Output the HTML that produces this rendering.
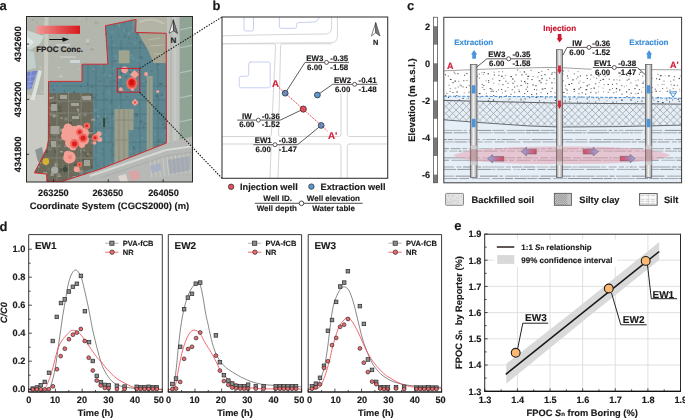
<!DOCTYPE html><html><head><meta charset="utf-8"><style>html,body{margin:0;padding:0;background:#fff;width:685px;height:418px;overflow:hidden}svg{display:block;filter:blur(0.35px)}text{font-family:"Liberation Sans",sans-serif;text-rendering:geometricPrecision}</style></head><body>
<svg width="685" height="418" viewBox="0 0 685 418">
<defs>
<clipPath id="ca"><rect x="26.5" y="16.5" width="166" height="165.5"/></clipPath>
<clipPath id="cb"><rect x="222" y="17" width="165.7" height="161.3"/></clipPath>
<clipPath id="cc"><rect x="443.8" y="17.3" width="237.8" height="165.5"/></clipPath>
<linearGradient id="gconc" x1="0" x2="1" y1="0" y2="0"><stop offset="0" stop-color="#ee9a96"/><stop offset="0.5" stop-color="#e55656"/><stop offset="1" stop-color="#d8191c"/></linearGradient>
<radialGradient id="gblob"><stop offset="0" stop-color="#f39a94"/><stop offset="0.75" stop-color="#f2a098"/><stop offset="1" stop-color="#f2a098" stop-opacity="0.6"/></radialGradient>
<radialGradient id="gred"><stop offset="0" stop-color="#d40c10"/><stop offset="0.45" stop-color="#e23a36"/><stop offset="1" stop-color="#f08a84" stop-opacity="0.2"/></radialGradient>
<linearGradient id="gpipe" x1="0" x2="1" y1="0" y2="0"><stop offset="0" stop-color="#8a8a8a"/><stop offset="0.45" stop-color="#f4f4f4"/><stop offset="1" stop-color="#9a9a9a"/></linearGradient>
<linearGradient id="garrL" x1="0" x2="1" y1="0" y2="0"><stop offset="0" stop-color="#8eaae0"/><stop offset="1" stop-color="#e0485e"/></linearGradient>
<linearGradient id="garrR" x1="0" x2="1" y1="0" y2="0"><stop offset="0" stop-color="#e0485e"/><stop offset="1" stop-color="#8eaae0"/></linearGradient>
<pattern id="phatch" width="6.8" height="6.8" patternUnits="userSpaceOnUse" x="0.5" y="1.2"><path d="M0,0 L6.8,6.8 M6.8,0 L0,6.8" stroke="#979ba0" stroke-width="0.75" fill="none"/></pattern>
</defs>
<g clip-path="url(#ca)">
<rect x="26" y="16" width="168" height="168" fill="#b3b6ac"/>
<rect x="101.1" y="108.92" width="3" height="3" fill="#c8cac2"/><rect x="167.94" y="47.52" width="4" height="3" fill="#c8cac2"/><rect x="157.63" y="31.62" width="2" height="1.5" fill="#a8aa9e"/><rect x="115.42" y="163.8" width="1" height="3" fill="#a2a69c"/><rect x="134.55" y="118.18" width="1.5" height="1" fill="#c8cac2"/><rect x="36.49" y="21.92" width="1.5" height="1" fill="#a2a69c"/><rect x="80.16" y="114.1" width="1.5" height="1.5" fill="#babdb3"/><rect x="108.96" y="125.97" width="3" height="2" fill="#a2a69c"/><rect x="191.61" y="181.28" width="1" height="2" fill="#babdb3"/><rect x="151.83" y="101.14" width="1" height="1" fill="#c8cac2"/><rect x="153.2" y="82.47" width="2" height="3" fill="#a8aa9e"/><rect x="185.04" y="156.65" width="1" height="1.5" fill="#c0c2b8"/><rect x="179.89" y="24.69" width="3" height="3" fill="#a2a69c"/><rect x="38.12" y="120.49" width="2" height="2" fill="#a8aa9e"/><rect x="77.66" y="18.51" width="3" height="1" fill="#c0c2b8"/><rect x="66.9" y="32.77" width="1" height="3" fill="#a2a69c"/><rect x="55.49" y="108.84" width="3" height="1.5" fill="#c0c2b8"/><rect x="95.59" y="79.7" width="3" height="3" fill="#c0c2b8"/><rect x="26.08" y="159.48" width="4" height="2" fill="#a8aa9e"/><rect x="60.98" y="81.45" width="4" height="1" fill="#a8aa9e"/><rect x="190.22" y="51.4" width="2" height="1" fill="#c8cac2"/><rect x="80.61" y="65.19" width="1" height="1" fill="#a8aa9e"/><rect x="60.65" y="121.67" width="1" height="2" fill="#babdb3"/><rect x="129.28" y="37.12" width="4" height="3" fill="#c8cac2"/><rect x="48.53" y="80.09" width="1.5" height="2" fill="#c0c2b8"/><rect x="161.76" y="57.42" width="1.5" height="1.5" fill="#c8cac2"/><rect x="58.63" y="173.72" width="3" height="1" fill="#a2a69c"/><rect x="33.87" y="34.1" width="4" height="2" fill="#c0c2b8"/><rect x="148.81" y="81.01" width="3" height="3" fill="#babdb3"/><rect x="112.33" y="170.25" width="1" height="1.5" fill="#c0c2b8"/><rect x="105.56" y="124.48" width="4" height="1" fill="#babdb3"/><rect x="61.26" y="167.88" width="1" height="1" fill="#babdb3"/><rect x="94.3" y="57.34" width="1" height="1.5" fill="#babdb3"/><rect x="87.22" y="110.98" width="1.5" height="1" fill="#babdb3"/><rect x="48.98" y="90.76" width="2" height="1.5" fill="#c8cac2"/><rect x="31.82" y="18.97" width="2" height="2" fill="#a8aa9e"/><rect x="29.53" y="121.61" width="3" height="1" fill="#babdb3"/><rect x="78.94" y="181.89" width="1" height="3" fill="#c8cac2"/><rect x="87.05" y="23.38" width="1.5" height="2" fill="#babdb3"/><rect x="40.1" y="94.56" width="1" height="3" fill="#a8aa9e"/><rect x="169.34" y="111.09" width="4" height="3" fill="#a2a69c"/><rect x="122.72" y="117.07" width="1" height="1" fill="#a8aa9e"/><rect x="190.89" y="162.05" width="2" height="3" fill="#c8cac2"/><rect x="101.99" y="92.8" width="4" height="1" fill="#c8cac2"/><rect x="150.53" y="20.95" width="4" height="1" fill="#a2a69c"/><rect x="29.7" y="174.93" width="1" height="3" fill="#c8cac2"/><rect x="135.58" y="96.73" width="1" height="2" fill="#babdb3"/><rect x="49.77" y="117.55" width="4" height="1.5" fill="#babdb3"/><rect x="135.56" y="89.36" width="1.5" height="2" fill="#a2a69c"/><rect x="136.54" y="48.95" width="3" height="1.5" fill="#c0c2b8"/><rect x="89.81" y="112.8" width="2" height="1.5" fill="#c0c2b8"/><rect x="48.34" y="74.22" width="1" height="1" fill="#babdb3"/><rect x="162.43" y="34.73" width="3" height="2" fill="#c0c2b8"/><rect x="163.93" y="79.5" width="4" height="3" fill="#babdb3"/><rect x="144.9" y="155.76" width="4" height="3" fill="#babdb3"/><rect x="38.4" y="21.23" width="4" height="1" fill="#babdb3"/><rect x="120.72" y="67.3" width="4" height="1" fill="#c0c2b8"/><rect x="93.26" y="47.53" width="2" height="1.5" fill="#c0c2b8"/><rect x="158.28" y="179.35" width="1" height="3" fill="#a8aa9e"/><rect x="130.57" y="124.74" width="2" height="1" fill="#c0c2b8"/><rect x="59.09" y="94.87" width="1.5" height="1" fill="#a2a69c"/><rect x="114.78" y="22.01" width="1.5" height="2" fill="#babdb3"/><rect x="115.59" y="173.17" width="4" height="1.5" fill="#a2a69c"/><rect x="166.89" y="132.17" width="1.5" height="1" fill="#a2a69c"/><rect x="180.81" y="135.91" width="1.5" height="3" fill="#a2a69c"/><rect x="58.68" y="163.3" width="1" height="3" fill="#c8cac2"/><rect x="120.42" y="161.97" width="2" height="3" fill="#babdb3"/><rect x="134.12" y="50.01" width="1" height="1.5" fill="#c0c2b8"/><rect x="175.4" y="178.76" width="2" height="2" fill="#babdb3"/><rect x="177.06" y="158.06" width="2" height="1" fill="#a8aa9e"/><rect x="99.19" y="107.35" width="2" height="3" fill="#a8aa9e"/><rect x="62.24" y="160.01" width="3" height="1" fill="#c0c2b8"/><rect x="114.5" y="129.97" width="1.5" height="3" fill="#c0c2b8"/><rect x="191.97" y="165.49" width="4" height="3" fill="#a2a69c"/><rect x="122.11" y="130.38" width="1.5" height="3" fill="#c8cac2"/><rect x="118.76" y="153.97" width="4" height="1.5" fill="#c8cac2"/><rect x="111.36" y="166.6" width="2" height="2" fill="#a2a69c"/><rect x="184.49" y="160.43" width="4" height="1.5" fill="#babdb3"/><rect x="167.23" y="176.76" width="4" height="2" fill="#c8cac2"/><rect x="108.61" y="84.24" width="1" height="1" fill="#c8cac2"/><rect x="88.59" y="105.36" width="1" height="3" fill="#c8cac2"/><rect x="158.98" y="109.44" width="3" height="1" fill="#c0c2b8"/><rect x="36.94" y="105.43" width="3" height="3" fill="#babdb3"/><rect x="66.88" y="97.84" width="2" height="3" fill="#a2a69c"/><rect x="113.15" y="34.03" width="3" height="1" fill="#babdb3"/><rect x="47.49" y="145.36" width="1" height="1" fill="#c0c2b8"/><rect x="51.82" y="17.96" width="2" height="2" fill="#babdb3"/><rect x="66.58" y="98.8" width="3" height="1" fill="#c8cac2"/><rect x="129.51" y="135.14" width="4" height="3" fill="#a8aa9e"/><rect x="88.37" y="84.62" width="4" height="1.5" fill="#c8cac2"/><rect x="59.91" y="120.8" width="1.5" height="1.5" fill="#c8cac2"/><rect x="127.54" y="158.22" width="1.5" height="2" fill="#c0c2b8"/><rect x="78.44" y="68.29" width="1.5" height="1.5" fill="#c0c2b8"/><rect x="173.33" y="38.23" width="1.5" height="1.5" fill="#a8aa9e"/><rect x="69.08" y="32.1" width="3" height="1.5" fill="#c0c2b8"/><rect x="92.86" y="129.75" width="1" height="1" fill="#c0c2b8"/><rect x="120.6" y="75.36" width="2" height="1" fill="#c8cac2"/><rect x="131.35" y="73.02" width="1.5" height="1" fill="#a2a69c"/><rect x="43.62" y="22.21" width="4" height="3" fill="#c0c2b8"/><rect x="57.47" y="35.08" width="1.5" height="1.5" fill="#babdb3"/><rect x="179.86" y="31.81" width="1" height="1.5" fill="#a2a69c"/><rect x="38.88" y="32.05" width="3" height="3" fill="#a2a69c"/><rect x="111.54" y="87.39" width="4" height="2" fill="#a8aa9e"/><rect x="131.25" y="22.79" width="1.5" height="1.5" fill="#a2a69c"/><rect x="101.36" y="138.73" width="3" height="1.5" fill="#c8cac2"/><rect x="53.4" y="101.09" width="1" height="2" fill="#a8aa9e"/><rect x="159.08" y="132.98" width="3" height="1.5" fill="#c8cac2"/><rect x="123.05" y="72.6" width="2" height="2" fill="#a8aa9e"/><rect x="149.58" y="145.15" width="3" height="1.5" fill="#babdb3"/><rect x="172.05" y="131.34" width="3" height="1.5" fill="#a2a69c"/><rect x="60.33" y="46.68" width="2" height="2" fill="#a2a69c"/><rect x="42.74" y="163.42" width="4" height="1" fill="#c0c2b8"/><rect x="71.31" y="175.6" width="2" height="2" fill="#c0c2b8"/><rect x="135.52" y="110.55" width="4" height="1" fill="#a2a69c"/><rect x="111.44" y="98.6" width="1.5" height="1" fill="#a2a69c"/><rect x="188.69" y="19.79" width="4" height="1" fill="#c0c2b8"/><rect x="68.6" y="82.66" width="1" height="1.5" fill="#a2a69c"/><rect x="27.79" y="58.92" width="2" height="2" fill="#c8cac2"/><rect x="115.72" y="85" width="4" height="1" fill="#a2a69c"/><rect x="160.38" y="28.65" width="4" height="1" fill="#a2a69c"/><rect x="180.41" y="42.55" width="3" height="1.5" fill="#a2a69c"/><rect x="115.96" y="115.03" width="3" height="3" fill="#a2a69c"/><rect x="73.22" y="82.16" width="2" height="2" fill="#c8cac2"/><rect x="73.43" y="124.75" width="4" height="2" fill="#babdb3"/><rect x="30.46" y="144.23" width="4" height="1" fill="#c0c2b8"/><rect x="93.86" y="129.6" width="1" height="2" fill="#a2a69c"/><rect x="34.33" y="180.14" width="2" height="1" fill="#c0c2b8"/><rect x="97.3" y="95.28" width="1.5" height="1" fill="#c8cac2"/><rect x="42.35" y="150.49" width="3" height="1.5" fill="#c0c2b8"/><rect x="126.2" y="35.11" width="4" height="3" fill="#a2a69c"/><rect x="45.58" y="158.95" width="2" height="1.5" fill="#a8aa9e"/><rect x="86.31" y="39.2" width="3" height="3" fill="#c8cac2"/><rect x="69.51" y="112.65" width="3" height="2" fill="#c8cac2"/><rect x="161.31" y="38.74" width="2" height="1.5" fill="#c0c2b8"/><rect x="105.86" y="99.49" width="2" height="2" fill="#babdb3"/><rect x="71.07" y="129.72" width="4" height="1.5" fill="#babdb3"/><rect x="151.06" y="47.51" width="1.5" height="1.5" fill="#a8aa9e"/><rect x="130.32" y="17.57" width="2" height="3" fill="#a8aa9e"/><rect x="129.48" y="33.01" width="4" height="2" fill="#a8aa9e"/><rect x="151.46" y="167.54" width="1.5" height="1.5" fill="#babdb3"/><rect x="106.35" y="74.78" width="2" height="2" fill="#a2a69c"/><rect x="149.64" y="155.2" width="1" height="1" fill="#a2a69c"/><rect x="160.32" y="119.54" width="1.5" height="3" fill="#a2a69c"/><rect x="150.06" y="80.76" width="1.5" height="2" fill="#c0c2b8"/><rect x="134.51" y="180.2" width="2" height="2" fill="#c8cac2"/><rect x="151.99" y="153.14" width="1.5" height="3" fill="#babdb3"/><rect x="122.38" y="92.69" width="2" height="1" fill="#c8cac2"/><rect x="39.78" y="109.66" width="3" height="3" fill="#babdb3"/><rect x="162.7" y="17.54" width="2" height="1.5" fill="#c8cac2"/><rect x="39.56" y="66.43" width="2" height="2" fill="#c0c2b8"/><rect x="62.31" y="125.11" width="2" height="2" fill="#a8aa9e"/><rect x="79.53" y="89.2" width="4" height="2" fill="#a2a69c"/><rect x="114.02" y="180.73" width="3" height="2" fill="#c0c2b8"/><rect x="92.33" y="171.15" width="4" height="1.5" fill="#a8aa9e"/><rect x="86.04" y="76.68" width="2" height="3" fill="#c8cac2"/><rect x="90.34" y="48.36" width="4" height="2" fill="#a2a69c"/><rect x="115.73" y="154.84" width="4" height="1.5" fill="#c0c2b8"/><rect x="40.9" y="91.43" width="2" height="1" fill="#c0c2b8"/><rect x="111.6" y="106.33" width="4" height="2" fill="#a8aa9e"/><rect x="134.1" y="149.52" width="1" height="2" fill="#c8cac2"/><rect x="39.95" y="29.56" width="1" height="2" fill="#a8aa9e"/><rect x="30.31" y="124.49" width="1" height="3" fill="#c0c2b8"/><rect x="144.23" y="97.18" width="4" height="2" fill="#a2a69c"/><rect x="91.47" y="72.08" width="2" height="1.5" fill="#a2a69c"/><rect x="107.01" y="149.59" width="1" height="1" fill="#a2a69c"/><rect x="151.67" y="179.63" width="2" height="1" fill="#a2a69c"/><rect x="164.42" y="163.52" width="4" height="1" fill="#c8cac2"/><rect x="86.1" y="17.68" width="1" height="3" fill="#a2a69c"/><rect x="177.98" y="56.79" width="1.5" height="3" fill="#c0c2b8"/><rect x="79.27" y="80.63" width="4" height="2" fill="#babdb3"/><rect x="186.98" y="25.83" width="2" height="1" fill="#babdb3"/><rect x="133.56" y="144.81" width="1.5" height="1" fill="#a2a69c"/><rect x="28.85" y="95.86" width="1" height="2" fill="#a8aa9e"/><rect x="58.81" y="75.65" width="4" height="1.5" fill="#c8cac2"/><rect x="145.06" y="114.73" width="1.5" height="3" fill="#c0c2b8"/><rect x="174.49" y="82.81" width="2" height="3" fill="#babdb3"/><rect x="106.47" y="82.83" width="2" height="1" fill="#a2a69c"/><rect x="169.19" y="82.3" width="1.5" height="1.5" fill="#a2a69c"/><rect x="188.02" y="147.92" width="2" height="1" fill="#c0c2b8"/><rect x="174.1" y="161.09" width="2" height="3" fill="#c0c2b8"/><rect x="144.41" y="116.61" width="1.5" height="3" fill="#c0c2b8"/><rect x="154.14" y="40.03" width="4" height="1.5" fill="#c8cac2"/><rect x="70.24" y="104.74" width="1.5" height="1.5" fill="#a8aa9e"/><rect x="59.91" y="168.09" width="1.5" height="1.5" fill="#a8aa9e"/><rect x="84.39" y="118.07" width="4" height="1" fill="#a2a69c"/><rect x="141.15" y="29.75" width="4" height="2" fill="#a8aa9e"/><rect x="157.03" y="85.22" width="1" height="3" fill="#c0c2b8"/><rect x="32.18" y="84.58" width="3" height="1.5" fill="#babdb3"/><rect x="78.47" y="83.31" width="4" height="2" fill="#a2a69c"/><rect x="136.75" y="27.13" width="1" height="1.5" fill="#a8aa9e"/><rect x="136.83" y="128.19" width="1" height="3" fill="#a8aa9e"/><rect x="169.37" y="134.15" width="3" height="1.5" fill="#babdb3"/><rect x="119.64" y="92.04" width="1" height="1.5" fill="#c8cac2"/><rect x="51.25" y="120.21" width="4" height="2" fill="#babdb3"/><rect x="151.32" y="108.23" width="1" height="2" fill="#c0c2b8"/><rect x="59.19" y="137.42" width="2" height="2" fill="#babdb3"/><rect x="119.43" y="136.15" width="2" height="3" fill="#a2a69c"/><rect x="41.32" y="39.38" width="1" height="1.5" fill="#c0c2b8"/><rect x="55.86" y="82.78" width="3" height="1" fill="#a8aa9e"/><rect x="63.61" y="42.08" width="1" height="3" fill="#a2a69c"/><rect x="154.02" y="72.71" width="3" height="1.5" fill="#c0c2b8"/><rect x="153.3" y="152.3" width="3" height="3" fill="#babdb3"/><rect x="178.94" y="119.42" width="3" height="2" fill="#c0c2b8"/><rect x="135.6" y="117.03" width="1" height="2" fill="#babdb3"/><rect x="57.33" y="66.93" width="3" height="1" fill="#c8cac2"/><rect x="88.68" y="100.55" width="2" height="1" fill="#c8cac2"/><rect x="144.43" y="58.14" width="4" height="2" fill="#c8cac2"/><rect x="64.83" y="117.59" width="4" height="1.5" fill="#c8cac2"/><rect x="144.43" y="179.81" width="4" height="1.5" fill="#c8cac2"/><rect x="182.85" y="120.1" width="1.5" height="1" fill="#c0c2b8"/><rect x="66.6" y="111.7" width="2" height="2" fill="#a8aa9e"/><rect x="180.22" y="75.96" width="3" height="1" fill="#a2a69c"/><rect x="187.61" y="38.51" width="4" height="1" fill="#c8cac2"/><rect x="177.91" y="43.98" width="2" height="1.5" fill="#a8aa9e"/><rect x="181.04" y="16.63" width="2" height="1.5" fill="#c8cac2"/><rect x="86.27" y="43.54" width="4" height="1" fill="#a2a69c"/><rect x="31.32" y="45.89" width="1.5" height="2" fill="#a2a69c"/><rect x="128.13" y="122.29" width="1" height="1.5" fill="#c0c2b8"/><rect x="94.39" y="21.49" width="4" height="3" fill="#a8aa9e"/><rect x="120.54" y="44.83" width="4" height="1.5" fill="#babdb3"/><rect x="66.53" y="170.66" width="1" height="1" fill="#c0c2b8"/><rect x="92.93" y="98.59" width="1" height="3" fill="#babdb3"/><rect x="94.3" y="119.55" width="4" height="3" fill="#babdb3"/><rect x="106.64" y="181.11" width="3" height="3" fill="#a8aa9e"/><rect x="119.95" y="166.27" width="4" height="2" fill="#c8cac2"/><rect x="112.43" y="85.78" width="1" height="2" fill="#a8aa9e"/><rect x="75.14" y="118.29" width="3" height="3" fill="#c8cac2"/><rect x="79.44" y="147.07" width="4" height="1" fill="#c0c2b8"/><rect x="46.66" y="90.2" width="4" height="3" fill="#a8aa9e"/><rect x="104.97" y="33.49" width="1.5" height="2" fill="#a2a69c"/><rect x="182.08" y="162.04" width="2" height="3" fill="#c8cac2"/><rect x="159.67" y="52.82" width="3" height="1" fill="#a8aa9e"/><rect x="42.36" y="147.53" width="1" height="3" fill="#a8aa9e"/><rect x="75.15" y="136.88" width="1" height="2" fill="#c0c2b8"/><rect x="36.4" y="164.59" width="4" height="3" fill="#c0c2b8"/><rect x="85.18" y="113.19" width="1" height="2" fill="#a8aa9e"/><rect x="101.51" y="68.09" width="2" height="3" fill="#c0c2b8"/><rect x="181.03" y="178.23" width="3" height="1.5" fill="#c0c2b8"/><rect x="75.03" y="169.16" width="1" height="1.5" fill="#babdb3"/><rect x="165.09" y="74.79" width="3" height="1" fill="#c0c2b8"/><rect x="131.47" y="131.85" width="4" height="1.5" fill="#c8cac2"/><rect x="130.98" y="47.79" width="1" height="1" fill="#babdb3"/><rect x="146.48" y="67.96" width="2" height="3" fill="#c0c2b8"/><rect x="81.6" y="174.85" width="3" height="3" fill="#a8aa9e"/><rect x="54.12" y="159.01" width="1" height="1.5" fill="#babdb3"/><rect x="56.05" y="55.08" width="2" height="2" fill="#babdb3"/><rect x="159.42" y="103.05" width="1" height="1.5" fill="#babdb3"/><rect x="174.65" y="45.97" width="1.5" height="2" fill="#c0c2b8"/><rect x="132.23" y="30.94" width="1" height="3" fill="#c8cac2"/><rect x="38.25" y="166.63" width="1" height="2" fill="#c8cac2"/><rect x="67.65" y="149.33" width="1" height="1.5" fill="#babdb3"/><rect x="190.07" y="47.46" width="1.5" height="2" fill="#c8cac2"/><rect x="30.79" y="147.2" width="1.5" height="1" fill="#c8cac2"/><rect x="102.63" y="140.6" width="3" height="1" fill="#a2a69c"/><rect x="36" y="26.63" width="2" height="2" fill="#a2a69c"/><rect x="155.98" y="101.78" width="4" height="1.5" fill="#c8cac2"/><rect x="155.42" y="43.42" width="4" height="3" fill="#c0c2b8"/><rect x="136.96" y="106.94" width="2" height="1.5" fill="#babdb3"/><rect x="107.19" y="52.73" width="4" height="3" fill="#babdb3"/><rect x="31.87" y="115.07" width="1" height="3" fill="#c0c2b8"/>
<path d="M26,30 L44,36 L40,44 L30,50 L26,48 Z" fill="#cbd6d0"/>
<path d="M26,36 L34,42 L29,47 L26,46Z" fill="#e2eae6"/>
<rect x="26" y="95" width="19" height="87" fill="#c8cac3"/>
<path d="M44.5,16 L48.5,16 L47,182 L43,182 Z" fill="#c9cbc3"/>
<path d="M26.5,72 L37.5,70.5 L31.5,88.5 L26.5,90 Z" fill="#7585cc"/>
<path d="M27,77 L36,75.5 M27,82 L34,81 M27,86.5 L32.5,85.5 M31.5,71 L28.5,89" stroke="#a8b4e4" stroke-width="0.6" fill="none"/>
<path d="M38.5,70 Q35,85 30.5,100 L34.5,100 Q38.5,85 42,71 Z" fill="#dce3df"/>
<path d="M26.5,50 L34,52 L36,68 L26.5,70 Z" fill="#c2d0cc"/>
<path d="M35,150 L42,147 L45,160 L38,162 Z" fill="#8e9494"/>
<rect x="56" y="44" width="14" height="2" fill="#c8ccc6"/><rect x="60" y="56" width="16" height="2" fill="#c4c6be"/><rect x="70" y="60" width="10" height="3" fill="#cfd6da"/>
<rect x="167" y="16" width="12" height="170" fill="#c0c3bd"/>
<line x1="171" y1="16" x2="171" y2="182" stroke="#a6aaa4" stroke-width="0.8"/>
<line x1="175" y1="16" x2="175" y2="182" stroke="#d2d4ce" stroke-width="0.8"/>
<rect x="179" y="16" width="15" height="170" fill="#90a496"/>
<line x1="179" y1="30" x2="194" y2="27" stroke="#b6c2b8" stroke-width="1.2"/>
<line x1="179" y1="48" x2="194" y2="45" stroke="#b6c2b8" stroke-width="1.2"/>
<line x1="179" y1="73" x2="194" y2="70" stroke="#b6c2b8" stroke-width="1.2"/>
<line x1="179" y1="98" x2="194" y2="95" stroke="#b6c2b8" stroke-width="1.2"/>
<line x1="179" y1="122" x2="194" y2="119" stroke="#b6c2b8" stroke-width="1.2"/>
<line x1="179" y1="150" x2="194" y2="147" stroke="#b6c2b8" stroke-width="1.2"/>
<line x1="179.5" y1="16" x2="179.5" y2="182" stroke="#aab5ac" stroke-width="1"/>
<path d="M136,16 L167,16 L167,34 L136,33 Z" fill="#b4b4a6"/>
<path d="M140,22 Q152,16 164,24" stroke="#c6c4b6" stroke-width="2" fill="none"/>
<path d="M62,182 L166,143 L194,136 L194,182 Z" fill="#b6b9b5"/>
<line x1="150" y1="160" x2="152" y2="178" stroke="#d0d3d0" stroke-width="0.7"/>
<line x1="154.2" y1="159.1" x2="156.2" y2="177.4" stroke="#d0d3d0" stroke-width="0.7"/>
<line x1="158.4" y1="158.2" x2="160.4" y2="176.8" stroke="#d0d3d0" stroke-width="0.7"/>
<line x1="162.6" y1="157.3" x2="164.6" y2="176.2" stroke="#d0d3d0" stroke-width="0.7"/>
<line x1="166.8" y1="156.4" x2="168.8" y2="175.6" stroke="#d0d3d0" stroke-width="0.7"/>
<line x1="171" y1="155.5" x2="173" y2="175" stroke="#d0d3d0" stroke-width="0.7"/>
<line x1="175.2" y1="154.6" x2="177.2" y2="174.4" stroke="#d0d3d0" stroke-width="0.7"/>
<line x1="179.4" y1="153.7" x2="181.4" y2="173.8" stroke="#d0d3d0" stroke-width="0.7"/>
<line x1="183.6" y1="152.8" x2="185.6" y2="173.2" stroke="#d0d3d0" stroke-width="0.7"/>
<line x1="187.8" y1="151.9" x2="189.8" y2="172.6" stroke="#d0d3d0" stroke-width="0.7"/>
<path d="M90,176 L166,150 L194,146" stroke="#d6d8d4" stroke-width="2" fill="none"/>
<path d="M100,178 L166,156 L194,152" stroke="#a8aca8" stroke-width="1" fill="none"/>
<path d="M128,172 L138,170 L141,178 L131,181 Z" fill="#d8a6a6"/>
<path d="M118,176 L126,174 L128,182 L120,182 Z" fill="#e0d6d0"/>
<path d="M150,166 L160,163 L162,170 L152,173 Z" fill="#aab0c4"/>
<path d="M168,160 L190,156 L190,170 L170,174 Z" fill="#9aa0b0" opacity="0.6"/>
<clipPath id="cpoly"><path d="M105.4,25.7 L136.1,19.4 L135.6,32.4 L166.2,33.3 L166.4,143.1 L100,169.2 L62.4,181.4 L46.9,181.4 L46.6,174.1 L34.4,172.8 L46.8,148.5 L48.5,140 L48.5,81.4 L82,81.4 L82,64.2 L107.9,64.2 Z"/></clipPath>
<g clip-path="url(#cpoly)">
<rect x="26" y="16" width="168" height="168" fill="#5d8790"/>
<rect x="85.33" y="110.85" width="3" height="3" fill="#4d7078"/><rect x="99.44" y="58.7" width="1" height="1" fill="#527a84"/><rect x="155.78" y="104.9" width="1.5" height="1.5" fill="#527a84"/><rect x="83.63" y="25.39" width="2" height="2" fill="#4d7078"/><rect x="106.3" y="117.16" width="1.5" height="3" fill="#557c83"/><rect x="76.02" y="94.03" width="3" height="1" fill="#557c83"/><rect x="95.69" y="74.03" width="1.5" height="1" fill="#6a939b"/><rect x="105.23" y="133.95" width="1.5" height="1.5" fill="#6e949c"/><rect x="109.12" y="167.83" width="1" height="1.5" fill="#6e949c"/><rect x="153.7" y="40.37" width="3" height="2" fill="#6e949c"/><rect x="97.36" y="30.55" width="1" height="1.5" fill="#557c83"/><rect x="76.64" y="102.33" width="1.5" height="3" fill="#6e949c"/><rect x="56.41" y="53.31" width="2" height="2" fill="#4d7078"/><rect x="72.42" y="43.22" width="1" height="2" fill="#4d7078"/><rect x="130.06" y="149.53" width="1.5" height="3" fill="#6e949c"/><rect x="159.19" y="51.21" width="3" height="1" fill="#6a939b"/><rect x="96.63" y="56.22" width="1.5" height="3" fill="#6a939b"/><rect x="94.43" y="108.68" width="2" height="3" fill="#6e949c"/><rect x="105.32" y="113.62" width="1.5" height="3" fill="#6a939b"/><rect x="111.38" y="82.3" width="1" height="2" fill="#557c83"/><rect x="160.8" y="112.77" width="1.5" height="2" fill="#4d7078"/><rect x="93.55" y="158.46" width="1.5" height="2" fill="#527a84"/><rect x="89.69" y="42.18" width="2" height="1.5" fill="#6a939b"/><rect x="133.54" y="155.97" width="1" height="2" fill="#6e949c"/><rect x="100.44" y="148.04" width="3" height="2" fill="#557c83"/><rect x="139.26" y="97.41" width="1" height="2" fill="#6e949c"/><rect x="119.56" y="92.75" width="1.5" height="1.5" fill="#4d7078"/><rect x="118.04" y="23.8" width="2" height="3" fill="#6e949c"/><rect x="103.91" y="123.8" width="2" height="2" fill="#6e949c"/><rect x="126.61" y="41.23" width="1.5" height="2" fill="#4d7078"/><rect x="132.24" y="80.2" width="3" height="2" fill="#6a939b"/><rect x="58.42" y="74.94" width="1.5" height="1.5" fill="#527a84"/><rect x="148.63" y="131.81" width="3" height="1" fill="#557c83"/><rect x="125.91" y="29.1" width="1.5" height="2" fill="#527a84"/><rect x="161.57" y="150.12" width="1.5" height="2" fill="#527a84"/><rect x="142.75" y="37.09" width="3" height="1" fill="#6e949c"/><rect x="92.39" y="68.56" width="3" height="2" fill="#6a939b"/><rect x="65.19" y="79.77" width="3" height="1.5" fill="#557c83"/><rect x="126.49" y="55.21" width="1" height="2" fill="#6e949c"/><rect x="143.31" y="91.22" width="2" height="2" fill="#527a84"/><rect x="155.21" y="37.17" width="1" height="3" fill="#557c83"/><rect x="52.61" y="93.83" width="2" height="3" fill="#557c83"/><rect x="153.22" y="29.91" width="1" height="2" fill="#557c83"/><rect x="153.9" y="104.42" width="2" height="1.5" fill="#6e949c"/><rect x="92.51" y="70.56" width="2" height="1" fill="#4d7078"/><rect x="131.58" y="51.7" width="1" height="1" fill="#4d7078"/><rect x="111.69" y="111.53" width="1" height="2" fill="#527a84"/><rect x="146.38" y="151.84" width="3" height="3" fill="#527a84"/><rect x="143.26" y="122.2" width="2" height="2" fill="#6e949c"/><rect x="89.61" y="166.52" width="1.5" height="1.5" fill="#557c83"/><rect x="73.65" y="121.71" width="1.5" height="1" fill="#4d7078"/><rect x="164.55" y="19.53" width="3" height="1" fill="#4d7078"/><rect x="145.64" y="152.51" width="2" height="2" fill="#557c83"/><rect x="58.57" y="21.92" width="1.5" height="3" fill="#6a939b"/><rect x="162.63" y="143.48" width="1.5" height="2" fill="#4d7078"/><rect x="129.4" y="140.55" width="2" height="2" fill="#6e949c"/><rect x="80.57" y="132.09" width="3" height="1.5" fill="#6a939b"/><rect x="89.83" y="125.63" width="1.5" height="1" fill="#527a84"/><rect x="144.96" y="152.73" width="2" height="1" fill="#6e949c"/><rect x="107.99" y="121.57" width="1" height="1.5" fill="#4d7078"/><rect x="150.82" y="150.34" width="1" height="2" fill="#557c83"/><rect x="94.08" y="130.66" width="3" height="2" fill="#557c83"/><rect x="90.49" y="122.11" width="1.5" height="2" fill="#6a939b"/><rect x="147.97" y="144.11" width="3" height="1.5" fill="#4d7078"/><rect x="135.57" y="59.61" width="1.5" height="1.5" fill="#6a939b"/><rect x="91.61" y="120.07" width="1.5" height="1.5" fill="#527a84"/><rect x="103.09" y="123.77" width="1.5" height="2" fill="#557c83"/><rect x="96.74" y="114.35" width="3" height="3" fill="#6a939b"/><rect x="51.89" y="126.7" width="1" height="1" fill="#6a939b"/><rect x="80.61" y="129.42" width="1" height="3" fill="#557c83"/><rect x="155.47" y="144.75" width="3" height="1.5" fill="#557c83"/><rect x="54.15" y="85.26" width="2" height="1.5" fill="#6e949c"/><rect x="133.35" y="80.64" width="1.5" height="3" fill="#6a939b"/><rect x="112.06" y="139.83" width="1.5" height="3" fill="#6a939b"/><rect x="146.89" y="102.98" width="2" height="3" fill="#6e949c"/><rect x="60.56" y="67.87" width="1" height="2" fill="#4d7078"/><rect x="114.83" y="60.34" width="3" height="2" fill="#557c83"/><rect x="73.54" y="91.81" width="2" height="2" fill="#4d7078"/><rect x="52.2" y="28.72" width="2" height="1" fill="#527a84"/><rect x="68.08" y="92" width="1.5" height="3" fill="#6e949c"/><rect x="49.89" y="72.06" width="3" height="1" fill="#6a939b"/><rect x="112.62" y="118.19" width="2" height="2" fill="#6a939b"/><rect x="159.6" y="149.55" width="3" height="1" fill="#6a939b"/><rect x="149.73" y="161.65" width="1" height="1" fill="#557c83"/><rect x="89.43" y="132.79" width="2" height="1" fill="#4d7078"/><rect x="102.37" y="152.86" width="1" height="2" fill="#527a84"/><rect x="138.79" y="59.01" width="1.5" height="3" fill="#6e949c"/><rect x="83.26" y="99.24" width="1" height="3" fill="#6e949c"/><rect x="147.63" y="80.69" width="1" height="1" fill="#4d7078"/><rect x="63.03" y="67.87" width="2" height="2" fill="#557c83"/><rect x="121.86" y="86.92" width="2" height="2" fill="#527a84"/><rect x="155.52" y="67.57" width="1" height="2" fill="#557c83"/><rect x="71.85" y="46.19" width="1" height="1.5" fill="#4d7078"/><rect x="82.84" y="50.1" width="2" height="1" fill="#6a939b"/><rect x="63.3" y="71.9" width="3" height="1" fill="#527a84"/><rect x="94.37" y="26.88" width="1" height="2" fill="#4d7078"/><rect x="147.62" y="133.99" width="1" height="1.5" fill="#557c83"/><rect x="54.05" y="107.95" width="2" height="3" fill="#6e949c"/><rect x="162.48" y="52.16" width="3" height="1.5" fill="#557c83"/><rect x="54.46" y="77.91" width="2" height="1.5" fill="#557c83"/><rect x="109.54" y="20.52" width="3" height="1" fill="#6a939b"/><rect x="120.59" y="71.03" width="3" height="3" fill="#4d7078"/><rect x="163.29" y="158.65" width="1" height="3" fill="#6e949c"/><rect x="126.52" y="82.32" width="3" height="1.5" fill="#6e949c"/><rect x="118.68" y="105.49" width="1" height="3" fill="#6e949c"/><rect x="80.39" y="25.97" width="1" height="2" fill="#6a939b"/><rect x="110.97" y="68.55" width="2" height="2" fill="#6a939b"/><rect x="135.15" y="168.4" width="3" height="1" fill="#6a939b"/><rect x="137.09" y="154.5" width="1" height="1.5" fill="#6a939b"/><rect x="147.67" y="117.03" width="1.5" height="1" fill="#527a84"/><rect x="107.9" y="169.05" width="1" height="1.5" fill="#527a84"/><rect x="132.11" y="56.86" width="2" height="3" fill="#6a939b"/><rect x="110.89" y="149.7" width="1.5" height="3" fill="#557c83"/><rect x="162.37" y="55.02" width="1" height="3" fill="#6e949c"/><rect x="152.09" y="29.9" width="3" height="1" fill="#4d7078"/><rect x="163.7" y="28.92" width="1.5" height="2" fill="#6a939b"/><rect x="58.14" y="24.56" width="2" height="1.5" fill="#557c83"/><rect x="60.21" y="46.44" width="3" height="1" fill="#4d7078"/><rect x="102.35" y="92.86" width="1" height="1.5" fill="#4d7078"/><rect x="122.13" y="151.36" width="1.5" height="3" fill="#6e949c"/><rect x="47.86" y="70.28" width="2" height="2" fill="#4d7078"/><rect x="71.24" y="50.65" width="1.5" height="1.5" fill="#4d7078"/><rect x="102.44" y="38.49" width="1" height="2" fill="#557c83"/><rect x="119.81" y="72.99" width="1.5" height="1" fill="#527a84"/><rect x="129.69" y="130.17" width="2" height="2" fill="#6e949c"/><rect x="70.22" y="29.79" width="2" height="3" fill="#557c83"/><rect x="145.24" y="80.76" width="3" height="1.5" fill="#4d7078"/><rect x="60.95" y="33.35" width="3" height="1.5" fill="#6e949c"/><rect x="116.09" y="62.02" width="2" height="1" fill="#6e949c"/><rect x="73.3" y="91.1" width="1.5" height="3" fill="#4d7078"/><rect x="72.67" y="115.59" width="2" height="3" fill="#557c83"/><rect x="80.04" y="85.58" width="2" height="2" fill="#527a84"/><rect x="127.32" y="55.95" width="3" height="2" fill="#6a939b"/><rect x="117.79" y="149.8" width="3" height="3" fill="#557c83"/><rect x="87.33" y="142.9" width="1" height="1" fill="#6e949c"/><rect x="154.48" y="32.35" width="2" height="1" fill="#557c83"/><rect x="49.66" y="108.12" width="2" height="1" fill="#6a939b"/><rect x="102.77" y="73.62" width="3" height="2" fill="#6e949c"/><rect x="127.18" y="110.44" width="1.5" height="1" fill="#6e949c"/><rect x="98.44" y="53.72" width="1" height="1" fill="#527a84"/><rect x="166.97" y="118.08" width="1.5" height="1.5" fill="#6e949c"/><rect x="90.76" y="40.59" width="3" height="1" fill="#527a84"/><rect x="46.44" y="163.71" width="2" height="3" fill="#527a84"/><rect x="98.41" y="42.53" width="2" height="2" fill="#527a84"/><rect x="59.18" y="81.35" width="1" height="1" fill="#557c83"/><rect x="166.87" y="104.17" width="1" height="1.5" fill="#6a939b"/><rect x="126.19" y="95.97" width="2" height="2" fill="#557c83"/><rect x="140.07" y="56.26" width="3" height="3" fill="#527a84"/><rect x="165.76" y="107.92" width="1.5" height="1" fill="#6e949c"/><rect x="62.66" y="154.68" width="1.5" height="1.5" fill="#4d7078"/><rect x="109.52" y="80.37" width="1" height="3" fill="#527a84"/><rect x="73.69" y="139.37" width="1" height="3" fill="#6a939b"/><rect x="81.59" y="112.41" width="3" height="1" fill="#6e949c"/><rect x="82.39" y="164.9" width="1" height="3" fill="#6e949c"/><rect x="82.24" y="51.41" width="1" height="3" fill="#557c83"/><rect x="154.37" y="49.75" width="1.5" height="1" fill="#6e949c"/><rect x="121.7" y="59.38" width="2" height="1.5" fill="#557c83"/><rect x="56.22" y="138.55" width="3" height="2" fill="#6e949c"/><rect x="86.4" y="36.64" width="2" height="1" fill="#6a939b"/><rect x="109.87" y="101.68" width="3" height="1.5" fill="#527a84"/><rect x="132.29" y="23.89" width="2" height="3" fill="#6a939b"/><rect x="108.9" y="98.56" width="1" height="2" fill="#6e949c"/><rect x="117.79" y="34.84" width="2" height="1.5" fill="#557c83"/><rect x="162.56" y="123.76" width="2" height="1.5" fill="#4d7078"/><rect x="138.28" y="27.46" width="1.5" height="3" fill="#527a84"/><rect x="108.46" y="132.82" width="1" height="1" fill="#6a939b"/><rect x="76.49" y="59.79" width="3" height="2" fill="#6e949c"/><rect x="56.86" y="105.4" width="1" height="1" fill="#6e949c"/><rect x="165.08" y="144.56" width="2" height="1" fill="#557c83"/><rect x="64.07" y="42.54" width="2" height="2" fill="#527a84"/><rect x="166.97" y="93.04" width="3" height="1" fill="#4d7078"/><rect x="62.76" y="70.35" width="1" height="1.5" fill="#4d7078"/><rect x="112.17" y="143.39" width="3" height="3" fill="#557c83"/><rect x="128.24" y="167.54" width="1" height="1.5" fill="#527a84"/><rect x="99.3" y="132.49" width="3" height="3" fill="#6e949c"/><rect x="142.94" y="86.2" width="1" height="1" fill="#557c83"/><rect x="126.62" y="101.77" width="1" height="1" fill="#6e949c"/><rect x="83.52" y="163.03" width="1" height="1.5" fill="#527a84"/><rect x="96.19" y="99.99" width="1" height="1.5" fill="#557c83"/><rect x="103.16" y="23.74" width="3" height="3" fill="#6a939b"/><rect x="127.6" y="159.15" width="3" height="3" fill="#6e949c"/><rect x="107.89" y="91.74" width="1.5" height="2" fill="#6a939b"/><rect x="47.78" y="143.31" width="2" height="3" fill="#4d7078"/><rect x="143.16" y="122.25" width="3" height="3" fill="#557c83"/><rect x="139.28" y="41.32" width="3" height="2" fill="#527a84"/><rect x="130.39" y="54.27" width="2" height="2" fill="#6e949c"/><rect x="115.57" y="57.82" width="1" height="2" fill="#6e949c"/><rect x="75.43" y="51.22" width="1" height="1.5" fill="#6e949c"/><rect x="156.07" y="87.82" width="3" height="1" fill="#6a939b"/><rect x="68.53" y="112.61" width="2" height="1.5" fill="#527a84"/><rect x="166.2" y="72.14" width="1.5" height="3" fill="#557c83"/><rect x="105.24" y="86.45" width="2" height="2" fill="#527a84"/><rect x="75.89" y="42.58" width="1.5" height="2" fill="#527a84"/><rect x="65.74" y="47.71" width="1.5" height="2" fill="#557c83"/><rect x="90.05" y="162.6" width="2" height="2" fill="#527a84"/><rect x="76.15" y="22.07" width="2" height="2" fill="#557c83"/><rect x="76.6" y="38.86" width="3" height="1" fill="#557c83"/><rect x="49.51" y="138.84" width="1.5" height="3" fill="#6a939b"/><rect x="145.45" y="101.21" width="1.5" height="1" fill="#4d7078"/><rect x="142.83" y="43.58" width="2" height="2" fill="#527a84"/><rect x="97.68" y="136.77" width="1.5" height="3" fill="#6e949c"/><rect x="129.03" y="71.19" width="1.5" height="2" fill="#4d7078"/><rect x="133.92" y="152.71" width="1" height="1" fill="#4d7078"/><rect x="159.8" y="118.23" width="1" height="2" fill="#527a84"/><rect x="58.34" y="104.38" width="1" height="1.5" fill="#557c83"/><rect x="83.43" y="150.69" width="1" height="1" fill="#6a939b"/><rect x="49.59" y="105.21" width="1" height="3" fill="#4d7078"/><rect x="128.21" y="32" width="2" height="3" fill="#6a939b"/><rect x="152.44" y="34.36" width="1.5" height="3" fill="#6a939b"/><rect x="55.52" y="92.53" width="1" height="1.5" fill="#557c83"/><rect x="76.98" y="52.13" width="2" height="1.5" fill="#4d7078"/><rect x="160.94" y="158.73" width="3" height="1" fill="#4d7078"/><rect x="105.25" y="108.19" width="2" height="1.5" fill="#527a84"/><rect x="139.08" y="42.73" width="1" height="1" fill="#527a84"/><rect x="82.05" y="64.42" width="1" height="3" fill="#527a84"/><rect x="64.04" y="47.14" width="1" height="1" fill="#557c83"/><rect x="54.22" y="138.92" width="3" height="1.5" fill="#6e949c"/><rect x="88.42" y="52.12" width="3" height="1" fill="#6a939b"/><rect x="77.73" y="107.43" width="2" height="2" fill="#6e949c"/><rect x="124.84" y="159.58" width="3" height="1.5" fill="#6a939b"/><rect x="64.15" y="57.27" width="3" height="1.5" fill="#557c83"/><rect x="68.36" y="121.39" width="2" height="2" fill="#4d7078"/><rect x="152.12" y="46.86" width="1.5" height="1" fill="#557c83"/><rect x="107.68" y="130.65" width="1.5" height="1" fill="#6a939b"/><rect x="111.35" y="30.86" width="1.5" height="3" fill="#6a939b"/><rect x="51.44" y="103.13" width="1.5" height="2" fill="#557c83"/><rect x="54.46" y="30.05" width="3" height="1.5" fill="#6e949c"/><rect x="141.54" y="137.13" width="2" height="1.5" fill="#6e949c"/><rect x="155.71" y="103.9" width="1" height="3" fill="#527a84"/><rect x="52.3" y="23.97" width="1" height="3" fill="#6a939b"/><rect x="63.36" y="50.04" width="3" height="1.5" fill="#557c83"/><rect x="87.37" y="159.54" width="1.5" height="2" fill="#527a84"/><rect x="69.31" y="39.49" width="1.5" height="3" fill="#557c83"/><rect x="91.05" y="37.14" width="2" height="1.5" fill="#527a84"/><rect x="165" y="128.54" width="1" height="1" fill="#557c83"/><rect x="84.87" y="106.95" width="2" height="3" fill="#4d7078"/><rect x="77.68" y="32.91" width="1.5" height="1" fill="#527a84"/><rect x="157.52" y="166.3" width="1.5" height="1.5" fill="#557c83"/><rect x="123.22" y="34.83" width="3" height="3" fill="#557c83"/><rect x="118.98" y="146.75" width="3" height="1" fill="#6a939b"/><rect x="63.83" y="89.83" width="1" height="3" fill="#4d7078"/><rect x="94.46" y="26.84" width="1.5" height="1" fill="#6a939b"/><rect x="94.54" y="143.21" width="1" height="1" fill="#6a939b"/><rect x="97.31" y="164.18" width="1" height="3" fill="#527a84"/><rect x="68.09" y="21.29" width="2" height="1" fill="#557c83"/><rect x="77.53" y="112.43" width="2" height="3" fill="#557c83"/><rect x="121.49" y="66.88" width="2" height="1.5" fill="#4d7078"/><rect x="116.3" y="81.96" width="3" height="2" fill="#557c83"/><rect x="160.88" y="93.22" width="1.5" height="3" fill="#4d7078"/><rect x="113.93" y="157.83" width="1.5" height="2" fill="#6a939b"/><rect x="113.15" y="79.95" width="2" height="2" fill="#527a84"/><rect x="122.7" y="19.48" width="3" height="1" fill="#6e949c"/><rect x="136.17" y="139.88" width="3" height="1" fill="#6e949c"/><rect x="94.51" y="94.16" width="3" height="1" fill="#527a84"/><rect x="84.66" y="115.52" width="1" height="1.5" fill="#527a84"/><rect x="79.89" y="85.85" width="1" height="2" fill="#527a84"/><rect x="74.37" y="144.19" width="1" height="2" fill="#6a939b"/><rect x="155.24" y="95.1" width="3" height="2" fill="#4d7078"/><rect x="53.04" y="29.94" width="3" height="1.5" fill="#557c83"/><rect x="84.24" y="119.53" width="2" height="1.5" fill="#6a939b"/><rect x="129.44" y="86.36" width="2" height="1.5" fill="#6a939b"/><rect x="142.49" y="126.46" width="2" height="1.5" fill="#527a84"/><rect x="144.58" y="64.8" width="1.5" height="1" fill="#527a84"/><rect x="161.7" y="118.35" width="3" height="3" fill="#527a84"/><rect x="164.14" y="43.12" width="2" height="2" fill="#6e949c"/><rect x="83.59" y="47.07" width="2" height="1.5" fill="#527a84"/><rect x="98.78" y="80.54" width="3" height="1" fill="#4d7078"/><rect x="78" y="93.55" width="3" height="1.5" fill="#6e949c"/><rect x="132.04" y="24.9" width="1.5" height="3" fill="#6a939b"/><rect x="73.93" y="112.37" width="1" height="1.5" fill="#4d7078"/><rect x="98.19" y="89.48" width="1.5" height="1" fill="#557c83"/><rect x="129.04" y="161.27" width="2" height="2" fill="#527a84"/><rect x="156.29" y="62.87" width="2" height="3" fill="#527a84"/><rect x="86.33" y="61.17" width="3" height="1" fill="#527a84"/><rect x="57.7" y="125.47" width="1" height="3" fill="#4d7078"/><rect x="76.22" y="49.08" width="2" height="1.5" fill="#6e949c"/><rect x="85.63" y="29.56" width="1" height="2" fill="#557c83"/><rect x="109.76" y="162.29" width="3" height="1.5" fill="#6e949c"/><rect x="157.33" y="138.24" width="1" height="1" fill="#6e949c"/><rect x="98.39" y="122.53" width="2" height="3" fill="#527a84"/><rect x="109.85" y="47.6" width="1" height="1.5" fill="#6a939b"/><rect x="112.71" y="60.16" width="2" height="2" fill="#527a84"/><rect x="131.42" y="87.95" width="3" height="1" fill="#6e949c"/><rect x="69.46" y="57.15" width="1" height="1" fill="#527a84"/><rect x="78.6" y="123.87" width="3" height="1.5" fill="#6e949c"/><rect x="106.28" y="137.49" width="1.5" height="3" fill="#6a939b"/><rect x="128.44" y="111.97" width="1" height="1" fill="#4d7078"/><rect x="61.56" y="27.27" width="3" height="3" fill="#527a84"/><rect x="92.36" y="131.19" width="3" height="1" fill="#6a939b"/><rect x="161.4" y="147.67" width="3" height="2" fill="#527a84"/><rect x="86.62" y="22.32" width="3" height="3" fill="#6a939b"/><rect x="77.15" y="138.49" width="2" height="3" fill="#6a939b"/><rect x="90.26" y="84.96" width="3" height="3" fill="#557c83"/><rect x="71.56" y="22.52" width="2" height="1" fill="#6e949c"/><rect x="134.94" y="113.45" width="3" height="3" fill="#4d7078"/><rect x="164.14" y="137.64" width="3" height="1" fill="#6a939b"/><rect x="81.85" y="128.32" width="3" height="3" fill="#6a939b"/><rect x="125.06" y="53.12" width="1" height="2" fill="#4d7078"/><rect x="132.11" y="21.53" width="3" height="2" fill="#6e949c"/><rect x="77.4" y="111.64" width="1.5" height="3" fill="#557c83"/><rect x="166.23" y="48.69" width="3" height="1" fill="#6e949c"/><rect x="116.54" y="143.01" width="3" height="1" fill="#4d7078"/><rect x="164.3" y="126.56" width="2" height="2" fill="#4d7078"/><rect x="103.86" y="57.69" width="3" height="1.5" fill="#527a84"/><rect x="62.51" y="136.88" width="2" height="1" fill="#557c83"/><rect x="137.58" y="70.82" width="3" height="2" fill="#6a939b"/><rect x="157.62" y="138.8" width="3" height="3" fill="#557c83"/><rect x="155.65" y="165.05" width="1.5" height="1" fill="#4d7078"/><rect x="51.83" y="88.89" width="3" height="1" fill="#557c83"/><rect x="88.67" y="133.6" width="1" height="1" fill="#557c83"/><rect x="112.06" y="44.4" width="2" height="1.5" fill="#6e949c"/><rect x="131.35" y="41.12" width="1" height="2" fill="#6e949c"/><rect x="125.53" y="41.44" width="2" height="1.5" fill="#6a939b"/><rect x="67.53" y="36.78" width="1" height="1" fill="#6a939b"/><rect x="77.99" y="92.86" width="1" height="2" fill="#557c83"/><rect x="71.57" y="125.22" width="2" height="2" fill="#6a939b"/><rect x="148.34" y="124.89" width="1" height="3" fill="#4d7078"/><rect x="80.05" y="95.29" width="2" height="1.5" fill="#4d7078"/><rect x="72.95" y="112.57" width="1.5" height="2" fill="#6e949c"/><rect x="153.29" y="45.52" width="1.5" height="1.5" fill="#6e949c"/><rect x="88.98" y="125.67" width="1.5" height="2" fill="#6a939b"/><rect x="103.97" y="27.93" width="3" height="1" fill="#527a84"/><rect x="138.77" y="121.73" width="1" height="1" fill="#557c83"/><rect x="51.35" y="72.32" width="3" height="3" fill="#527a84"/><rect x="141.95" y="82.06" width="1.5" height="2" fill="#527a84"/><rect x="126.71" y="124.02" width="2" height="1" fill="#6e949c"/><rect x="140.32" y="52.38" width="1" height="2" fill="#6a939b"/><rect x="89.56" y="56.58" width="2" height="2" fill="#557c83"/><rect x="47.81" y="74" width="3" height="1.5" fill="#557c83"/><rect x="66.94" y="43.53" width="1" height="3" fill="#4d7078"/><rect x="68.98" y="101.3" width="3" height="1.5" fill="#6e949c"/><rect x="144.83" y="73.7" width="2" height="3" fill="#6e949c"/><rect x="110" y="99.49" width="1.5" height="2" fill="#527a84"/><rect x="81.84" y="78.14" width="1" height="3" fill="#557c83"/><rect x="109.14" y="74.49" width="3" height="2" fill="#6e949c"/><rect x="56.95" y="94.68" width="1.5" height="1.5" fill="#527a84"/><rect x="59.25" y="99.69" width="2" height="3" fill="#4d7078"/><rect x="113.29" y="24.87" width="2" height="2" fill="#527a84"/><rect x="110.35" y="36.01" width="1.5" height="3" fill="#527a84"/><rect x="100.17" y="168.44" width="3" height="1" fill="#4d7078"/><rect x="131.86" y="29.36" width="1.5" height="3" fill="#6a939b"/><rect x="159.24" y="117.5" width="2" height="1" fill="#527a84"/><rect x="72.62" y="118.16" width="1.5" height="1" fill="#6a939b"/><rect x="138.19" y="69.41" width="1" height="1.5" fill="#557c83"/><rect x="68.78" y="139.28" width="1.5" height="1.5" fill="#527a84"/><rect x="87.6" y="128.65" width="1.5" height="1.5" fill="#527a84"/><rect x="135.57" y="152.86" width="2" height="2" fill="#6a939b"/><rect x="84.67" y="36.39" width="1" height="1" fill="#4d7078"/><rect x="82.79" y="151.72" width="2" height="3" fill="#6a939b"/><rect x="96.26" y="117.89" width="1" height="1.5" fill="#4d7078"/><rect x="79.75" y="157.54" width="1" height="1" fill="#557c83"/><rect x="68.56" y="54.81" width="2" height="1" fill="#6e949c"/><rect x="159.15" y="67.31" width="1" height="1" fill="#6e949c"/><rect x="105.53" y="76.99" width="2" height="1" fill="#527a84"/><rect x="49.38" y="167.41" width="2" height="2" fill="#6e949c"/><rect x="63.95" y="108.47" width="1.5" height="1.5" fill="#4d7078"/><rect x="47.38" y="118.38" width="1.5" height="3" fill="#6a939b"/><rect x="104.62" y="25.47" width="1" height="1.5" fill="#6a939b"/><rect x="92.41" y="53.03" width="3" height="3" fill="#6a939b"/><rect x="138.08" y="128.08" width="1" height="2" fill="#527a84"/><rect x="63.87" y="43.51" width="1" height="1" fill="#6a939b"/><rect x="152.11" y="76.53" width="1" height="1" fill="#6a939b"/><rect x="148.41" y="109.84" width="1" height="1" fill="#6a939b"/><rect x="80.69" y="47.84" width="1" height="3" fill="#6a939b"/><rect x="54.91" y="97.88" width="1" height="1.5" fill="#4d7078"/><rect x="141.79" y="80.88" width="3" height="1" fill="#6e949c"/><rect x="46.68" y="65.42" width="1" height="1.5" fill="#557c83"/><rect x="159.17" y="82.85" width="3" height="2" fill="#4d7078"/><rect x="80.6" y="119.37" width="1.5" height="3" fill="#557c83"/><rect x="157.87" y="35.26" width="1" height="2" fill="#557c83"/><rect x="81.93" y="55.91" width="1" height="1.5" fill="#6e949c"/><rect x="150.68" y="70.61" width="2" height="1" fill="#4d7078"/><rect x="164.55" y="130.81" width="2" height="2" fill="#6a939b"/><rect x="147.55" y="118.03" width="1.5" height="2" fill="#6e949c"/><rect x="106.1" y="32.57" width="1" height="3" fill="#4d7078"/><rect x="79.84" y="67.75" width="3" height="1.5" fill="#557c83"/><rect x="100.15" y="148.44" width="1" height="2" fill="#6a939b"/><rect x="90.24" y="123.76" width="1.5" height="2" fill="#6a939b"/><rect x="92.02" y="110.77" width="1" height="1" fill="#527a84"/><rect x="129.2" y="113.71" width="2" height="3" fill="#4d7078"/><rect x="123.16" y="28.85" width="1.5" height="3" fill="#6a939b"/><rect x="133.44" y="148.36" width="3" height="2" fill="#557c83"/><rect x="113.99" y="55.45" width="3" height="1.5" fill="#6a939b"/><rect x="61.21" y="109.45" width="1" height="3" fill="#6e949c"/><rect x="148.19" y="101.36" width="1.5" height="2" fill="#527a84"/><rect x="90.67" y="159.94" width="1.5" height="3" fill="#557c83"/><rect x="128.74" y="101.72" width="2" height="1" fill="#527a84"/><rect x="123.63" y="22.87" width="1.5" height="1" fill="#527a84"/><rect x="116.94" y="147.76" width="1.5" height="2" fill="#6a939b"/><rect x="57.28" y="124.79" width="2" height="1" fill="#557c83"/><rect x="127.22" y="129.01" width="3" height="1.5" fill="#527a84"/><rect x="127.94" y="166.21" width="2" height="3" fill="#557c83"/><rect x="122.57" y="89.73" width="1" height="3" fill="#6e949c"/><rect x="149.11" y="91.79" width="1.5" height="2" fill="#527a84"/><rect x="111.21" y="73.27" width="2" height="1" fill="#557c83"/><rect x="54.93" y="110.88" width="3" height="2" fill="#6e949c"/><rect x="162.26" y="122.51" width="3" height="3" fill="#557c83"/><rect x="55.77" y="36.77" width="3" height="1" fill="#6a939b"/><rect x="99.73" y="104.9" width="1" height="1.5" fill="#6a939b"/><rect x="99.78" y="63.56" width="2" height="3" fill="#6a939b"/><rect x="134.15" y="19.49" width="1.5" height="3" fill="#6a939b"/><rect x="62.01" y="39.54" width="1" height="1.5" fill="#6a939b"/><rect x="86.28" y="46.66" width="1" height="2" fill="#527a84"/><rect x="86.56" y="40.73" width="1" height="1" fill="#4d7078"/><rect x="50.5" y="117.45" width="3" height="3" fill="#6a939b"/><rect x="146.25" y="156.6" width="1.5" height="3" fill="#6e949c"/><rect x="82.44" y="157.45" width="1.5" height="1" fill="#6e949c"/><rect x="157.75" y="162.26" width="1.5" height="2" fill="#527a84"/><rect x="133.6" y="155.43" width="1" height="1.5" fill="#6a939b"/><rect x="148.15" y="96.76" width="2" height="1.5" fill="#6a939b"/><rect x="112.78" y="66.93" width="1.5" height="2" fill="#6a939b"/><rect x="86.74" y="82.45" width="1.5" height="3" fill="#527a84"/><rect x="60.31" y="33.44" width="1.5" height="1.5" fill="#6e949c"/><rect x="106.05" y="116.32" width="2" height="1.5" fill="#557c83"/><rect x="55.33" y="53.02" width="1.5" height="1.5" fill="#527a84"/><rect x="131.02" y="109.29" width="3" height="3" fill="#6a939b"/><rect x="124.45" y="75.53" width="3" height="2" fill="#527a84"/><rect x="124.32" y="72.23" width="2" height="2" fill="#6a939b"/><rect x="148.08" y="77.3" width="1" height="2" fill="#6e949c"/><rect x="84.16" y="34.2" width="1.5" height="2" fill="#4d7078"/><rect x="91.78" y="36.67" width="1.5" height="1" fill="#4d7078"/><rect x="76.81" y="133.62" width="1.5" height="1" fill="#527a84"/><rect x="88.69" y="90.49" width="1.5" height="2" fill="#6e949c"/><rect x="143.53" y="65.13" width="3" height="1" fill="#6a939b"/><rect x="123.29" y="140.19" width="2" height="3" fill="#6a939b"/><rect x="47.44" y="82.32" width="1" height="1" fill="#6a939b"/><rect x="100.85" y="109.4" width="2" height="2" fill="#527a84"/><rect x="108.46" y="85.19" width="2" height="1.5" fill="#557c83"/><rect x="121.28" y="133.29" width="1" height="1.5" fill="#557c83"/><rect x="143.75" y="32.61" width="1" height="1" fill="#6a939b"/><rect x="95.68" y="42.6" width="2" height="2" fill="#557c83"/><rect x="161.74" y="133.45" width="1" height="3" fill="#6a939b"/><rect x="140.11" y="120.07" width="1.5" height="3" fill="#4d7078"/><rect x="136.14" y="154.22" width="3" height="1" fill="#6a939b"/><rect x="136.2" y="149.1" width="2" height="1" fill="#6e949c"/><rect x="62.96" y="44.51" width="2" height="2" fill="#527a84"/><rect x="148.32" y="140.33" width="1" height="3" fill="#4d7078"/><rect x="91.76" y="155.63" width="1.5" height="1" fill="#557c83"/><rect x="78.33" y="135.08" width="1.5" height="3" fill="#557c83"/><rect x="108.99" y="49.69" width="3" height="1" fill="#557c83"/><rect x="53.19" y="89.34" width="1.5" height="1.5" fill="#4d7078"/><rect x="110.48" y="106.83" width="1" height="1.5" fill="#6e949c"/><rect x="121.82" y="90.89" width="3" height="1.5" fill="#6e949c"/><rect x="159.4" y="50.5" width="1" height="2" fill="#6a939b"/><rect x="97.73" y="156.57" width="1" height="1" fill="#6e949c"/><rect x="147.96" y="156.12" width="1" height="1.5" fill="#557c83"/><rect x="124.45" y="127.72" width="2" height="3" fill="#6e949c"/><rect x="49.3" y="136.35" width="3" height="2" fill="#4d7078"/><rect x="130.42" y="42.26" width="3" height="2" fill="#527a84"/><rect x="112.55" y="154.14" width="1.5" height="2" fill="#527a84"/><rect x="55.89" y="52.8" width="1" height="2" fill="#6a939b"/><rect x="53.13" y="122.67" width="3" height="2" fill="#6a939b"/><rect x="68.3" y="70.52" width="3" height="1.5" fill="#6a939b"/><rect x="133.6" y="138.41" width="1" height="1.5" fill="#6a939b"/><rect x="91.79" y="89.98" width="1" height="2" fill="#527a84"/><rect x="100.68" y="72.62" width="3" height="1" fill="#557c83"/><rect x="159.01" y="28.67" width="2" height="2" fill="#4d7078"/><rect x="159.5" y="44.84" width="2" height="1.5" fill="#6a939b"/><rect x="60.67" y="64.71" width="3" height="1" fill="#4d7078"/><rect x="128.37" y="49.78" width="3" height="1" fill="#527a84"/><rect x="81.78" y="156.8" width="3" height="3" fill="#527a84"/><rect x="118.01" y="142.76" width="1" height="3" fill="#6a939b"/><rect x="94.85" y="109.28" width="3" height="1.5" fill="#6e949c"/><rect x="53.63" y="26.68" width="3" height="2" fill="#4d7078"/><rect x="81.33" y="158.69" width="2" height="2" fill="#527a84"/><rect x="101.18" y="25.85" width="3" height="3" fill="#527a84"/><rect x="78.67" y="26.82" width="2" height="2" fill="#6a939b"/><rect x="59.9" y="23.46" width="3" height="1" fill="#527a84"/><rect x="89.59" y="86.01" width="1.5" height="1" fill="#6e949c"/><rect x="58.27" y="137.59" width="3" height="1" fill="#557c83"/><rect x="92.73" y="59.71" width="3" height="1.5" fill="#557c83"/><rect x="101.85" y="99.54" width="1" height="1" fill="#4d7078"/><rect x="103.48" y="75.68" width="1.5" height="2" fill="#6a939b"/><rect x="154.5" y="133.76" width="1" height="2" fill="#6e949c"/><rect x="46.85" y="52.92" width="3" height="2" fill="#527a84"/><rect x="95.53" y="88.71" width="1" height="1" fill="#527a84"/><rect x="99.5" y="56.55" width="1.5" height="1" fill="#4d7078"/><rect x="153.13" y="160.13" width="1" height="3" fill="#6a939b"/><rect x="79.08" y="120.52" width="1" height="1.5" fill="#557c83"/><rect x="92.52" y="96.77" width="3" height="1.5" fill="#4d7078"/><rect x="83.69" y="21.87" width="1.5" height="1.5" fill="#6a939b"/><rect x="101.63" y="116.14" width="2" height="2" fill="#557c83"/><rect x="125.02" y="38.56" width="1.5" height="1" fill="#6a939b"/><rect x="58.06" y="36.87" width="1" height="2" fill="#4d7078"/><rect x="58.39" y="165" width="3" height="1.5" fill="#557c83"/><rect x="138.85" y="95.91" width="2" height="2" fill="#6a939b"/><rect x="63.75" y="165.6" width="1.5" height="1.5" fill="#6a939b"/><rect x="136.04" y="36.48" width="1" height="3" fill="#557c83"/><rect x="114.57" y="30.22" width="1" height="1" fill="#6e949c"/><rect x="53.42" y="129.32" width="3" height="1" fill="#4d7078"/><rect x="165.88" y="86.49" width="1.5" height="2" fill="#6e949c"/><rect x="90.48" y="115.57" width="1" height="3" fill="#6e949c"/><rect x="101.93" y="49.97" width="3" height="3" fill="#4d7078"/><rect x="132.62" y="42.6" width="3" height="1.5" fill="#6a939b"/><rect x="62.6" y="165.21" width="1.5" height="1" fill="#4d7078"/><rect x="67" y="65.3" width="1.5" height="2" fill="#527a84"/><rect x="87.05" y="29.78" width="1" height="1" fill="#6e949c"/><rect x="119.35" y="141.02" width="3" height="3" fill="#527a84"/><rect x="118.75" y="109.89" width="1.5" height="2" fill="#557c83"/><rect x="53.54" y="116.39" width="2" height="3" fill="#6e949c"/><rect x="117.8" y="147.76" width="1.5" height="3" fill="#6e949c"/><rect x="131.74" y="102.68" width="2" height="1" fill="#4d7078"/><rect x="93.78" y="60.48" width="1" height="2" fill="#6e949c"/><rect x="136.03" y="32.85" width="3" height="2" fill="#527a84"/><rect x="87.08" y="166.57" width="1.5" height="2" fill="#6a939b"/><rect x="85.26" y="98.04" width="3" height="2" fill="#557c83"/><rect x="105.1" y="98.12" width="2" height="2" fill="#527a84"/><rect x="95.38" y="153.97" width="1.5" height="2" fill="#6e949c"/><rect x="52.69" y="38.69" width="1" height="1.5" fill="#4d7078"/><rect x="59.13" y="85.18" width="3" height="1.5" fill="#6e949c"/><rect x="163.18" y="96.07" width="2" height="1" fill="#6e949c"/><rect x="92.56" y="29.57" width="1" height="2" fill="#527a84"/><rect x="72.39" y="64.68" width="3" height="2" fill="#4d7078"/><rect x="165.89" y="153.23" width="2" height="2" fill="#527a84"/><rect x="118.64" y="141.36" width="3" height="1" fill="#4d7078"/><rect x="160.8" y="38.15" width="1" height="1.5" fill="#527a84"/><rect x="148.26" y="135.2" width="3" height="3" fill="#6e949c"/><rect x="49.37" y="124.7" width="1" height="1" fill="#6e949c"/><rect x="128.05" y="36.59" width="1.5" height="3" fill="#557c83"/><rect x="133.06" y="145.99" width="1.5" height="3" fill="#4d7078"/>
<line x1="96" y1="40" x2="96" y2="170" stroke="#456a72" stroke-width="0.6" opacity="0.8"/>
<line x1="104" y1="40" x2="104" y2="170" stroke="#456a72" stroke-width="0.6" opacity="0.8"/>
<line x1="112" y1="40" x2="112" y2="170" stroke="#456a72" stroke-width="0.6" opacity="0.8"/>
<line x1="140" y1="40" x2="140" y2="170" stroke="#456a72" stroke-width="0.6" opacity="0.8"/>
<line x1="158" y1="40" x2="158" y2="170" stroke="#456a72" stroke-width="0.6" opacity="0.8"/>
<line x1="88" y1="40" x2="88" y2="170" stroke="#456a72" stroke-width="0.6" opacity="0.8"/>
<line x1="121" y1="40" x2="121" y2="170" stroke="#456a72" stroke-width="0.6" opacity="0.8"/>
<line x1="48" y1="86" x2="166" y2="86" stroke="#456a72" stroke-width="0.6" opacity="0.8"/>
<line x1="48" y1="100" x2="166" y2="100" stroke="#456a72" stroke-width="0.6" opacity="0.8"/>
<line x1="48" y1="142" x2="166" y2="142" stroke="#456a72" stroke-width="0.6" opacity="0.8"/>
<line x1="48" y1="48" x2="166" y2="48" stroke="#456a72" stroke-width="0.6" opacity="0.8"/>
<line x1="48" y1="114" x2="166" y2="114" stroke="#456a72" stroke-width="0.6" opacity="0.8"/>
<line x1="48" y1="128" x2="166" y2="128" stroke="#456a72" stroke-width="0.6" opacity="0.8"/>
<path d="M138.6,33.3 L166.3,33.3 L166.3,63 L153.5,63 L148,50 L142,40 Z" fill="#a4a592"/>
<path d="M148,40 L160,38 M150,46 L164,45 M154,54 L164,54" stroke="#b8bca8" stroke-width="1" fill="none"/>
<rect x="118.6" y="50.3" width="11" height="13" fill="#9ea48e"/>
<path d="M48.5,93 L93,93 L93,168 L62.4,181.4 L46.9,181.4 L46.6,174.1 L34.4,172.8 L46.8,148.5 L48.5,140 Z" fill="#6b6a5b"/>
<rect x="64.5" y="117.54" width="3" height="3" fill="#86887a"/><rect x="54.27" y="161.64" width="3" height="1.5" fill="#7c7c6c"/><rect x="87.3" y="101.92" width="1.5" height="3" fill="#66685a"/><rect x="37.62" y="107.53" width="1.5" height="3" fill="#575a4c"/><rect x="53.38" y="127.69" width="3" height="2" fill="#7c7c6c"/><rect x="38.9" y="94.61" width="1.5" height="1.5" fill="#66685a"/><rect x="67.69" y="129.83" width="3" height="2" fill="#9a9c90"/><rect x="44.94" y="131.31" width="4" height="1.5" fill="#86887a"/><rect x="69.34" y="170.81" width="1.5" height="1.5" fill="#767868"/><rect x="41.29" y="121.69" width="2" height="1.5" fill="#86887a"/><rect x="43.05" y="179.08" width="1.5" height="1.5" fill="#575a4c"/><rect x="62.58" y="165.98" width="2" height="1.5" fill="#7c7c6c"/><rect x="51.13" y="96.76" width="3" height="1.5" fill="#9a9c90"/><rect x="54.66" y="111.13" width="4" height="1.5" fill="#575a4c"/><rect x="83.48" y="113.07" width="3" height="3" fill="#86887a"/><rect x="37.26" y="132.3" width="3" height="2" fill="#9a9c90"/><rect x="41.24" y="144.29" width="3" height="1.5" fill="#575a4c"/><rect x="66.14" y="140.76" width="4" height="1.5" fill="#767868"/><rect x="62.17" y="180.09" width="1.5" height="2" fill="#9a9c90"/><rect x="50.32" y="142.24" width="1.5" height="3" fill="#767868"/><rect x="53.95" y="169.59" width="1.5" height="1.5" fill="#767868"/><rect x="83.25" y="171.42" width="4" height="1.5" fill="#7c7c6c"/><rect x="37.64" y="133.12" width="2" height="1.5" fill="#7c7c6c"/><rect x="41.33" y="100.44" width="4" height="2" fill="#5e5e50"/><rect x="89.5" y="94.28" width="3" height="1.5" fill="#5e5e50"/><rect x="68.44" y="150.27" width="2" height="3" fill="#86887a"/><rect x="60.18" y="128.58" width="1.5" height="3" fill="#9a9c90"/><rect x="43.26" y="172.1" width="4" height="1.5" fill="#9a9c90"/><rect x="62.59" y="157.95" width="2" height="2" fill="#86887a"/><rect x="45.69" y="132.62" width="4" height="2" fill="#66685a"/><rect x="91.21" y="118.77" width="4" height="2" fill="#9a9c90"/><rect x="45.17" y="161.45" width="3" height="2" fill="#575a4c"/><rect x="66" y="180.91" width="2" height="3" fill="#575a4c"/><rect x="65.03" y="125.61" width="1.5" height="2" fill="#66685a"/><rect x="81.44" y="158.81" width="4" height="2" fill="#575a4c"/><rect x="59.58" y="97.9" width="1.5" height="3" fill="#575a4c"/><rect x="57.66" y="105.92" width="4" height="3" fill="#5e5e50"/><rect x="41.96" y="138.27" width="4" height="1.5" fill="#7c7c6c"/><rect x="40.12" y="99.87" width="1.5" height="2" fill="#575a4c"/><rect x="73.47" y="166.13" width="1.5" height="1.5" fill="#7c7c6c"/><rect x="54.14" y="101.53" width="2" height="3" fill="#5e5e50"/><rect x="49.05" y="97.14" width="3" height="2" fill="#9a9c90"/><rect x="87.98" y="111.38" width="2" height="1.5" fill="#5e5e50"/><rect x="57.9" y="101.26" width="4" height="1.5" fill="#767868"/><rect x="34.89" y="144.29" width="2" height="1.5" fill="#575a4c"/><rect x="45.61" y="180.03" width="3" height="3" fill="#575a4c"/><rect x="66.58" y="116.38" width="2" height="2" fill="#767868"/><rect x="84.43" y="153.37" width="3" height="1.5" fill="#575a4c"/><rect x="67.77" y="115.9" width="1.5" height="2" fill="#767868"/><rect x="40.57" y="96.53" width="2" height="1.5" fill="#5e5e50"/><rect x="39.8" y="162.12" width="2" height="2" fill="#86887a"/><rect x="44.97" y="171.77" width="1.5" height="3" fill="#9a9c90"/><rect x="76.09" y="108.39" width="2" height="3" fill="#7c7c6c"/><rect x="67.77" y="121.82" width="4" height="3" fill="#575a4c"/><rect x="50.47" y="181.09" width="4" height="1.5" fill="#767868"/><rect x="84.6" y="152.19" width="2" height="2" fill="#5e5e50"/><rect x="59.18" y="168.34" width="3" height="3" fill="#575a4c"/><rect x="81.58" y="96.14" width="2" height="3" fill="#9a9c90"/><rect x="66.06" y="114" width="1.5" height="3" fill="#66685a"/><rect x="52.11" y="102.47" width="3" height="1.5" fill="#575a4c"/><rect x="57" y="175.48" width="4" height="1.5" fill="#9a9c90"/><rect x="69.47" y="154.76" width="3" height="1.5" fill="#5e5e50"/><rect x="45.22" y="100.1" width="2" height="3" fill="#767868"/><rect x="73.7" y="163.8" width="4" height="2" fill="#575a4c"/><rect x="42.17" y="138.1" width="2" height="2" fill="#767868"/><rect x="39.82" y="175.95" width="3" height="3" fill="#86887a"/><rect x="65.83" y="161.37" width="3" height="2" fill="#86887a"/><rect x="78.24" y="136.86" width="2" height="2" fill="#7c7c6c"/><rect x="90.96" y="137.1" width="3" height="3" fill="#7c7c6c"/><rect x="56.31" y="100.74" width="1.5" height="2" fill="#575a4c"/><rect x="77.66" y="168.83" width="2" height="2" fill="#767868"/><rect x="62.21" y="167.57" width="3" height="3" fill="#9a9c90"/><rect x="66.48" y="101.06" width="1.5" height="2" fill="#66685a"/><rect x="90.25" y="135.81" width="2" height="2" fill="#575a4c"/><rect x="69.97" y="119.53" width="1.5" height="1.5" fill="#7c7c6c"/><rect x="81.02" y="109.19" width="2" height="2" fill="#5e5e50"/><rect x="71.77" y="133.24" width="2" height="2" fill="#5e5e50"/><rect x="70.99" y="133.93" width="2" height="2" fill="#86887a"/><rect x="59.58" y="170.41" width="1.5" height="3" fill="#575a4c"/><rect x="91.01" y="165.76" width="1.5" height="3" fill="#575a4c"/><rect x="58.63" y="109.77" width="3" height="2" fill="#575a4c"/><rect x="63.86" y="145.47" width="2" height="2" fill="#86887a"/><rect x="50.7" y="107.19" width="2" height="1.5" fill="#66685a"/><rect x="47.39" y="124.16" width="3" height="2" fill="#575a4c"/><rect x="71.01" y="149.54" width="2" height="1.5" fill="#575a4c"/><rect x="90.66" y="141.63" width="3" height="2" fill="#86887a"/><rect x="59.2" y="180.85" width="4" height="3" fill="#86887a"/><rect x="69.24" y="148.41" width="4" height="2" fill="#66685a"/><rect x="57.26" y="144.41" width="4" height="3" fill="#7c7c6c"/><rect x="89.1" y="159.11" width="1.5" height="2" fill="#5e5e50"/><rect x="34.9" y="97.69" width="3" height="1.5" fill="#9a9c90"/><rect x="44.21" y="137.08" width="4" height="1.5" fill="#7c7c6c"/><rect x="52.96" y="153.92" width="4" height="2" fill="#66685a"/><rect x="62.48" y="179.21" width="2" height="3" fill="#5e5e50"/><rect x="86.8" y="152.92" width="2" height="2" fill="#86887a"/><rect x="54.97" y="157.16" width="4" height="2" fill="#66685a"/><rect x="47" y="107.09" width="4" height="2" fill="#7c7c6c"/><rect x="68.08" y="101.15" width="2" height="1.5" fill="#7c7c6c"/><rect x="53.19" y="128.39" width="1.5" height="1.5" fill="#5e5e50"/><rect x="73.95" y="145.16" width="1.5" height="2" fill="#7c7c6c"/><rect x="91.79" y="133.51" width="2" height="2" fill="#5e5e50"/><rect x="77.1" y="181.2" width="1.5" height="1.5" fill="#5e5e50"/><rect x="36.53" y="95.62" width="3" height="3" fill="#66685a"/><rect x="53.01" y="134.14" width="2" height="2" fill="#767868"/><rect x="65.22" y="155.54" width="4" height="3" fill="#7c7c6c"/><rect x="35.1" y="165.35" width="2" height="1.5" fill="#575a4c"/><rect x="46.93" y="148.55" width="3" height="2" fill="#5e5e50"/><rect x="88.72" y="131.56" width="4" height="2" fill="#9a9c90"/><rect x="34.57" y="180.47" width="3" height="1.5" fill="#66685a"/><rect x="72.2" y="175.03" width="4" height="2" fill="#5e5e50"/><rect x="64.46" y="124.72" width="4" height="1.5" fill="#9a9c90"/><rect x="54.54" y="163.39" width="3" height="3" fill="#9a9c90"/><rect x="42.53" y="158.16" width="3" height="2" fill="#5e5e50"/><rect x="48.37" y="146.17" width="4" height="3" fill="#767868"/><rect x="65.4" y="139.3" width="3" height="3" fill="#767868"/><rect x="40.09" y="136.79" width="3" height="2" fill="#66685a"/><rect x="88.99" y="135.71" width="3" height="1.5" fill="#575a4c"/><rect x="70.52" y="103.53" width="2" height="1.5" fill="#767868"/><rect x="35.44" y="173.76" width="3" height="2" fill="#767868"/><rect x="34.73" y="158.32" width="2" height="1.5" fill="#575a4c"/><rect x="78.46" y="99.01" width="2" height="1.5" fill="#9a9c90"/><rect x="63.26" y="165.01" width="4" height="3" fill="#5e5e50"/><rect x="80.42" y="146.72" width="2" height="1.5" fill="#5e5e50"/><rect x="78.64" y="118.58" width="4" height="2" fill="#66685a"/><rect x="70.89" y="143.19" width="4" height="2" fill="#66685a"/><rect x="82.84" y="140.31" width="2" height="1.5" fill="#9a9c90"/><rect x="84.09" y="172.56" width="2" height="3" fill="#5e5e50"/><rect x="38.02" y="118.59" width="2" height="3" fill="#66685a"/><rect x="69.22" y="131.21" width="2" height="1.5" fill="#86887a"/><rect x="86.32" y="93.6" width="2" height="2" fill="#66685a"/><rect x="52.2" y="132.85" width="4" height="3" fill="#767868"/><rect x="86.16" y="94.89" width="4" height="2" fill="#767868"/><rect x="59.91" y="150.98" width="3" height="1.5" fill="#9a9c90"/><rect x="49.56" y="113.7" width="4" height="2" fill="#86887a"/><rect x="34.61" y="117.76" width="4" height="3" fill="#9a9c90"/><rect x="41.95" y="173.35" width="1.5" height="3" fill="#86887a"/><rect x="80.12" y="151.26" width="2" height="1.5" fill="#86887a"/><rect x="54.15" y="150.12" width="2" height="3" fill="#5e5e50"/><rect x="77.83" y="113.04" width="3" height="3" fill="#86887a"/><rect x="72.5" y="175.81" width="4" height="2" fill="#9a9c90"/><rect x="37.4" y="144.69" width="4" height="2" fill="#66685a"/><rect x="75.9" y="143.58" width="2" height="3" fill="#86887a"/><rect x="77.45" y="98.69" width="3" height="3" fill="#66685a"/><rect x="36.7" y="177.04" width="4" height="1.5" fill="#7c7c6c"/><rect x="84.4" y="139.1" width="2" height="3" fill="#575a4c"/><rect x="49.5" y="144.74" width="2" height="2" fill="#5e5e50"/><rect x="54.41" y="144.68" width="2" height="3" fill="#86887a"/><rect x="45.07" y="127.62" width="4" height="3" fill="#767868"/><rect x="57.35" y="173.29" width="3" height="3" fill="#86887a"/><rect x="50.6" y="173" width="3" height="3" fill="#9a9c90"/><rect x="75.11" y="110.4" width="4" height="3" fill="#66685a"/><rect x="44.35" y="158.11" width="2" height="2" fill="#66685a"/><rect x="55.37" y="114.9" width="3" height="2" fill="#7c7c6c"/><rect x="43.32" y="128.62" width="1.5" height="2" fill="#9a9c90"/><rect x="79.54" y="116.47" width="2" height="2" fill="#7c7c6c"/><rect x="85.01" y="155.79" width="3" height="2" fill="#66685a"/><rect x="57.96" y="145.77" width="1.5" height="1.5" fill="#86887a"/><rect x="66.86" y="128.6" width="3" height="1.5" fill="#9a9c90"/><rect x="62.32" y="163.75" width="1.5" height="2" fill="#767868"/><rect x="82.83" y="149.28" width="2" height="3" fill="#86887a"/><rect x="47.64" y="147.92" width="4" height="3" fill="#767868"/><rect x="60.04" y="117.19" width="3" height="2" fill="#86887a"/><rect x="52.76" y="98.42" width="1.5" height="2" fill="#767868"/><rect x="75.94" y="137.08" width="1.5" height="3" fill="#5e5e50"/><rect x="70.39" y="126.52" width="2" height="1.5" fill="#66685a"/><rect x="50.64" y="103.17" width="1.5" height="3" fill="#575a4c"/><rect x="77.79" y="174.75" width="1.5" height="3" fill="#66685a"/><rect x="38.61" y="105.47" width="4" height="1.5" fill="#86887a"/><rect x="59.32" y="138.84" width="3" height="2" fill="#86887a"/><rect x="35.61" y="166.05" width="4" height="1.5" fill="#9a9c90"/><rect x="89.83" y="151.26" width="2" height="3" fill="#5e5e50"/><rect x="60.42" y="168.36" width="3" height="2" fill="#575a4c"/><rect x="41.83" y="116.8" width="2" height="2" fill="#5e5e50"/><rect x="43.97" y="150.14" width="4" height="3" fill="#575a4c"/><rect x="36.44" y="119.16" width="1.5" height="2" fill="#66685a"/><rect x="52.71" y="114.36" width="3" height="3" fill="#9a9c90"/><rect x="50.85" y="127.93" width="1.5" height="2" fill="#5e5e50"/><rect x="74.69" y="127.34" width="3" height="3" fill="#5e5e50"/><rect x="65.29" y="153.66" width="1.5" height="3" fill="#66685a"/><rect x="80.14" y="148.85" width="1.5" height="3" fill="#86887a"/><rect x="60.07" y="153.13" width="4" height="2" fill="#66685a"/><rect x="47.5" y="167.5" width="2" height="3" fill="#767868"/><rect x="70.17" y="179.8" width="3" height="3" fill="#575a4c"/><rect x="78.71" y="179.18" width="4" height="2" fill="#66685a"/><rect x="77.79" y="133.07" width="4" height="1.5" fill="#86887a"/><rect x="86.18" y="155.37" width="2" height="1.5" fill="#575a4c"/><rect x="69.7" y="133.59" width="1.5" height="3" fill="#9a9c90"/><rect x="62.44" y="138.47" width="4" height="1.5" fill="#86887a"/><rect x="45.44" y="163.72" width="1.5" height="3" fill="#767868"/><rect x="82.18" y="150.95" width="2" height="2" fill="#5e5e50"/><rect x="44.55" y="138.24" width="4" height="1.5" fill="#7c7c6c"/><rect x="60.53" y="136.95" width="2" height="2" fill="#5e5e50"/><rect x="86.42" y="98.32" width="2" height="2" fill="#767868"/><rect x="89.2" y="130.68" width="4" height="1.5" fill="#5e5e50"/><rect x="71.65" y="134.46" width="3" height="1.5" fill="#86887a"/><rect x="76.46" y="159.57" width="1.5" height="1.5" fill="#7c7c6c"/><rect x="77.17" y="108.6" width="2" height="3" fill="#9a9c90"/><rect x="38.35" y="125.48" width="1.5" height="3" fill="#5e5e50"/><rect x="56.14" y="103.95" width="2" height="2" fill="#5e5e50"/><rect x="78.59" y="169.87" width="4" height="3" fill="#9a9c90"/>
<line x1="46" y1="101" x2="93" y2="101" stroke="#828274" stroke-width="1"/>
<line x1="46" y1="113" x2="93" y2="113" stroke="#828274" stroke-width="1"/>
<line x1="46" y1="139" x2="93" y2="139" stroke="#828274" stroke-width="1"/>
<line x1="46" y1="158" x2="93" y2="158" stroke="#828274" stroke-width="1"/>
<line x1="57" y1="93" x2="57" y2="182" stroke="#828274" stroke-width="1"/>
<line x1="68.5" y1="93" x2="68.5" y2="182" stroke="#828274" stroke-width="1"/>
<line x1="81.1" y1="93" x2="81.1" y2="182" stroke="#828274" stroke-width="1"/>
<rect x="50.5" y="126" width="9" height="8" fill="#a2a298"/>
<rect x="51" y="104" width="6" height="7" fill="#a2a298"/>
<rect x="60" y="95" width="7" height="4" fill="#a2a298"/>
<rect x="71" y="103" width="8" height="3" fill="#a2a298"/>
<rect x="83" y="96" width="8" height="4" fill="#a2a298"/>
<rect x="51" y="141" width="5" height="6" fill="#a2a298"/>
<rect x="72" y="116" width="7" height="3" fill="#a2a298"/>
<rect x="84" y="160" width="6" height="6" fill="#a2a298"/>
<circle cx="45.8" cy="161.5" r="3.4" fill="#d8b030"/>
<circle cx="54.6" cy="170.2" r="3.6" fill="#a9aba6"/>
<circle cx="65.1" cy="169.6" r="2.6" fill="#3e4a3a"/>
<rect x="114.5" y="109" width="14" height="62" fill="#9c9e8a"/>
<rect x="128.5" y="109" width="5" height="21" fill="#9c9e8a"/>
<line x1="119" y1="109" x2="119" y2="170" stroke="#84867a" stroke-width="0.8"/>
<line x1="124" y1="109" x2="124" y2="170" stroke="#84867a" stroke-width="0.8"/>
<line x1="114.5" y1="120" x2="133.5" y2="120" stroke="#84867a" stroke-width="0.8"/>
<line x1="114.5" y1="140" x2="128.5" y2="140" stroke="#84867a" stroke-width="0.8"/>
<rect x="146.7" y="76" width="6" height="74" fill="#979f8e"/>
<line x1="149.7" y1="78" x2="149.7" y2="150" stroke="#86907f" stroke-width="0.8"/>
<rect x="103" y="118" width="2.2" height="9" fill="#354838"/>
</g>
<path d="M105.4,25.7 L136.1,19.4 L135.6,32.4 L166.2,33.3 L166.4,143.1 L100,169.2 L62.4,181.4 L46.9,181.4 L46.6,174.1 L34.4,172.8 L46.8,148.5 L48.5,140 L48.5,81.4 L82,81.4 L82,64.2 L107.9,64.2 Z" fill="none" stroke="#d22a2f" stroke-width="1"/>
<circle cx="68" cy="128" r="4.5" fill="#f4a096"/>
<circle cx="66" cy="136" r="5" fill="#f4a096"/>
<circle cx="70" cy="143" r="5" fill="#f4a096"/>
<circle cx="74" cy="130" r="4" fill="#f4a096"/>
<circle cx="79" cy="130" r="5" fill="#f4a096"/>
<circle cx="84" cy="133" r="5" fill="#f4a096"/>
<circle cx="84" cy="140" r="5" fill="#f4a096"/>
<circle cx="78" cy="141" r="4" fill="#f4a096"/>
<circle cx="73" cy="147" r="3.5" fill="#f4a096"/>
<circle cx="87" cy="126" r="3" fill="#f4a096"/>
<circle cx="69.5" cy="157.4" r="6.2" fill="#f4a096"/>
<circle cx="67" cy="154" r="3" fill="#f4a096"/>
<circle cx="79.6" cy="164.6" r="2" fill="#f4a096"/>
<circle cx="76.7" cy="169.3" r="3" fill="#f4a096"/>
<circle cx="96.1" cy="137.3" r="3.5" fill="#f4a096"/>
<circle cx="99" cy="133.7" r="2.5" fill="#f4a096"/>
<circle cx="99.7" cy="139.4" r="2.5" fill="#f4a096"/>
<circle cx="94.6" cy="143" r="1.8" fill="#f4a096"/>
<circle cx="76" cy="136" r="5" fill="#f4a096"/>
<circle cx="71" cy="134" r="4" fill="#f4a096"/>
<circle cx="81" cy="136" r="4" fill="#f4a096"/>
<circle cx="64.5" cy="131" r="3" fill="#f4a096"/>
<circle cx="82" cy="145" r="3" fill="#f4a096"/>
<circle cx="124.5" cy="69.8" r="3.4" fill="#f4a096"/>
<circle cx="119.8" cy="77.2" r="1.5" fill="#f4a096"/>
<circle cx="120.8" cy="89.3" r="2" fill="#f4a096"/>
<circle cx="146.1" cy="74" r="2" fill="#f4a096"/>
<circle cx="157.7" cy="91.6" r="1.5" fill="#f4a096"/>
<path d="M134.5,70 L139,74.5 L134.5,79 L130,74.5 Z" fill="#f4a096"/>
<path d="M135,98.8 L138.6,102.4 L135,106 L131.4,102.4 Z" fill="#f4a096"/>
<circle cx="135" cy="102.4" r="1.3" fill="#ea5a52"/>
<circle cx="83.1" cy="138" r="4.6" fill="#ee6a60"/>
<circle cx="83.1" cy="138" r="2.55" fill="#dc2220"/>
<circle cx="74.5" cy="143.7" r="4.6" fill="#ee6a60"/>
<circle cx="74.5" cy="143.7" r="2.55" fill="#dc2220"/>
<circle cx="79.6" cy="132" r="3.6" fill="#ee6a60"/>
<circle cx="79.6" cy="132" r="1.8" fill="#dc2220"/>
<circle cx="86.7" cy="125.8" r="3.1" fill="#ee6a60"/>
<circle cx="86.7" cy="125.8" r="1.42" fill="#dc2220"/>
<circle cx="95" cy="137.7" r="3.2" fill="#ee6a60"/>
<circle cx="95" cy="137.7" r="1.5" fill="#dc2220"/>
<circle cx="79.6" cy="164.6" r="2.5" fill="#ee6a60"/>
<circle cx="79.6" cy="164.6" r="0.98" fill="#dc2220"/>
<circle cx="70" cy="157" r="2.2" fill="#f08a80"/>
<ellipse cx="131.9" cy="83.4" rx="5.6" ry="6.4" fill="#f07060"/>
<ellipse cx="131.9" cy="83" rx="4" ry="4.6" fill="#e43a30"/>
<ellipse cx="131.7" cy="82.4" rx="2.4" ry="2.8" fill="#d81010"/>
<circle cx="132.5" cy="89.5" r="1.6" fill="#f4a096"/>
<rect x="117.3" y="68.4" width="22.5" height="23.8" fill="none" stroke="#c8202c" stroke-width="1"/>
<rect x="36.2" y="25.7" width="43.8" height="8.2" fill="url(#gconc)"/>
<line x1="49.3" y1="39.5" x2="64" y2="39.5" stroke="#111" stroke-width="1.1"/>
<path d="M62.5,37.2 L69,39.5 L62.5,41.8 Z" fill="#111"/>
</g>
<text transform="translate(36.2,51.9) scale(1,1)" font-size="8" text-anchor="start" fill="#1a1a1a" stroke="#1a1a1a" stroke-width="0.15" font-weight="bold">FPOC Conc.</text>
<path d="M173.4,19.9 L169.1,33.2 L173.4,30.8 Z" fill="#ffffff" stroke="#222" stroke-width="0.6" stroke-linejoin="round"/>
<path d="M173.4,19.9 L177.6,33.5 L173.4,30.8 Z" fill="#7a7a7a" stroke="#222" stroke-width="0.6" stroke-linejoin="round"/>
<text transform="translate(173.5,42.6) scale(1,1)" font-size="8" text-anchor="middle" fill="#1a1a1a" stroke="#1a1a1a" stroke-width="0.15" font-weight="bold">N</text>
<rect x="26.5" y="16.5" width="166" height="165.5" fill="none" stroke="#2a2a2a" stroke-width="1"/>
<line x1="26.5" y1="44.1" x2="29.2" y2="44.1" stroke="#222" stroke-width="0.9"/>
<line x1="26.5" y1="99.4" x2="29.2" y2="99.4" stroke="#222" stroke-width="0.9"/>
<line x1="26.5" y1="154.3" x2="29.2" y2="154.3" stroke="#222" stroke-width="0.9"/>
<line x1="53.6" y1="182" x2="53.6" y2="179.3" stroke="#222" stroke-width="0.9"/>
<line x1="108.3" y1="182" x2="108.3" y2="179.3" stroke="#222" stroke-width="0.9"/>
<line x1="163.2" y1="182" x2="163.2" y2="179.3" stroke="#222" stroke-width="0.9"/>
<text transform="translate(20.6,44.1) rotate(-90) scale(1,1)" font-size="9.2" text-anchor="middle" fill="#1a1a1a" stroke="#1a1a1a" stroke-width="0.15" font-weight="bold">4342600</text>
<text transform="translate(20.6,99.4) rotate(-90) scale(1,1)" font-size="9.2" text-anchor="middle" fill="#1a1a1a" stroke="#1a1a1a" stroke-width="0.15" font-weight="bold">4342200</text>
<text transform="translate(20.6,154.3) rotate(-90) scale(1,1)" font-size="9.2" text-anchor="middle" fill="#1a1a1a" stroke="#1a1a1a" stroke-width="0.15" font-weight="bold">4341800</text>
<text transform="translate(53.4,196.2) scale(1,1)" font-size="9.2" text-anchor="middle" fill="#1a1a1a" stroke="#1a1a1a" stroke-width="0.15" font-weight="bold">263250</text>
<text transform="translate(107.8,196.2) scale(1,1)" font-size="9.2" text-anchor="middle" fill="#1a1a1a" stroke="#1a1a1a" stroke-width="0.15" font-weight="bold">263650</text>
<text transform="translate(163.5,196.2) scale(1,1)" font-size="9.2" text-anchor="middle" fill="#1a1a1a" stroke="#1a1a1a" stroke-width="0.15" font-weight="bold">264050</text>
<text transform="translate(109.4,208.9) scale(1,1)" font-size="9.4" text-anchor="middle" fill="#1a1a1a" stroke="#1a1a1a" stroke-width="0.15" font-weight="bold">Coordinate System (CGCS2000) (m)</text>
<text transform="translate(-0.6,9.7) scale(1,1)" font-size="13" text-anchor="start" fill="#1a1a1a" stroke="#1a1a1a" stroke-width="0.15" font-weight="bold">a</text>
<line x1="139.8" y1="68.4" x2="222" y2="17" stroke="#1a1a1a" stroke-width="1.1" stroke-dasharray="1.5,1.3"/>
<line x1="139.8" y1="92.2" x2="222" y2="178.3" stroke="#1a1a1a" stroke-width="1.1" stroke-dasharray="1.5,1.3"/>
<text transform="translate(212.6,9.7) scale(1,1)" font-size="13" text-anchor="start" fill="#1a1a1a" stroke="#1a1a1a" stroke-width="0.15" font-weight="bold">b</text>
<rect x="222" y="17" width="165.7" height="161.3" fill="#fff"/>
<g clip-path="url(#cb)" fill="none" stroke-linecap="round">
<path d="M222,35.8 Q280,34.4 326,34 Q331.6,33.8 331.6,28 L331.6,16" stroke="#d0d0d0" stroke-width="0.9"/>
<path d="M222,43.8 Q280,42.8 331,42.8 Q337.4,42.6 337.4,36 L337.4,16" stroke="#d0d0d0" stroke-width="0.9"/>
<path d="M217.2,43.8 L273.4,43.8 Q275.6,43.8 275.6,46 L271.4,134.3 Q271.4,136.5 269.2,136.5 L217.2,136.5 Q215,136.5 215,134.3 L215,46 Q215,43.8 217.2,43.8 Z" stroke="#d0d0d0" stroke-width="0.9"/>
<path d="M217.2,144 L269,144 Q271.2,144 271.2,146.2 L269.7,183.8 Q269.7,186 267.5,186 L217.2,186 Q215,186 215,183.8 L215,146.2 Q215,144 217.2,144 Z" stroke="#d0d0d0" stroke-width="0.9"/>
<path d="M341,93 L341,134.3 Q341,136.5 338.8,136.5 L280.7,136.5 Q278.5,136.5 278.5,134.3 L280.6,46 Q280.6,43.8 282.8,43.8 L331,43.8" stroke="#d0d0d0" stroke-width="0.9"/>
<path d="M281.4,144 L338.8,144 Q341,144 341,146.2 L341,183.8 Q341,186 338.8,186 L279.9,186 Q277.7,186 277.7,183.8 L279.2,146.2 Q279.2,144 281.4,144 Z" stroke="#d0d0d0" stroke-width="0.9"/>
<path d="M347.3,93 L347.3,134.3 Q347.3,136.5 349.5,136.5 L395,136.5" stroke="#d0d0d0" stroke-width="0.9"/>
<path d="M349.5,144 L392.8,144 Q395,144 395,146.2 L395,183.8 Q395,186 392.8,186 L349.5,186 Q347.3,186 347.3,183.8 L347.3,146.2 Q347.3,144 349.5,144 Z" stroke="#d0d0d0" stroke-width="0.9"/>
<path d="M244,16 L244,29 Q244,31 246,31 L251.5,31 Q253.5,31 253.5,29 L253.5,16" stroke="#c2c9f2" stroke-width="0.9"/>
<path d="M279.4,16 L279.4,26.4 Q279.4,28.4 281.4,28.4 L294.6,28.4 Q296.6,28.4 296.6,26.4 L296.6,24.6 Q296.6,22.6 298.6,22.6 L314,22 Q319,21 319.5,16" stroke="#c2c9f2" stroke-width="0.9"/>
<path d="M250.7,62 L268.2,62 Q270.2,62 270.2,64 L270.2,85.8 Q270.2,87.8 268.2,87.8 L241.2,87.8 Q239.2,87.8 239.2,85.8 L239.2,78.3 Q239.2,76.3 241.2,76.3 L246.7,76.3 Q248.7,76.3 248.7,74.3 L248.7,64 Q248.7,62 250.7,62 Z" stroke="#c2c9f2" stroke-width="0.9"/>
</g>
<rect x="222" y="17" width="165.7" height="161.3" fill="none" stroke="#3a3a3a" stroke-width="1.1"/>
<text transform="translate(275.6,86.6) scale(1,1)" font-size="9.8" text-anchor="middle" fill="#d4203a" stroke="#d4203a" stroke-width="0.15" font-weight="bold">A</text>
<text transform="translate(332.6,139.4) scale(1,1)" font-size="9.8" text-anchor="middle" fill="#d4203a" stroke="#d4203a" stroke-width="0.15" font-weight="bold">A'</text>
<path d="M285.2,93.2 L305,62.4" stroke="#3a3030" stroke-width="0.8" fill="none"/>
<line x1="305" y1="62.4" x2="324.5" y2="62.4" stroke="#3a3030" stroke-width="0.8" fill="none"/>
<line x1="328.5" y1="62.4" x2="349" y2="62.4" stroke="#3a3030" stroke-width="0.8" fill="none"/>
<circle cx="326.5" cy="62.4" r="2" fill="#fff" stroke="#3a3030" stroke-width="0.8"/>
<text transform="translate(314.75,60.8) scale(1,1)" font-size="7.9" text-anchor="middle" fill="#1a1a1a" stroke="#1a1a1a" stroke-width="0.15" font-weight="bold">EW3</text>
<text transform="translate(314.75,69.7) scale(1,1)" font-size="7.9" text-anchor="middle" fill="#1a1a1a" stroke="#1a1a1a" stroke-width="0.15" font-weight="bold">6.00</text>
<text transform="translate(339.25,60.8) scale(1,1)" font-size="7.9" text-anchor="middle" fill="#1a1a1a" stroke="#1a1a1a" stroke-width="0.15" font-weight="bold">-0.35</text>
<text transform="translate(339.25,69.7) scale(1,1)" font-size="7.9" text-anchor="middle" fill="#1a1a1a" stroke="#1a1a1a" stroke-width="0.15" font-weight="bold">-1.58</text>
<path d="M317.4,95 L332.6,84.3" stroke="#3a3030" stroke-width="0.8" fill="none"/>
<line x1="332.6" y1="84.3" x2="352.6" y2="84.3" stroke="#3a3030" stroke-width="0.8" fill="none"/>
<line x1="356.6" y1="84.3" x2="377.6" y2="84.3" stroke="#3a3030" stroke-width="0.8" fill="none"/>
<circle cx="354.6" cy="84.3" r="2" fill="#fff" stroke="#3a3030" stroke-width="0.8"/>
<text transform="translate(342.6,82.7) scale(1,1)" font-size="7.9" text-anchor="middle" fill="#1a1a1a" stroke="#1a1a1a" stroke-width="0.15" font-weight="bold">EW2</text>
<text transform="translate(342.6,91.6) scale(1,1)" font-size="7.9" text-anchor="middle" fill="#1a1a1a" stroke="#1a1a1a" stroke-width="0.15" font-weight="bold">6.00</text>
<text transform="translate(367.6,82.7) scale(1,1)" font-size="7.9" text-anchor="middle" fill="#1a1a1a" stroke="#1a1a1a" stroke-width="0.15" font-weight="bold">-0.41</text>
<text transform="translate(367.6,91.6) scale(1,1)" font-size="7.9" text-anchor="middle" fill="#1a1a1a" stroke="#1a1a1a" stroke-width="0.15" font-weight="bold">-1.48</text>
<path d="M303.3,109.1 L280.3,120.1" stroke="#3a3030" stroke-width="0.8" fill="none"/>
<line x1="237.2" y1="120.1" x2="256.4" y2="120.1" stroke="#3a3030" stroke-width="0.8" fill="none"/>
<line x1="260.4" y1="120.1" x2="280.3" y2="120.1" stroke="#3a3030" stroke-width="0.8" fill="none"/>
<circle cx="258.4" cy="120.1" r="2" fill="#fff" stroke="#3a3030" stroke-width="0.8"/>
<text transform="translate(246.8,118.5) scale(1,1)" font-size="7.9" text-anchor="middle" fill="#1a1a1a" stroke="#1a1a1a" stroke-width="0.15" font-weight="bold">IW</text>
<text transform="translate(246.8,127.4) scale(1,1)" font-size="7.9" text-anchor="middle" fill="#1a1a1a" stroke="#1a1a1a" stroke-width="0.15" font-weight="bold">6.00</text>
<text transform="translate(270.85,118.5) scale(1,1)" font-size="7.9" text-anchor="middle" fill="#1a1a1a" stroke="#1a1a1a" stroke-width="0.15" font-weight="bold">-0.36</text>
<text transform="translate(270.85,127.4) scale(1,1)" font-size="7.9" text-anchor="middle" fill="#1a1a1a" stroke="#1a1a1a" stroke-width="0.15" font-weight="bold">-1.52</text>
<path d="M321.2,125.4 L297.6,144.7" stroke="#3a3030" stroke-width="0.8" fill="none"/>
<line x1="253.4" y1="144.7" x2="273" y2="144.7" stroke="#3a3030" stroke-width="0.8" fill="none"/>
<line x1="277" y1="144.7" x2="297.6" y2="144.7" stroke="#3a3030" stroke-width="0.8" fill="none"/>
<circle cx="275" cy="144.7" r="2" fill="#fff" stroke="#3a3030" stroke-width="0.8"/>
<text transform="translate(263.2,143.1) scale(1,1)" font-size="7.9" text-anchor="middle" fill="#1a1a1a" stroke="#1a1a1a" stroke-width="0.15" font-weight="bold">EW1</text>
<text transform="translate(263.2,152) scale(1,1)" font-size="7.9" text-anchor="middle" fill="#1a1a1a" stroke="#1a1a1a" stroke-width="0.15" font-weight="bold">6.00</text>
<text transform="translate(287.8,143.1) scale(1,1)" font-size="7.9" text-anchor="middle" fill="#1a1a1a" stroke="#1a1a1a" stroke-width="0.15" font-weight="bold">-0.38</text>
<text transform="translate(287.8,152) scale(1,1)" font-size="7.9" text-anchor="middle" fill="#1a1a1a" stroke="#1a1a1a" stroke-width="0.15" font-weight="bold">-1.47</text>
<circle cx="285.2" cy="93.2" r="2.9" fill="#5b9bd5" stroke="#2e2e2e" stroke-width="0.8"/>
<circle cx="317.4" cy="95" r="2.9" fill="#5b9bd5" stroke="#2e2e2e" stroke-width="0.8"/>
<circle cx="321.2" cy="125.4" r="2.9" fill="#5b9bd5" stroke="#2e2e2e" stroke-width="0.8"/>
<circle cx="303.3" cy="109.1" r="3.1" fill="#e8505e" stroke="#2e2e2e" stroke-width="0.8"/>
<line x1="279" y1="87.6" x2="327.5" y2="131" stroke="#dc1c34" stroke-width="0.9" stroke-dasharray="1.3,1"/>
<path d="M375.7,22.6 L371.4,36 L375.7,32.8 Z" fill="#ffffff" stroke="#333" stroke-width="0.6" stroke-linejoin="round"/>
<path d="M375.7,22.6 L380,36 L375.7,32.8 Z" fill="#7a7a7a" stroke="#333" stroke-width="0.6" stroke-linejoin="round"/>
<text transform="translate(375.7,44.6) scale(1,1)" font-size="7.4" text-anchor="middle" fill="#1a1a1a" stroke="#1a1a1a" stroke-width="0.15" font-weight="bold">N</text>
<circle cx="231.1" cy="186.8" r="2.7" fill="#e8505e" stroke="#2e2e2e" stroke-width="0.8"/>
<text transform="translate(240,189.7) scale(1,1)" font-size="9.2" text-anchor="start" fill="#1a1a1a" stroke="#1a1a1a" stroke-width="0.15" font-weight="bold">Injection well</text>
<circle cx="311.4" cy="186.6" r="2.7" fill="#5b9bd5" stroke="#2e2e2e" stroke-width="0.8"/>
<text transform="translate(320.6,189.7) scale(1,1)" font-size="9.2" text-anchor="start" fill="#1a1a1a" stroke="#1a1a1a" stroke-width="0.15" font-weight="bold">Extraction well</text>
<line x1="254.8" y1="203.3" x2="299.3" y2="203.3" stroke="#222" stroke-width="0.8"/>
<line x1="303.7" y1="203.3" x2="362.7" y2="203.3" stroke="#222" stroke-width="0.8"/>
<circle cx="301.5" cy="203.3" r="2.3" fill="#fff" stroke="#222" stroke-width="0.8"/>
<text transform="translate(277.6,200.8) scale(1,1)" font-size="8" text-anchor="middle" fill="#1a1a1a" stroke="#1a1a1a" stroke-width="0.15" font-weight="bold">Well ID.</text>
<text transform="translate(333.4,200.8) scale(1,1)" font-size="8" text-anchor="middle" fill="#1a1a1a" stroke="#1a1a1a" stroke-width="0.15" font-weight="bold">Well elevation</text>
<text transform="translate(276.8,211.3) scale(1,1)" font-size="8" text-anchor="middle" fill="#1a1a1a" stroke="#1a1a1a" stroke-width="0.15" font-weight="bold">Well depth</text>
<text transform="translate(333.6,211.3) scale(1,1)" font-size="8" text-anchor="middle" fill="#1a1a1a" stroke="#1a1a1a" stroke-width="0.15" font-weight="bold">Water table</text>
<text transform="translate(407,9.7) scale(1,1)" font-size="13" text-anchor="start" fill="#1a1a1a" stroke="#1a1a1a" stroke-width="0.15" font-weight="bold">c</text>
<rect x="433.6" y="17.2" width="4" height="9" fill="#ffffff"/>
<rect x="433.6" y="26.2" width="4" height="18.6" fill="#7a7a7a"/>
<rect x="433.6" y="44.8" width="4" height="18.5" fill="#ffffff"/>
<rect x="433.6" y="63.3" width="4" height="18.5" fill="#7a7a7a"/>
<rect x="433.6" y="81.8" width="4" height="18.6" fill="#ffffff"/>
<rect x="433.6" y="100.4" width="4" height="18.5" fill="#7a7a7a"/>
<rect x="433.6" y="118.9" width="4" height="18.6" fill="#ffffff"/>
<rect x="433.6" y="137.5" width="4" height="18.5" fill="#7a7a7a"/>
<rect x="433.6" y="156" width="4" height="18.6" fill="#ffffff"/>
<rect x="433.6" y="174.6" width="4" height="8.2" fill="#7a7a7a"/>
<rect x="433.6" y="17.2" width="4" height="165.6" fill="none" stroke="#444" stroke-width="0.7"/>
<text transform="translate(430.2,29.5) scale(1,1)" font-size="9.2" text-anchor="end" fill="#1a1a1a" stroke="#1a1a1a" stroke-width="0.15" font-weight="bold">2</text>
<text transform="translate(430.2,66.6) scale(1,1)" font-size="9.2" text-anchor="end" fill="#1a1a1a" stroke="#1a1a1a" stroke-width="0.15" font-weight="bold">0</text>
<text transform="translate(430.2,103.7) scale(1,1)" font-size="9.2" text-anchor="end" fill="#1a1a1a" stroke="#1a1a1a" stroke-width="0.15" font-weight="bold">-2</text>
<text transform="translate(430.2,140.8) scale(1,1)" font-size="9.2" text-anchor="end" fill="#1a1a1a" stroke="#1a1a1a" stroke-width="0.15" font-weight="bold">-4</text>
<text transform="translate(430.2,177.9) scale(1,1)" font-size="9.2" text-anchor="end" fill="#1a1a1a" stroke="#1a1a1a" stroke-width="0.15" font-weight="bold">-6</text>
<text transform="translate(414.8,100.1) rotate(-90) scale(1,1)" font-size="9.5" text-anchor="middle" fill="#1a1a1a" stroke="#1a1a1a" stroke-width="0.15" font-weight="bold">Elevation (m a.s.l.)</text>
<g clip-path="url(#cc)">
<rect x="443" y="17" width="240" height="167" fill="#fff"/>
<polygon points="443.8,96.2 560,96.8 681.6,98.3 681.6,184 443.8,184" fill="#e6eff8"/>
<polygon points="443.8,100.4 560,103.1 681.6,104.1 681.6,125.1 620,126.6 560,127 530,126 480,122.6 443.8,119.8" fill="url(#phatch)"/>
<rect x="444.93" y="74.32" width="1.1" height="1" fill="#444040"/><rect x="446.41" y="92.87" width="1" height="1.2" fill="#767070"/><rect x="445.11" y="95.18" width="1.1" height="1" fill="#444040"/><rect x="447.75" y="75.56" width="1.1" height="1" fill="#767070"/><rect x="449.85" y="78.94" width="1.7" height="1" fill="#444040"/><rect x="448.48" y="84.66" width="1.1" height="1" fill="#767070"/><rect x="449.47" y="88.09" width="1.7" height="1" fill="#aca6a6"/><rect x="449.59" y="90.86" width="1.1" height="1" fill="#767070"/><rect x="447.95" y="96.76" width="1" height="1.2" fill="#444040"/><rect x="453.44" y="71.62" width="1.7" height="1.2" fill="#aca6a6"/><rect x="454.19" y="73.22" width="1.7" height="1" fill="#aca6a6"/><rect x="454.38" y="80.59" width="1.7" height="1" fill="#444040"/><rect x="452.4" y="82.22" width="1.3" height="1" fill="#444040"/><rect x="454.46" y="87.63" width="1.7" height="1" fill="#aca6a6"/><rect x="452.4" y="92.05" width="1.1" height="1" fill="#444040"/><rect x="454.91" y="96" width="1.3" height="1.2" fill="#767070"/><rect x="457.15" y="73.01" width="1.3" height="1.2" fill="#767070"/><rect x="458.24" y="80.83" width="1" height="1" fill="#767070"/><rect x="459.44" y="84.61" width="1.7" height="1" fill="#aca6a6"/><rect x="457.64" y="86.57" width="1" height="1" fill="#767070"/><rect x="456.44" y="91.35" width="1.3" height="1.2" fill="#444040"/><rect x="456.39" y="95" width="1" height="1" fill="#444040"/><rect x="458.41" y="99.65" width="1.7" height="1" fill="#444040"/><rect x="464.12" y="74.73" width="1.1" height="1" fill="#444040"/><rect x="463.3" y="80.07" width="1.1" height="1.2" fill="#767070"/><rect x="460.68" y="85.22" width="1.1" height="1.2" fill="#767070"/><rect x="462.56" y="86.3" width="1" height="1.2" fill="#767070"/><rect x="463.64" y="92.47" width="1.3" height="1" fill="#aca6a6"/><rect x="462.52" y="97.8" width="1.1" height="1.2" fill="#444040"/><rect x="466.28" y="73.1" width="1.3" height="1" fill="#444040"/><rect x="465.93" y="79.89" width="1.7" height="1.2" fill="#aca6a6"/><rect x="468.56" y="85.24" width="1.1" height="1" fill="#767070"/><rect x="465.82" y="86.91" width="1" height="1" fill="#444040"/><rect x="468.27" y="91.84" width="1" height="1" fill="#767070"/><rect x="467.82" y="97.7" width="1.1" height="1" fill="#767070"/><rect x="472.81" y="71.21" width="1.1" height="1" fill="#444040"/><rect x="469.94" y="76.26" width="1.1" height="1.2" fill="#aca6a6"/><rect x="472.38" y="80.93" width="1.3" height="1" fill="#767070"/><rect x="471.38" y="82.27" width="1" height="1.2" fill="#444040"/><rect x="472.1" y="86.7" width="1.1" height="1" fill="#aca6a6"/><rect x="469.5" y="91.37" width="1.3" height="1" fill="#767070"/><rect x="471.36" y="98" width="1.3" height="1" fill="#444040"/><rect x="476.94" y="75.8" width="1.1" height="1" fill="#767070"/><rect x="474.31" y="79.63" width="1" height="1" fill="#444040"/><rect x="476.26" y="83.71" width="1" height="1.2" fill="#767070"/><rect x="474" y="86.89" width="1" height="1.2" fill="#444040"/><rect x="475.43" y="90.7" width="1" height="1" fill="#aca6a6"/><rect x="474.97" y="98.5" width="1.1" height="1.2" fill="#767070"/><rect x="481.35" y="71.94" width="1.1" height="1" fill="#aca6a6"/><rect x="478.69" y="73.44" width="1" height="1.2" fill="#767070"/><rect x="479.07" y="77.66" width="1" height="1" fill="#767070"/><rect x="481.58" y="84.12" width="1.3" height="1" fill="#767070"/><rect x="481.68" y="86.99" width="1.7" height="1" fill="#aca6a6"/><rect x="478.79" y="93" width="1.7" height="1.2" fill="#444040"/><rect x="479.65" y="96.52" width="1" height="1.2" fill="#767070"/><rect x="483.66" y="72.06" width="1.1" height="1" fill="#444040"/><rect x="482.9" y="73.98" width="1.1" height="1" fill="#aca6a6"/><rect x="485.32" y="80.35" width="1.3" height="1" fill="#aca6a6"/><rect x="483.14" y="85.11" width="1.3" height="1" fill="#767070"/><rect x="483.6" y="89.08" width="1" height="1" fill="#444040"/><rect x="485.98" y="92.88" width="1" height="1.2" fill="#aca6a6"/><rect x="485.68" y="95.24" width="1.7" height="1" fill="#aca6a6"/><rect x="487.58" y="73.18" width="1.3" height="1.2" fill="#444040"/><rect x="488.1" y="80.13" width="1.1" height="1" fill="#444040"/><rect x="488.25" y="81.87" width="1" height="1" fill="#444040"/><rect x="489.64" y="88.18" width="1.7" height="1" fill="#444040"/><rect x="490.36" y="90.98" width="1.7" height="1.2" fill="#aca6a6"/><rect x="488.78" y="98" width="1.3" height="1.2" fill="#767070"/><rect x="487.77" y="100.23" width="1.1" height="1" fill="#444040"/><rect x="493.65" y="71.77" width="1" height="1" fill="#767070"/><rect x="493.79" y="74.37" width="1.3" height="1.2" fill="#767070"/><rect x="492.27" y="78.46" width="1.1" height="1" fill="#767070"/><rect x="493" y="82.75" width="1.3" height="1" fill="#aca6a6"/><rect x="491.52" y="89.38" width="1.1" height="1" fill="#444040"/><rect x="492.61" y="90.9" width="1.1" height="1" fill="#444040"/><rect x="493.22" y="95.02" width="1" height="1" fill="#444040"/><rect x="492.84" y="99.55" width="1.3" height="1.2" fill="#444040"/><rect x="498.17" y="71.18" width="1.7" height="1" fill="#aca6a6"/><rect x="498.39" y="74.78" width="1.1" height="1" fill="#444040"/><rect x="498.77" y="79.97" width="1.7" height="1.2" fill="#767070"/><rect x="498.32" y="83.62" width="1" height="1.2" fill="#aca6a6"/><rect x="497.9" y="89.41" width="1.1" height="1" fill="#767070"/><rect x="495.91" y="91.08" width="1" height="1" fill="#767070"/><rect x="498.81" y="97.01" width="1.1" height="1" fill="#767070"/><rect x="502.09" y="71.28" width="1" height="1" fill="#767070"/><rect x="501.05" y="75.72" width="1.7" height="1" fill="#444040"/><rect x="503.24" y="77.68" width="1.3" height="1" fill="#aca6a6"/><rect x="502.42" y="84.11" width="1.1" height="1" fill="#444040"/><rect x="501.11" y="88.88" width="1.1" height="1" fill="#444040"/><rect x="501.94" y="92.35" width="1" height="1.2" fill="#aca6a6"/><rect x="500.98" y="96.76" width="1.3" height="1" fill="#aca6a6"/><rect x="504.88" y="74.82" width="1.3" height="1" fill="#aca6a6"/><rect x="505.36" y="80.8" width="1" height="1" fill="#444040"/><rect x="507.29" y="82.74" width="1.3" height="1" fill="#767070"/><rect x="507.13" y="87.03" width="1.7" height="1" fill="#aca6a6"/><rect x="504.69" y="90.61" width="1.7" height="1" fill="#767070"/><rect x="505.69" y="95.51" width="1.3" height="1" fill="#444040"/><rect x="507.62" y="99.41" width="1.7" height="1" fill="#aca6a6"/><rect x="510.4" y="76.13" width="1.7" height="1" fill="#444040"/><rect x="512.08" y="78.41" width="1.3" height="1.2" fill="#444040"/><rect x="512.37" y="82.7" width="1.3" height="1" fill="#444040"/><rect x="511.78" y="89.03" width="1" height="1.2" fill="#767070"/><rect x="510.44" y="93.75" width="1.1" height="1.2" fill="#767070"/><rect x="509.29" y="98.36" width="1.1" height="1.2" fill="#767070"/><rect x="512.13" y="101.15" width="1.1" height="1" fill="#aca6a6"/><rect x="516.91" y="69.54" width="1.3" height="1" fill="#767070"/><rect x="515.41" y="74.42" width="1.1" height="1" fill="#444040"/><rect x="514.15" y="80.66" width="1.1" height="1" fill="#767070"/><rect x="516.66" y="85.39" width="1.1" height="1.2" fill="#767070"/><rect x="514.09" y="86.53" width="1" height="1" fill="#444040"/><rect x="514.26" y="91.53" width="1" height="1.2" fill="#767070"/><rect x="516.53" y="96.38" width="1.1" height="1" fill="#aca6a6"/><rect x="519.71" y="71.45" width="1" height="1" fill="#aca6a6"/><rect x="521.03" y="74.38" width="1.7" height="1" fill="#767070"/><rect x="520.86" y="80.54" width="1" height="1" fill="#444040"/><rect x="520.35" y="85.02" width="1.7" height="1" fill="#767070"/><rect x="518.06" y="89.55" width="1.7" height="1" fill="#aca6a6"/><rect x="518.69" y="90.99" width="1" height="1.2" fill="#444040"/><rect x="520.32" y="98.05" width="1" height="1.2" fill="#aca6a6"/><rect x="520.6" y="99.4" width="1" height="1.2" fill="#444040"/><rect x="523.77" y="71.35" width="1.3" height="1.2" fill="#444040"/><rect x="525.6" y="73.69" width="1" height="1" fill="#444040"/><rect x="524.13" y="80.99" width="1.3" height="1.2" fill="#444040"/><rect x="525.22" y="82.67" width="1.1" height="1" fill="#767070"/><rect x="525.66" y="88.74" width="1" height="1" fill="#444040"/><rect x="523.99" y="93.03" width="1.3" height="1" fill="#767070"/><rect x="524.6" y="98.33" width="1" height="1.2" fill="#444040"/><rect x="523.42" y="100.91" width="1.1" height="1" fill="#767070"/><rect x="530.09" y="69.72" width="1.1" height="1" fill="#aca6a6"/><rect x="527.4" y="75.74" width="1.7" height="1.2" fill="#444040"/><rect x="527.27" y="78.2" width="1" height="1.2" fill="#767070"/><rect x="527.13" y="83.22" width="1.1" height="1" fill="#444040"/><rect x="526.79" y="86.42" width="1.3" height="1.2" fill="#767070"/><rect x="527.01" y="90.89" width="1.1" height="1" fill="#444040"/><rect x="528.95" y="96.89" width="1.3" height="1.2" fill="#767070"/><rect x="531.29" y="70.11" width="1.1" height="1" fill="#aca6a6"/><rect x="532.28" y="75.96" width="1.7" height="1" fill="#aca6a6"/><rect x="531.18" y="79.1" width="1.7" height="1" fill="#767070"/><rect x="532.16" y="84.45" width="1.7" height="1" fill="#767070"/><rect x="533.92" y="88.96" width="1" height="1" fill="#444040"/><rect x="531.23" y="93.91" width="1" height="1.2" fill="#444040"/><rect x="532.22" y="95.98" width="1" height="1" fill="#aca6a6"/><rect x="538.3" y="72.01" width="1.1" height="1" fill="#444040"/><rect x="537.11" y="76.44" width="1.7" height="1" fill="#aca6a6"/><rect x="538.69" y="80.33" width="1.7" height="1" fill="#444040"/><rect x="535.43" y="85.15" width="1.1" height="1.2" fill="#444040"/><rect x="536.25" y="89.3" width="1" height="1.2" fill="#767070"/><rect x="536.11" y="93.31" width="1" height="1.2" fill="#444040"/><rect x="535.52" y="96.99" width="1.7" height="1" fill="#444040"/><rect x="538.96" y="100.35" width="1" height="1" fill="#444040"/><rect x="541.3" y="70.83" width="1" height="1" fill="#767070"/><rect x="540.86" y="75.04" width="1.3" height="1" fill="#767070"/><rect x="541.38" y="78.07" width="1.3" height="1.2" fill="#444040"/><rect x="540.48" y="82.03" width="1.1" height="1.2" fill="#444040"/><rect x="541.69" y="88.54" width="1.7" height="1" fill="#444040"/><rect x="540.17" y="92.31" width="1.7" height="1" fill="#aca6a6"/><rect x="539.95" y="96.06" width="1.1" height="1.2" fill="#444040"/><rect x="543.3" y="101.5" width="1.3" height="1.2" fill="#aca6a6"/><rect x="547.6" y="68.98" width="1.3" height="1" fill="#767070"/><rect x="544.33" y="74.22" width="1.3" height="1" fill="#444040"/><rect x="546.36" y="79.75" width="1" height="1" fill="#444040"/><rect x="545.67" y="83.14" width="1" height="1" fill="#767070"/><rect x="544.31" y="87.98" width="1.7" height="1" fill="#767070"/><rect x="547.07" y="92.99" width="1" height="1.2" fill="#444040"/><rect x="544.79" y="97.5" width="1.3" height="1.2" fill="#767070"/><rect x="551.71" y="72.19" width="1.1" height="1" fill="#767070"/><rect x="551.22" y="73.73" width="1.1" height="1" fill="#444040"/><rect x="549.01" y="77.73" width="1.3" height="1" fill="#767070"/><rect x="551.38" y="82.27" width="1.1" height="1.2" fill="#444040"/><rect x="551.5" y="87.63" width="1.3" height="1.2" fill="#767070"/><rect x="550.42" y="91.13" width="1.1" height="1" fill="#444040"/><rect x="548.99" y="96.77" width="1.1" height="1" fill="#aca6a6"/><rect x="554.4" y="71.86" width="1.1" height="1.2" fill="#767070"/><rect x="555.83" y="73.8" width="1.1" height="1" fill="#767070"/><rect x="553.66" y="78.19" width="1.1" height="1" fill="#767070"/><rect x="554.29" y="82.34" width="1.1" height="1" fill="#aca6a6"/><rect x="556.18" y="89.23" width="1.3" height="1" fill="#767070"/><rect x="554.4" y="92.24" width="1.3" height="1.2" fill="#aca6a6"/><rect x="554.51" y="97.1" width="1.3" height="1" fill="#767070"/><rect x="554.81" y="100.04" width="1.7" height="1" fill="#444040"/><rect x="558.05" y="70.3" width="1.1" height="1" fill="#444040"/><rect x="558.95" y="73.33" width="1" height="1" fill="#767070"/><rect x="559.69" y="77.7" width="1" height="1" fill="#aca6a6"/><rect x="560.11" y="85.02" width="1.1" height="1" fill="#767070"/><rect x="560.49" y="89.79" width="1" height="1" fill="#aca6a6"/><rect x="557.87" y="93.79" width="1.1" height="1.2" fill="#444040"/><rect x="560.24" y="98.35" width="1.3" height="1.2" fill="#444040"/><rect x="560.12" y="99.97" width="1.3" height="1" fill="#aca6a6"/><rect x="562.75" y="70.42" width="1" height="1" fill="#444040"/><rect x="562.46" y="73.58" width="1.3" height="1" fill="#aca6a6"/><rect x="562.41" y="80.23" width="1" height="1.2" fill="#444040"/><rect x="564.89" y="85.28" width="1" height="1" fill="#767070"/><rect x="565.37" y="88.47" width="1.3" height="1" fill="#767070"/><rect x="563.15" y="91.93" width="1.3" height="1" fill="#444040"/><rect x="563.39" y="95.64" width="1" height="1" fill="#aca6a6"/><rect x="564.75" y="100.31" width="1.3" height="1.2" fill="#767070"/><rect x="567.76" y="70.45" width="1.1" height="1" fill="#aca6a6"/><rect x="567.02" y="75.35" width="1" height="1.2" fill="#444040"/><rect x="567.48" y="77.78" width="1.1" height="1" fill="#767070"/><rect x="568.3" y="83.92" width="1.7" height="1" fill="#444040"/><rect x="566.69" y="89.57" width="1.1" height="1" fill="#444040"/><rect x="566.54" y="92.9" width="1.3" height="1" fill="#aca6a6"/><rect x="569.12" y="98.48" width="1.3" height="1.2" fill="#444040"/><rect x="568.52" y="101" width="1.7" height="1" fill="#aca6a6"/><rect x="573.88" y="73.38" width="1.1" height="1" fill="#767070"/><rect x="572.09" y="79.27" width="1.7" height="1.2" fill="#767070"/><rect x="571.23" y="82.91" width="1" height="1.2" fill="#444040"/><rect x="573.42" y="88.78" width="1.7" height="1.2" fill="#444040"/><rect x="573.88" y="90.89" width="1.1" height="1" fill="#767070"/><rect x="574.19" y="95.94" width="1" height="1" fill="#767070"/><rect x="577.45" y="71.07" width="1.3" height="1" fill="#aca6a6"/><rect x="577.31" y="76.47" width="1" height="1" fill="#444040"/><rect x="575.94" y="78.25" width="1.1" height="1.2" fill="#aca6a6"/><rect x="578.29" y="82.49" width="1.1" height="1" fill="#767070"/><rect x="578.27" y="88.47" width="1.7" height="1" fill="#767070"/><rect x="578.02" y="93.11" width="1.7" height="1.2" fill="#aca6a6"/><rect x="575.84" y="98.19" width="1.7" height="1.2" fill="#aca6a6"/><rect x="577.11" y="101.43" width="1" height="1" fill="#444040"/><rect x="579.9" y="75.32" width="1" height="1.2" fill="#444040"/><rect x="579.57" y="80.48" width="1.1" height="1.2" fill="#aca6a6"/><rect x="582.61" y="82.04" width="1.7" height="1" fill="#aca6a6"/><rect x="580.29" y="86.93" width="1" height="1.2" fill="#444040"/><rect x="581.68" y="92.32" width="1.1" height="1" fill="#444040"/><rect x="580.55" y="96.53" width="1.3" height="1" fill="#444040"/><rect x="579.57" y="102.14" width="1.7" height="1" fill="#aca6a6"/><rect x="586.34" y="74.94" width="1" height="1.2" fill="#444040"/><rect x="586.75" y="78.01" width="1.1" height="1" fill="#444040"/><rect x="586.54" y="85.32" width="1.7" height="1" fill="#444040"/><rect x="585.57" y="89.07" width="1.7" height="1.2" fill="#444040"/><rect x="585.05" y="93.59" width="1.1" height="1" fill="#444040"/><rect x="586.73" y="98.38" width="1.1" height="1" fill="#444040"/><rect x="587.18" y="102.16" width="1" height="1.2" fill="#767070"/><rect x="590.53" y="74.34" width="1.7" height="1.2" fill="#444040"/><rect x="590" y="78.77" width="1.1" height="1" fill="#aca6a6"/><rect x="588.66" y="83.94" width="1" height="1" fill="#767070"/><rect x="590.29" y="88.08" width="1.7" height="1.2" fill="#aca6a6"/><rect x="590.19" y="91.76" width="1.3" height="1.2" fill="#767070"/><rect x="589.03" y="96.2" width="1.1" height="1.2" fill="#767070"/><rect x="588.89" y="100.49" width="1.1" height="1.2" fill="#aca6a6"/><rect x="593.28" y="76.51" width="1" height="1" fill="#aca6a6"/><rect x="596.06" y="77.77" width="1.1" height="1" fill="#767070"/><rect x="595.24" y="83.37" width="1" height="1" fill="#444040"/><rect x="593.34" y="87.6" width="1.7" height="1" fill="#444040"/><rect x="595.1" y="92.4" width="1.7" height="1" fill="#767070"/><rect x="593.11" y="97.17" width="1.1" height="1" fill="#767070"/><rect x="595.12" y="101.51" width="1.1" height="1.2" fill="#767070"/><rect x="600.07" y="71.05" width="1.7" height="1" fill="#767070"/><rect x="598.13" y="75.26" width="1.7" height="1" fill="#444040"/><rect x="599.82" y="79.97" width="1.3" height="1" fill="#767070"/><rect x="598.74" y="81.87" width="1.1" height="1.2" fill="#aca6a6"/><rect x="598.18" y="86.24" width="1" height="1" fill="#aca6a6"/><rect x="597.9" y="91.38" width="1.1" height="1.2" fill="#aca6a6"/><rect x="598.25" y="98.05" width="1.1" height="1.2" fill="#767070"/><rect x="598.71" y="99.46" width="1.3" height="1.2" fill="#aca6a6"/><rect x="604.76" y="75.62" width="1" height="1" fill="#767070"/><rect x="602.39" y="78.84" width="1.7" height="1" fill="#444040"/><rect x="603.66" y="84.23" width="1" height="1" fill="#767070"/><rect x="602.49" y="87.64" width="1.1" height="1" fill="#aca6a6"/><rect x="603.06" y="91.19" width="1" height="1.2" fill="#aca6a6"/><rect x="602.1" y="97.31" width="1.1" height="1" fill="#aca6a6"/><rect x="603.8" y="102.39" width="1.7" height="1" fill="#aca6a6"/><rect x="607.49" y="71.42" width="1.7" height="1.2" fill="#444040"/><rect x="606.71" y="74.53" width="1" height="1.2" fill="#444040"/><rect x="608.68" y="78.69" width="1.3" height="1" fill="#767070"/><rect x="607.55" y="84.04" width="1.3" height="1" fill="#444040"/><rect x="609.14" y="89.28" width="1.3" height="1" fill="#444040"/><rect x="607.71" y="91.84" width="1" height="1" fill="#767070"/><rect x="609.23" y="97.36" width="1" height="1.2" fill="#444040"/><rect x="606.31" y="100.24" width="1.3" height="1" fill="#aca6a6"/><rect x="612.68" y="72.12" width="1.3" height="1" fill="#444040"/><rect x="611.98" y="73.77" width="1.7" height="1.2" fill="#444040"/><rect x="613.38" y="79.4" width="1.1" height="1" fill="#444040"/><rect x="611.9" y="83.81" width="1.1" height="1.2" fill="#767070"/><rect x="611.97" y="87.99" width="1" height="1" fill="#767070"/><rect x="613.23" y="92.28" width="1.3" height="1" fill="#767070"/><rect x="611.55" y="96.51" width="1" height="1" fill="#aca6a6"/><rect x="612.49" y="101.69" width="1" height="1.2" fill="#444040"/><rect x="616.34" y="71.33" width="1.1" height="1.2" fill="#444040"/><rect x="616.1" y="73.46" width="1.3" height="1" fill="#444040"/><rect x="616.31" y="79.29" width="1.1" height="1" fill="#aca6a6"/><rect x="616.17" y="83.32" width="1.3" height="1" fill="#767070"/><rect x="615.88" y="87.98" width="1.3" height="1.2" fill="#444040"/><rect x="615.84" y="91.33" width="1" height="1" fill="#767070"/><rect x="615.29" y="97.57" width="1" height="1" fill="#444040"/><rect x="616.04" y="101.4" width="1" height="1" fill="#767070"/><rect x="621.19" y="70.97" width="1.7" height="1.2" fill="#aca6a6"/><rect x="619.53" y="75.43" width="1" height="1" fill="#767070"/><rect x="619.14" y="79.68" width="1.1" height="1" fill="#767070"/><rect x="621.39" y="84.93" width="1" height="1.2" fill="#767070"/><rect x="619.05" y="89.34" width="1.3" height="1.2" fill="#444040"/><rect x="621.56" y="93.7" width="1" height="1" fill="#444040"/><rect x="619.07" y="97.04" width="1" height="1" fill="#767070"/><rect x="621.04" y="99.54" width="1.7" height="1.2" fill="#444040"/><rect x="625.54" y="72.18" width="1.1" height="1" fill="#767070"/><rect x="626.17" y="74.98" width="1.7" height="1" fill="#444040"/><rect x="626.62" y="79.66" width="1" height="1.2" fill="#767070"/><rect x="625.81" y="85.35" width="1.1" height="1" fill="#aca6a6"/><rect x="623.86" y="86.26" width="1.1" height="1" fill="#aca6a6"/><rect x="626.04" y="91.27" width="1.1" height="1.2" fill="#444040"/><rect x="626.13" y="96.06" width="1.7" height="1" fill="#767070"/><rect x="625.81" y="102.6" width="1" height="1.2" fill="#aca6a6"/><rect x="628.92" y="75.16" width="1.7" height="1.2" fill="#aca6a6"/><rect x="628.02" y="78.72" width="1.7" height="1" fill="#767070"/><rect x="630.24" y="82.32" width="1.3" height="1.2" fill="#aca6a6"/><rect x="628.39" y="89.09" width="1.7" height="1" fill="#767070"/><rect x="630.62" y="92.64" width="1" height="1.2" fill="#444040"/><rect x="631.31" y="97.53" width="1.3" height="1.2" fill="#aca6a6"/><rect x="630.41" y="99.46" width="1.3" height="1.2" fill="#444040"/><rect x="634.37" y="71.83" width="1.3" height="1.2" fill="#aca6a6"/><rect x="632.21" y="73.95" width="1" height="1" fill="#767070"/><rect x="635.2" y="80.32" width="1.1" height="1" fill="#aca6a6"/><rect x="635.71" y="84.67" width="1.7" height="1" fill="#767070"/><rect x="634.12" y="88.14" width="1.7" height="1" fill="#767070"/><rect x="635.04" y="93.2" width="1.3" height="1.2" fill="#aca6a6"/><rect x="632.41" y="96.42" width="1.3" height="1.2" fill="#aca6a6"/><rect x="634.9" y="102.25" width="1" height="1.2" fill="#767070"/><rect x="639.83" y="71.79" width="1.7" height="1.2" fill="#767070"/><rect x="638.72" y="73.68" width="1.1" height="1.2" fill="#444040"/><rect x="637.64" y="79.48" width="1.1" height="1" fill="#767070"/><rect x="636.76" y="85.39" width="1" height="1" fill="#767070"/><rect x="638.88" y="89.03" width="1" height="1" fill="#444040"/><rect x="637.61" y="92.79" width="1.1" height="1.2" fill="#444040"/><rect x="638.35" y="97.04" width="1.3" height="1" fill="#444040"/><rect x="636.95" y="101.01" width="1.1" height="1" fill="#767070"/><rect x="642.33" y="75.54" width="1" height="1.2" fill="#767070"/><rect x="643.3" y="80.72" width="1" height="1" fill="#aca6a6"/><rect x="642.15" y="82.64" width="1.7" height="1" fill="#444040"/><rect x="642.61" y="86.78" width="1.1" height="1" fill="#aca6a6"/><rect x="641.14" y="91.52" width="1" height="1" fill="#767070"/><rect x="641.93" y="96.85" width="1.7" height="1" fill="#aca6a6"/><rect x="641.36" y="100.54" width="1.1" height="1.2" fill="#444040"/><rect x="646.8" y="74.35" width="1.7" height="1" fill="#767070"/><rect x="648.31" y="80.69" width="1.7" height="1.2" fill="#aca6a6"/><rect x="648.69" y="84.68" width="1.1" height="1" fill="#444040"/><rect x="648.76" y="89.32" width="1.1" height="1" fill="#aca6a6"/><rect x="648.85" y="93.93" width="1" height="1.2" fill="#767070"/><rect x="645.67" y="98.5" width="1.1" height="1" fill="#444040"/><rect x="645.82" y="100.72" width="1" height="1" fill="#444040"/><rect x="650.36" y="73.98" width="1.3" height="1" fill="#aca6a6"/><rect x="650.74" y="77.79" width="1.7" height="1" fill="#767070"/><rect x="650.35" y="83.65" width="1.1" height="1.2" fill="#767070"/><rect x="651.52" y="87.23" width="1.1" height="1" fill="#444040"/><rect x="651.36" y="91.54" width="1.1" height="1" fill="#444040"/><rect x="651.2" y="96.5" width="1.3" height="1" fill="#444040"/><rect x="653.32" y="99.46" width="1.3" height="1.2" fill="#aca6a6"/><rect x="657.48" y="73.79" width="1.1" height="1" fill="#767070"/><rect x="656.08" y="78.23" width="1" height="1" fill="#444040"/><rect x="657.4" y="84.43" width="1.1" height="1" fill="#aca6a6"/><rect x="654.69" y="88.61" width="1.1" height="1.2" fill="#767070"/><rect x="655.31" y="90.64" width="1.7" height="1.2" fill="#767070"/><rect x="657.5" y="96.87" width="1.3" height="1.2" fill="#444040"/><rect x="657.31" y="101.17" width="1.7" height="1" fill="#444040"/><rect x="659.94" y="75.14" width="1.7" height="1.2" fill="#444040"/><rect x="658.86" y="78.68" width="1.3" height="1.2" fill="#444040"/><rect x="661.73" y="83.87" width="1.3" height="1" fill="#aca6a6"/><rect x="662.03" y="87.98" width="1.1" height="1" fill="#767070"/><rect x="659.48" y="90.92" width="1.1" height="1" fill="#767070"/><rect x="659.72" y="97" width="1" height="1" fill="#aca6a6"/><rect x="661.93" y="102.06" width="1.7" height="1.2" fill="#444040"/><rect x="664.67" y="75.11" width="1" height="1" fill="#aca6a6"/><rect x="663.44" y="80.58" width="1.1" height="1" fill="#767070"/><rect x="663.53" y="83.86" width="1.1" height="1" fill="#aca6a6"/><rect x="666.38" y="87.6" width="1" height="1" fill="#767070"/><rect x="666.49" y="90.79" width="1.7" height="1" fill="#767070"/><rect x="666.02" y="97.58" width="1.3" height="1" fill="#aca6a6"/><rect x="666.05" y="99.59" width="1.3" height="1" fill="#767070"/><rect x="668.12" y="75.41" width="1.7" height="1" fill="#444040"/><rect x="670.2" y="80.77" width="1" height="1" fill="#767070"/><rect x="670.52" y="84.04" width="1.3" height="1.2" fill="#aca6a6"/><rect x="669.35" y="89.53" width="1.3" height="1" fill="#767070"/><rect x="669.27" y="92.16" width="1.3" height="1" fill="#aca6a6"/><rect x="668.5" y="97.33" width="1.3" height="1" fill="#444040"/><rect x="669.08" y="101.32" width="1" height="1.2" fill="#444040"/><rect x="673.77" y="76.02" width="1.1" height="1.2" fill="#767070"/><rect x="673.19" y="79.37" width="1.3" height="1.2" fill="#767070"/><rect x="673.52" y="84.75" width="1.3" height="1" fill="#444040"/><rect x="672.48" y="88.17" width="1.7" height="1" fill="#aca6a6"/><rect x="675.13" y="91.18" width="1.3" height="1.2" fill="#aca6a6"/><rect x="672.97" y="95.97" width="1.1" height="1" fill="#aca6a6"/><rect x="672" y="99.48" width="1.3" height="1" fill="#767070"/><rect x="679.76" y="75.44" width="1.7" height="1" fill="#aca6a6"/><rect x="678.61" y="77.91" width="1.3" height="1.2" fill="#444040"/><rect x="676.54" y="84.88" width="1.7" height="1" fill="#aca6a6"/><rect x="679.03" y="88.75" width="1.1" height="1" fill="#aca6a6"/><rect x="679.33" y="90.62" width="1" height="1" fill="#aca6a6"/><rect x="677.63" y="98.57" width="1.3" height="1.2" fill="#444040"/><rect x="678.39" y="100.77" width="1.7" height="1" fill="#767070"/>
<line x1="444" y1="130.4" x2="462" y2="130.4" stroke="#a6aaae" stroke-width="0.9"/><line x1="463.6" y1="130.4" x2="466.6" y2="130.4" stroke="#a6aaae" stroke-width="0.9"/><line x1="469.1" y1="130.4" x2="491.1" y2="130.4" stroke="#84888c" stroke-width="0.9"/><line x1="492.3" y1="130.4" x2="504.3" y2="130.4" stroke="#9a9ea2" stroke-width="0.9"/><line x1="506.8" y1="130.4" x2="524.8" y2="130.4" stroke="#9a9ea2" stroke-width="0.9"/><line x1="525.6" y1="130.4" x2="539.6" y2="130.4" stroke="#84888c" stroke-width="0.9"/><line x1="540.8" y1="130.4" x2="554.8" y2="130.4" stroke="#9a9ea2" stroke-width="0.9"/><line x1="557.3" y1="130.4" x2="560.3" y2="130.4" stroke="#8e9296" stroke-width="0.9"/><line x1="561.1" y1="130.4" x2="573.1" y2="130.4" stroke="#a6aaae" stroke-width="0.9"/><line x1="574.7" y1="130.4" x2="586.7" y2="130.4" stroke="#a6aaae" stroke-width="0.9"/><line x1="589.2" y1="130.4" x2="607.2" y2="130.4" stroke="#a6aaae" stroke-width="0.9"/><line x1="608.8" y1="130.4" x2="611.8" y2="130.4" stroke="#84888c" stroke-width="0.9"/><line x1="614.3" y1="130.4" x2="617.3" y2="130.4" stroke="#8e9296" stroke-width="0.9"/><line x1="618.5" y1="130.4" x2="623.5" y2="130.4" stroke="#a6aaae" stroke-width="0.9"/><line x1="625.1" y1="130.4" x2="643.1" y2="130.4" stroke="#9a9ea2" stroke-width="0.9"/><line x1="644.3" y1="130.4" x2="662.3" y2="130.4" stroke="#a6aaae" stroke-width="0.9"/><line x1="664.8" y1="130.4" x2="686.8" y2="130.4" stroke="#84888c" stroke-width="0.9"/><line x1="444" y1="132.8" x2="452" y2="132.8" stroke="#84888c" stroke-width="0.9"/><line x1="453.6" y1="132.8" x2="467.6" y2="132.8" stroke="#8e9296" stroke-width="0.9"/><line x1="469.2" y1="132.8" x2="477.2" y2="132.8" stroke="#8e9296" stroke-width="0.9"/><line x1="478.8" y1="132.8" x2="492.8" y2="132.8" stroke="#a6aaae" stroke-width="0.9"/><line x1="494" y1="132.8" x2="506" y2="132.8" stroke="#9a9ea2" stroke-width="0.9"/><line x1="507.2" y1="132.8" x2="525.2" y2="132.8" stroke="#9a9ea2" stroke-width="0.9"/><line x1="526" y1="132.8" x2="531" y2="132.8" stroke="#84888c" stroke-width="0.9"/><line x1="531.8" y1="132.8" x2="549.8" y2="132.8" stroke="#8e9296" stroke-width="0.9"/><line x1="550.6" y1="132.8" x2="562.6" y2="132.8" stroke="#8e9296" stroke-width="0.9"/><line x1="564.2" y1="132.8" x2="582.2" y2="132.8" stroke="#8e9296" stroke-width="0.9"/><line x1="583" y1="132.8" x2="586" y2="132.8" stroke="#9a9ea2" stroke-width="0.9"/><line x1="587.2" y1="132.8" x2="609.2" y2="132.8" stroke="#84888c" stroke-width="0.9"/><line x1="610.4" y1="132.8" x2="620.4" y2="132.8" stroke="#a6aaae" stroke-width="0.9"/><line x1="621.2" y1="132.8" x2="629.2" y2="132.8" stroke="#9a9ea2" stroke-width="0.9"/><line x1="630" y1="132.8" x2="633" y2="132.8" stroke="#8e9296" stroke-width="0.9"/><line x1="633.8" y1="132.8" x2="641.8" y2="132.8" stroke="#a6aaae" stroke-width="0.9"/><line x1="644.3" y1="132.8" x2="662.3" y2="132.8" stroke="#8e9296" stroke-width="0.9"/><line x1="663.1" y1="132.8" x2="677.1" y2="132.8" stroke="#9a9ea2" stroke-width="0.9"/><line x1="678.3" y1="132.8" x2="692.3" y2="132.8" stroke="#84888c" stroke-width="0.9"/><line x1="444" y1="139.55" x2="447" y2="139.55" stroke="#84888c" stroke-width="0.9"/><line x1="447.8" y1="139.55" x2="452.8" y2="139.55" stroke="#84888c" stroke-width="0.9"/><line x1="454" y1="139.55" x2="476" y2="139.55" stroke="#a6aaae" stroke-width="0.9"/><line x1="476.8" y1="139.55" x2="479.8" y2="139.55" stroke="#9a9ea2" stroke-width="0.9"/><line x1="482.3" y1="139.55" x2="485.3" y2="139.55" stroke="#a6aaae" stroke-width="0.9"/><line x1="486.1" y1="139.55" x2="496.1" y2="139.55" stroke="#9a9ea2" stroke-width="0.9"/><line x1="497.3" y1="139.55" x2="500.3" y2="139.55" stroke="#9a9ea2" stroke-width="0.9"/><line x1="501.5" y1="139.55" x2="515.5" y2="139.55" stroke="#8e9296" stroke-width="0.9"/><line x1="518" y1="139.55" x2="530" y2="139.55" stroke="#a6aaae" stroke-width="0.9"/><line x1="531.6" y1="139.55" x2="553.6" y2="139.55" stroke="#8e9296" stroke-width="0.9"/><line x1="554.8" y1="139.55" x2="572.8" y2="139.55" stroke="#9a9ea2" stroke-width="0.9"/><line x1="575.3" y1="139.55" x2="587.3" y2="139.55" stroke="#a6aaae" stroke-width="0.9"/><line x1="589.8" y1="139.55" x2="592.8" y2="139.55" stroke="#9a9ea2" stroke-width="0.9"/><line x1="593.6" y1="139.55" x2="601.6" y2="139.55" stroke="#9a9ea2" stroke-width="0.9"/><line x1="603.2" y1="139.55" x2="621.2" y2="139.55" stroke="#9a9ea2" stroke-width="0.9"/><line x1="622" y1="139.55" x2="634" y2="139.55" stroke="#a6aaae" stroke-width="0.9"/><line x1="635.6" y1="139.55" x2="640.6" y2="139.55" stroke="#84888c" stroke-width="0.9"/><line x1="643.1" y1="139.55" x2="657.1" y2="139.55" stroke="#a6aaae" stroke-width="0.9"/><line x1="657.9" y1="139.55" x2="662.9" y2="139.55" stroke="#a6aaae" stroke-width="0.9"/><line x1="664.5" y1="139.55" x2="674.5" y2="139.55" stroke="#a6aaae" stroke-width="0.9"/><line x1="675.7" y1="139.55" x2="697.7" y2="139.55" stroke="#84888c" stroke-width="0.9"/><line x1="444" y1="141.95" x2="454" y2="141.95" stroke="#a6aaae" stroke-width="0.9"/><line x1="454.8" y1="141.95" x2="466.8" y2="141.95" stroke="#8e9296" stroke-width="0.9"/><line x1="468.4" y1="141.95" x2="476.4" y2="141.95" stroke="#9a9ea2" stroke-width="0.9"/><line x1="477.6" y1="141.95" x2="482.6" y2="141.95" stroke="#9a9ea2" stroke-width="0.9"/><line x1="484.2" y1="141.95" x2="492.2" y2="141.95" stroke="#a6aaae" stroke-width="0.9"/><line x1="494.7" y1="141.95" x2="504.7" y2="141.95" stroke="#9a9ea2" stroke-width="0.9"/><line x1="506.3" y1="141.95" x2="520.3" y2="141.95" stroke="#9a9ea2" stroke-width="0.9"/><line x1="522.8" y1="141.95" x2="540.8" y2="141.95" stroke="#9a9ea2" stroke-width="0.9"/><line x1="542.4" y1="141.95" x2="564.4" y2="141.95" stroke="#9a9ea2" stroke-width="0.9"/><line x1="565.6" y1="141.95" x2="587.6" y2="141.95" stroke="#9a9ea2" stroke-width="0.9"/><line x1="589.2" y1="141.95" x2="611.2" y2="141.95" stroke="#84888c" stroke-width="0.9"/><line x1="612.4" y1="141.95" x2="630.4" y2="141.95" stroke="#9a9ea2" stroke-width="0.9"/><line x1="631.6" y1="141.95" x2="636.6" y2="141.95" stroke="#8e9296" stroke-width="0.9"/><line x1="638.2" y1="141.95" x2="656.2" y2="141.95" stroke="#8e9296" stroke-width="0.9"/><line x1="657.4" y1="141.95" x2="669.4" y2="141.95" stroke="#8e9296" stroke-width="0.9"/><line x1="671.9" y1="141.95" x2="676.9" y2="141.95" stroke="#9a9ea2" stroke-width="0.9"/><line x1="678.1" y1="141.95" x2="692.1" y2="141.95" stroke="#9a9ea2" stroke-width="0.9"/><line x1="444" y1="148.7" x2="449" y2="148.7" stroke="#84888c" stroke-width="0.9"/><line x1="450.6" y1="148.7" x2="460.6" y2="148.7" stroke="#8e9296" stroke-width="0.9"/><line x1="462.2" y1="148.7" x2="467.2" y2="148.7" stroke="#9a9ea2" stroke-width="0.9"/><line x1="468.8" y1="148.7" x2="476.8" y2="148.7" stroke="#a6aaae" stroke-width="0.9"/><line x1="478.4" y1="148.7" x2="492.4" y2="148.7" stroke="#a6aaae" stroke-width="0.9"/><line x1="494.9" y1="148.7" x2="502.9" y2="148.7" stroke="#84888c" stroke-width="0.9"/><line x1="504.1" y1="148.7" x2="507.1" y2="148.7" stroke="#84888c" stroke-width="0.9"/><line x1="508.7" y1="148.7" x2="526.7" y2="148.7" stroke="#8e9296" stroke-width="0.9"/><line x1="529.2" y1="148.7" x2="539.2" y2="148.7" stroke="#a6aaae" stroke-width="0.9"/><line x1="540.8" y1="148.7" x2="545.8" y2="148.7" stroke="#9a9ea2" stroke-width="0.9"/><line x1="547.4" y1="148.7" x2="552.4" y2="148.7" stroke="#84888c" stroke-width="0.9"/><line x1="553.6" y1="148.7" x2="556.6" y2="148.7" stroke="#a6aaae" stroke-width="0.9"/><line x1="557.4" y1="148.7" x2="565.4" y2="148.7" stroke="#a6aaae" stroke-width="0.9"/><line x1="566.6" y1="148.7" x2="578.6" y2="148.7" stroke="#9a9ea2" stroke-width="0.9"/><line x1="581.1" y1="148.7" x2="584.1" y2="148.7" stroke="#84888c" stroke-width="0.9"/><line x1="585.3" y1="148.7" x2="595.3" y2="148.7" stroke="#a6aaae" stroke-width="0.9"/><line x1="596.9" y1="148.7" x2="614.9" y2="148.7" stroke="#84888c" stroke-width="0.9"/><line x1="615.7" y1="148.7" x2="620.7" y2="148.7" stroke="#84888c" stroke-width="0.9"/><line x1="621.5" y1="148.7" x2="624.5" y2="148.7" stroke="#9a9ea2" stroke-width="0.9"/><line x1="625.3" y1="148.7" x2="628.3" y2="148.7" stroke="#84888c" stroke-width="0.9"/><line x1="629.5" y1="148.7" x2="643.5" y2="148.7" stroke="#8e9296" stroke-width="0.9"/><line x1="646" y1="148.7" x2="664" y2="148.7" stroke="#9a9ea2" stroke-width="0.9"/><line x1="665.6" y1="148.7" x2="670.6" y2="148.7" stroke="#84888c" stroke-width="0.9"/><line x1="673.1" y1="148.7" x2="695.1" y2="148.7" stroke="#84888c" stroke-width="0.9"/><line x1="444" y1="151.1" x2="447" y2="151.1" stroke="#9a9ea2" stroke-width="0.9"/><line x1="449.5" y1="151.1" x2="457.5" y2="151.1" stroke="#a6aaae" stroke-width="0.9"/><line x1="458.7" y1="151.1" x2="461.7" y2="151.1" stroke="#84888c" stroke-width="0.9"/><line x1="462.9" y1="151.1" x2="470.9" y2="151.1" stroke="#9a9ea2" stroke-width="0.9"/><line x1="472.5" y1="151.1" x2="482.5" y2="151.1" stroke="#8e9296" stroke-width="0.9"/><line x1="483.7" y1="151.1" x2="497.7" y2="151.1" stroke="#84888c" stroke-width="0.9"/><line x1="500.2" y1="151.1" x2="505.2" y2="151.1" stroke="#9a9ea2" stroke-width="0.9"/><line x1="506.8" y1="151.1" x2="514.8" y2="151.1" stroke="#9a9ea2" stroke-width="0.9"/><line x1="517.3" y1="151.1" x2="539.3" y2="151.1" stroke="#9a9ea2" stroke-width="0.9"/><line x1="540.5" y1="151.1" x2="543.5" y2="151.1" stroke="#a6aaae" stroke-width="0.9"/><line x1="544.7" y1="151.1" x2="558.7" y2="151.1" stroke="#84888c" stroke-width="0.9"/><line x1="559.9" y1="151.1" x2="567.9" y2="151.1" stroke="#9a9ea2" stroke-width="0.9"/><line x1="569.5" y1="151.1" x2="574.5" y2="151.1" stroke="#a6aaae" stroke-width="0.9"/><line x1="575.7" y1="151.1" x2="583.7" y2="151.1" stroke="#a6aaae" stroke-width="0.9"/><line x1="586.2" y1="151.1" x2="596.2" y2="151.1" stroke="#8e9296" stroke-width="0.9"/><line x1="597.8" y1="151.1" x2="600.8" y2="151.1" stroke="#84888c" stroke-width="0.9"/><line x1="603.3" y1="151.1" x2="613.3" y2="151.1" stroke="#8e9296" stroke-width="0.9"/><line x1="614.1" y1="151.1" x2="626.1" y2="151.1" stroke="#84888c" stroke-width="0.9"/><line x1="627.3" y1="151.1" x2="632.3" y2="151.1" stroke="#84888c" stroke-width="0.9"/><line x1="634.8" y1="151.1" x2="639.8" y2="151.1" stroke="#9a9ea2" stroke-width="0.9"/><line x1="641.4" y1="151.1" x2="663.4" y2="151.1" stroke="#a6aaae" stroke-width="0.9"/><line x1="665" y1="151.1" x2="677" y2="151.1" stroke="#9a9ea2" stroke-width="0.9"/><line x1="677.8" y1="151.1" x2="680.8" y2="151.1" stroke="#8e9296" stroke-width="0.9"/><line x1="444" y1="157.85" x2="466" y2="157.85" stroke="#8e9296" stroke-width="0.9"/><line x1="467.6" y1="157.85" x2="479.6" y2="157.85" stroke="#8e9296" stroke-width="0.9"/><line x1="482.1" y1="157.85" x2="500.1" y2="157.85" stroke="#a6aaae" stroke-width="0.9"/><line x1="501.3" y1="157.85" x2="515.3" y2="157.85" stroke="#8e9296" stroke-width="0.9"/><line x1="516.9" y1="157.85" x2="521.9" y2="157.85" stroke="#84888c" stroke-width="0.9"/><line x1="523.5" y1="157.85" x2="533.5" y2="157.85" stroke="#8e9296" stroke-width="0.9"/><line x1="534.7" y1="157.85" x2="537.7" y2="157.85" stroke="#8e9296" stroke-width="0.9"/><line x1="540.2" y1="157.85" x2="548.2" y2="157.85" stroke="#84888c" stroke-width="0.9"/><line x1="549.8" y1="157.85" x2="557.8" y2="157.85" stroke="#9a9ea2" stroke-width="0.9"/><line x1="558.6" y1="157.85" x2="570.6" y2="157.85" stroke="#84888c" stroke-width="0.9"/><line x1="573.1" y1="157.85" x2="581.1" y2="157.85" stroke="#84888c" stroke-width="0.9"/><line x1="582.7" y1="157.85" x2="592.7" y2="157.85" stroke="#84888c" stroke-width="0.9"/><line x1="593.9" y1="157.85" x2="607.9" y2="157.85" stroke="#84888c" stroke-width="0.9"/><line x1="609.1" y1="157.85" x2="612.1" y2="157.85" stroke="#8e9296" stroke-width="0.9"/><line x1="612.9" y1="157.85" x2="630.9" y2="157.85" stroke="#8e9296" stroke-width="0.9"/><line x1="632.1" y1="157.85" x2="654.1" y2="157.85" stroke="#a6aaae" stroke-width="0.9"/><line x1="656.6" y1="157.85" x2="664.6" y2="157.85" stroke="#84888c" stroke-width="0.9"/><line x1="665.4" y1="157.85" x2="673.4" y2="157.85" stroke="#9a9ea2" stroke-width="0.9"/><line x1="674.6" y1="157.85" x2="682.6" y2="157.85" stroke="#a6aaae" stroke-width="0.9"/><line x1="444" y1="160.25" x2="449" y2="160.25" stroke="#8e9296" stroke-width="0.9"/><line x1="451.5" y1="160.25" x2="473.5" y2="160.25" stroke="#9a9ea2" stroke-width="0.9"/><line x1="474.7" y1="160.25" x2="488.7" y2="160.25" stroke="#8e9296" stroke-width="0.9"/><line x1="489.5" y1="160.25" x2="507.5" y2="160.25" stroke="#9a9ea2" stroke-width="0.9"/><line x1="509.1" y1="160.25" x2="514.1" y2="160.25" stroke="#8e9296" stroke-width="0.9"/><line x1="516.6" y1="160.25" x2="530.6" y2="160.25" stroke="#8e9296" stroke-width="0.9"/><line x1="533.1" y1="160.25" x2="536.1" y2="160.25" stroke="#9a9ea2" stroke-width="0.9"/><line x1="537.3" y1="160.25" x2="555.3" y2="160.25" stroke="#84888c" stroke-width="0.9"/><line x1="556.1" y1="160.25" x2="578.1" y2="160.25" stroke="#84888c" stroke-width="0.9"/><line x1="579.3" y1="160.25" x2="601.3" y2="160.25" stroke="#8e9296" stroke-width="0.9"/><line x1="602.9" y1="160.25" x2="624.9" y2="160.25" stroke="#a6aaae" stroke-width="0.9"/><line x1="626.1" y1="160.25" x2="644.1" y2="160.25" stroke="#8e9296" stroke-width="0.9"/><line x1="644.9" y1="160.25" x2="658.9" y2="160.25" stroke="#84888c" stroke-width="0.9"/><line x1="661.4" y1="160.25" x2="675.4" y2="160.25" stroke="#a6aaae" stroke-width="0.9"/><line x1="676.6" y1="160.25" x2="688.6" y2="160.25" stroke="#84888c" stroke-width="0.9"/><line x1="444" y1="167" x2="454" y2="167" stroke="#9a9ea2" stroke-width="0.9"/><line x1="456.5" y1="167" x2="461.5" y2="167" stroke="#9a9ea2" stroke-width="0.9"/><line x1="463.1" y1="167" x2="481.1" y2="167" stroke="#84888c" stroke-width="0.9"/><line x1="482.3" y1="167" x2="504.3" y2="167" stroke="#a6aaae" stroke-width="0.9"/><line x1="505.9" y1="167" x2="510.9" y2="167" stroke="#9a9ea2" stroke-width="0.9"/><line x1="512.1" y1="167" x2="522.1" y2="167" stroke="#8e9296" stroke-width="0.9"/><line x1="523.3" y1="167" x2="535.3" y2="167" stroke="#8e9296" stroke-width="0.9"/><line x1="536.5" y1="167" x2="548.5" y2="167" stroke="#a6aaae" stroke-width="0.9"/><line x1="549.7" y1="167" x2="571.7" y2="167" stroke="#9a9ea2" stroke-width="0.9"/><line x1="572.5" y1="167" x2="577.5" y2="167" stroke="#a6aaae" stroke-width="0.9"/><line x1="578.3" y1="167" x2="600.3" y2="167" stroke="#9a9ea2" stroke-width="0.9"/><line x1="601.1" y1="167" x2="606.1" y2="167" stroke="#a6aaae" stroke-width="0.9"/><line x1="608.6" y1="167" x2="616.6" y2="167" stroke="#9a9ea2" stroke-width="0.9"/><line x1="619.1" y1="167" x2="624.1" y2="167" stroke="#9a9ea2" stroke-width="0.9"/><line x1="625.7" y1="167" x2="628.7" y2="167" stroke="#a6aaae" stroke-width="0.9"/><line x1="629.9" y1="167" x2="632.9" y2="167" stroke="#84888c" stroke-width="0.9"/><line x1="633.7" y1="167" x2="636.7" y2="167" stroke="#9a9ea2" stroke-width="0.9"/><line x1="639.2" y1="167" x2="651.2" y2="167" stroke="#8e9296" stroke-width="0.9"/><line x1="652.4" y1="167" x2="670.4" y2="167" stroke="#8e9296" stroke-width="0.9"/><line x1="671.6" y1="167" x2="676.6" y2="167" stroke="#84888c" stroke-width="0.9"/><line x1="677.8" y1="167" x2="691.8" y2="167" stroke="#84888c" stroke-width="0.9"/><line x1="444" y1="169.4" x2="456" y2="169.4" stroke="#8e9296" stroke-width="0.9"/><line x1="457.2" y1="169.4" x2="471.2" y2="169.4" stroke="#84888c" stroke-width="0.9"/><line x1="473.7" y1="169.4" x2="476.7" y2="169.4" stroke="#84888c" stroke-width="0.9"/><line x1="477.5" y1="169.4" x2="491.5" y2="169.4" stroke="#84888c" stroke-width="0.9"/><line x1="492.3" y1="169.4" x2="495.3" y2="169.4" stroke="#9a9ea2" stroke-width="0.9"/><line x1="496.9" y1="169.4" x2="510.9" y2="169.4" stroke="#9a9ea2" stroke-width="0.9"/><line x1="513.4" y1="169.4" x2="516.4" y2="169.4" stroke="#a6aaae" stroke-width="0.9"/><line x1="517.2" y1="169.4" x2="520.2" y2="169.4" stroke="#a6aaae" stroke-width="0.9"/><line x1="521" y1="169.4" x2="526" y2="169.4" stroke="#84888c" stroke-width="0.9"/><line x1="527.2" y1="169.4" x2="535.2" y2="169.4" stroke="#84888c" stroke-width="0.9"/><line x1="537.7" y1="169.4" x2="545.7" y2="169.4" stroke="#84888c" stroke-width="0.9"/><line x1="547.3" y1="169.4" x2="569.3" y2="169.4" stroke="#8e9296" stroke-width="0.9"/><line x1="570.1" y1="169.4" x2="584.1" y2="169.4" stroke="#9a9ea2" stroke-width="0.9"/><line x1="586.6" y1="169.4" x2="608.6" y2="169.4" stroke="#8e9296" stroke-width="0.9"/><line x1="609.4" y1="169.4" x2="614.4" y2="169.4" stroke="#9a9ea2" stroke-width="0.9"/><line x1="616.9" y1="169.4" x2="638.9" y2="169.4" stroke="#9a9ea2" stroke-width="0.9"/><line x1="641.4" y1="169.4" x2="659.4" y2="169.4" stroke="#9a9ea2" stroke-width="0.9"/><line x1="660.2" y1="169.4" x2="674.2" y2="169.4" stroke="#84888c" stroke-width="0.9"/><line x1="675.4" y1="169.4" x2="687.4" y2="169.4" stroke="#9a9ea2" stroke-width="0.9"/><line x1="444" y1="176.15" x2="454" y2="176.15" stroke="#9a9ea2" stroke-width="0.9"/><line x1="455.6" y1="176.15" x2="477.6" y2="176.15" stroke="#84888c" stroke-width="0.9"/><line x1="480.1" y1="176.15" x2="498.1" y2="176.15" stroke="#84888c" stroke-width="0.9"/><line x1="499.7" y1="176.15" x2="502.7" y2="176.15" stroke="#84888c" stroke-width="0.9"/><line x1="505.2" y1="176.15" x2="519.2" y2="176.15" stroke="#9a9ea2" stroke-width="0.9"/><line x1="520" y1="176.15" x2="530" y2="176.15" stroke="#a6aaae" stroke-width="0.9"/><line x1="530.8" y1="176.15" x2="538.8" y2="176.15" stroke="#9a9ea2" stroke-width="0.9"/><line x1="540.4" y1="176.15" x2="558.4" y2="176.15" stroke="#84888c" stroke-width="0.9"/><line x1="559.2" y1="176.15" x2="571.2" y2="176.15" stroke="#84888c" stroke-width="0.9"/><line x1="572.4" y1="176.15" x2="575.4" y2="176.15" stroke="#8e9296" stroke-width="0.9"/><line x1="576.6" y1="176.15" x2="594.6" y2="176.15" stroke="#8e9296" stroke-width="0.9"/><line x1="596.2" y1="176.15" x2="608.2" y2="176.15" stroke="#9a9ea2" stroke-width="0.9"/><line x1="609.4" y1="176.15" x2="614.4" y2="176.15" stroke="#84888c" stroke-width="0.9"/><line x1="616" y1="176.15" x2="630" y2="176.15" stroke="#9a9ea2" stroke-width="0.9"/><line x1="631.6" y1="176.15" x2="649.6" y2="176.15" stroke="#84888c" stroke-width="0.9"/><line x1="650.4" y1="176.15" x2="664.4" y2="176.15" stroke="#84888c" stroke-width="0.9"/><line x1="666.9" y1="176.15" x2="680.9" y2="176.15" stroke="#9a9ea2" stroke-width="0.9"/><line x1="444" y1="178.55" x2="458" y2="178.55" stroke="#9a9ea2" stroke-width="0.9"/><line x1="459.2" y1="178.55" x2="469.2" y2="178.55" stroke="#8e9296" stroke-width="0.9"/><line x1="471.7" y1="178.55" x2="489.7" y2="178.55" stroke="#a6aaae" stroke-width="0.9"/><line x1="492.2" y1="178.55" x2="504.2" y2="178.55" stroke="#9a9ea2" stroke-width="0.9"/><line x1="505" y1="178.55" x2="513" y2="178.55" stroke="#84888c" stroke-width="0.9"/><line x1="514.6" y1="178.55" x2="526.6" y2="178.55" stroke="#84888c" stroke-width="0.9"/><line x1="527.4" y1="178.55" x2="537.4" y2="178.55" stroke="#8e9296" stroke-width="0.9"/><line x1="538.6" y1="178.55" x2="550.6" y2="178.55" stroke="#84888c" stroke-width="0.9"/><line x1="553.1" y1="178.55" x2="567.1" y2="178.55" stroke="#a6aaae" stroke-width="0.9"/><line x1="567.9" y1="178.55" x2="589.9" y2="178.55" stroke="#84888c" stroke-width="0.9"/><line x1="591.1" y1="178.55" x2="603.1" y2="178.55" stroke="#84888c" stroke-width="0.9"/><line x1="603.9" y1="178.55" x2="611.9" y2="178.55" stroke="#84888c" stroke-width="0.9"/><line x1="613.1" y1="178.55" x2="616.1" y2="178.55" stroke="#9a9ea2" stroke-width="0.9"/><line x1="616.9" y1="178.55" x2="634.9" y2="178.55" stroke="#a6aaae" stroke-width="0.9"/><line x1="636.1" y1="178.55" x2="648.1" y2="178.55" stroke="#8e9296" stroke-width="0.9"/><line x1="649.3" y1="178.55" x2="659.3" y2="178.55" stroke="#8e9296" stroke-width="0.9"/><line x1="660.5" y1="178.55" x2="663.5" y2="178.55" stroke="#8e9296" stroke-width="0.9"/><line x1="664.3" y1="178.55" x2="678.3" y2="178.55" stroke="#9a9ea2" stroke-width="0.9"/><line x1="679.1" y1="178.55" x2="689.1" y2="178.55" stroke="#84888c" stroke-width="0.9"/>
<path d="M453,155.4 C470,147.5 520,146.6 562,146.6 C610,146.6 655,148 670.5,155.2 C655,162.6 610,164 562,164 C520,164 470,163.3 453,155.4 Z" fill="#e6a4b2" opacity="0.55"/>
<polyline points="443.8,70.8 500,68.6 545,67.5 560,67.6 590,69.2 645,69.6 681.6,69.8" fill="none" stroke="#8a8a8a" stroke-width="0.8"/>
<polyline points="443.8,96.2 560,96.8 681.6,98.3" fill="none" stroke="#4a90d4" stroke-width="1" stroke-dasharray="3,1.6"/>
<polyline points="443.8,100.4 560,103.1 681.6,104.1" fill="none" stroke="#4e5256" stroke-width="0.9"/>
<polyline points="443.8,119.8 480,122.6 530,126 560,127 620,126.6 681.6,125.1" fill="none" stroke="#5a5e62" stroke-width="0.9"/>
</g>
<rect x="443.8" y="17.3" width="237.8" height="165.5" fill="none" stroke="#3a3a3a" stroke-width="1"/>
<path d="M669.6,91.8 L676.6,91.8 L673.1,97.4 Z" fill="#fff" stroke="#3a8ad0" stroke-width="0.9"/>
<line x1="670.5" y1="93.4" x2="675.7" y2="93.4" stroke="#3a8ad0" stroke-width="0.6"/>
<rect x="470.3" y="64.6" width="6.7" height="112.7" fill="url(#gpipe)" stroke="#555" stroke-width="0.7"/>
<rect x="470.7" y="145.6" width="5.9" height="19.4" fill="#c0959c" opacity="0.85"/>
<rect x="470.7" y="145.6" width="5.9" height="3.6" fill="#cfcfcf"/>
<rect x="470.7" y="161.4" width="5.9" height="3.6" fill="#cfcfcf"/>
<rect x="556.4" y="49.7" width="6.2" height="127.6" fill="url(#gpipe)" stroke="#555" stroke-width="0.7"/>
<rect x="556.8" y="145.6" width="5.4" height="19.4" fill="#c0959c" opacity="0.85"/>
<rect x="556.8" y="145.6" width="5.4" height="3.6" fill="#cfcfcf"/>
<rect x="556.8" y="161.4" width="5.4" height="3.6" fill="#cfcfcf"/>
<rect x="645.4" y="64.6" width="6.4" height="112.7" fill="url(#gpipe)" stroke="#555" stroke-width="0.7"/>
<rect x="645.8" y="145.6" width="5.6" height="19.4" fill="#c0959c" opacity="0.85"/>
<rect x="645.8" y="145.6" width="5.6" height="3.6" fill="#cfcfcf"/>
<rect x="645.8" y="161.4" width="5.6" height="3.6" fill="#cfcfcf"/>
<path d="M473.25,85.2 Q471.75,84.6 471.75,87.4 L471.75,93 Q471.75,93.6 472.35,93.6 L474.95,93.6 Q475.55,93.6 475.55,93 L475.55,87.4 Q475.55,84.6 474.05,85.2 Z" fill="#4a96dc"/>
<path d="M473.25,118.8 Q471.75,118.2 471.75,121 L471.75,126.6 Q471.75,127.2 472.35,127.2 L474.95,127.2 Q475.55,127.2 475.55,126.6 L475.55,121 Q475.55,118.2 474.05,118.8 Z" fill="#4a96dc"/>
<path d="M648.2,85.2 Q646.7,84.6 646.7,87.4 L646.7,93 Q646.7,93.6 647.3,93.6 L649.9,93.6 Q650.5,93.6 650.5,93 L650.5,87.4 Q650.5,84.6 649,85.2 Z" fill="#4a96dc"/>
<path d="M648.2,118.8 Q646.7,118.2 646.7,121 L646.7,126.6 Q646.7,127.2 647.3,127.2 L649.9,127.2 Q650.5,127.2 650.5,126.6 L650.5,121 Q650.5,118.2 649,118.8 Z" fill="#4a96dc"/>
<path d="M559.5,73.9 L561.8,69.75 L560.88,69.75 L560.88,65.6 L558.12,65.6 L558.12,69.75 L557.2,69.75 Z" fill="#d8243c"/>
<path d="M559.5,108.9 L561.8,104.75 L560.88,104.75 L560.88,100.6 L558.12,100.6 L558.12,104.75 L557.2,104.75 Z" fill="#d8243c"/>
<path d="M474.1,50.1 L477.2,54.45 L475.96,54.45 L475.96,58.8 L472.24,58.8 L472.24,54.45 L471,54.45 Z" fill="#4a96dc"/>
<path d="M649.1,50.2 L652.2,54.5 L650.96,54.5 L650.96,58.8 L647.24,58.8 L647.24,54.5 L646,54.5 Z" fill="#4a96dc"/>
<path d="M559.6,42.6 L562.6,38.3 L561.4,38.3 L561.4,34 L557.8,34 L557.8,38.3 L556.6,38.3 Z" fill="#cc1630"/>
<path d="M487.5,158.8 L492.54,154.6 L492.54,156.49 L503.8,156.49 L503.8,161.11 L492.54,161.11 L492.54,163 Z" fill="url(#garrL)" stroke="#5a6070" stroke-width="0.5"/>
<path d="M521.2,151.6 L526.48,147.2 L526.48,149.18 L536.3,149.18 L536.3,154.02 L526.48,154.02 L526.48,156 Z" fill="url(#garrL)" stroke="#5a6070" stroke-width="0.5"/>
<path d="M598.5,151.6 L593.22,147.2 L593.22,149.18 L583.2,149.18 L583.2,154.02 L593.22,154.02 L593.22,156 Z" fill="url(#garrR)" stroke="#5a6070" stroke-width="0.5"/>
<path d="M635.2,158.6 L630.16,154.4 L630.16,156.29 L620.2,156.29 L620.2,160.91 L630.16,160.91 L630.16,162.8 Z" fill="url(#garrR)" stroke="#5a6070" stroke-width="0.5"/>
<text transform="translate(473.7,45.1) scale(1,1)" font-size="8" text-anchor="middle" fill="#3d8fd6" stroke="#3d8fd6" stroke-width="0.15" font-weight="bold">Extraction</text>
<text transform="translate(648.9,45.3) scale(1,1)" font-size="8" text-anchor="middle" fill="#3d8fd6" stroke="#3d8fd6" stroke-width="0.15" font-weight="bold">Extraction</text>
<text transform="translate(559.6,30.9) scale(1,1)" font-size="8" text-anchor="middle" fill="#c8142e" stroke="#c8142e" stroke-width="0.15" font-weight="bold">Injection</text>
<text transform="translate(450.3,69.1) scale(1,1)" font-size="9" text-anchor="middle" fill="#d4203a" stroke="#d4203a" stroke-width="0.15" font-weight="bold">A</text>
<text transform="translate(674.4,68) scale(1,1)" font-size="9" text-anchor="middle" fill="#d4203a" stroke="#d4203a" stroke-width="0.15" font-weight="bold">A'</text>
<path d="M476.8,67 L486.9,58.8" stroke="#3a3030" stroke-width="0.8" fill="none"/>
<line x1="486.9" y1="58.8" x2="506.6" y2="58.8" stroke="#3a3030" stroke-width="0.8" fill="none"/>
<line x1="510.6" y1="58.8" x2="531.3" y2="58.8" stroke="#3a3030" stroke-width="0.8" fill="none"/>
<circle cx="508.6" cy="58.8" r="2" fill="#fff" stroke="#3a3030" stroke-width="0.8"/>
<text transform="translate(496.75,57.2) scale(1,1)" font-size="7.9" text-anchor="middle" fill="#1a1a1a" stroke="#1a1a1a" stroke-width="0.15" font-weight="bold">EW3</text>
<text transform="translate(496.75,66.1) scale(1,1)" font-size="7.9" text-anchor="middle" fill="#1a1a1a" stroke="#1a1a1a" stroke-width="0.15" font-weight="bold">6.00</text>
<text transform="translate(521.45,57.2) scale(1,1)" font-size="7.9" text-anchor="middle" fill="#1a1a1a" stroke="#1a1a1a" stroke-width="0.15" font-weight="bold">-0.35</text>
<text transform="translate(521.45,66.1) scale(1,1)" font-size="7.9" text-anchor="middle" fill="#1a1a1a" stroke="#1a1a1a" stroke-width="0.15" font-weight="bold">-1.58</text>
<path d="M563,55 L567,47.4" stroke="#3a3030" stroke-width="0.8" fill="none"/>
<line x1="567" y1="47.4" x2="587" y2="47.4" stroke="#3a3030" stroke-width="0.8" fill="none"/>
<line x1="591" y1="47.4" x2="610.5" y2="47.4" stroke="#3a3030" stroke-width="0.8" fill="none"/>
<circle cx="589" cy="47.4" r="2" fill="#fff" stroke="#3a3030" stroke-width="0.8"/>
<text transform="translate(577,45.8) scale(1,1)" font-size="7.9" text-anchor="middle" fill="#1a1a1a" stroke="#1a1a1a" stroke-width="0.15" font-weight="bold">IW</text>
<text transform="translate(577,54.7) scale(1,1)" font-size="7.9" text-anchor="middle" fill="#1a1a1a" stroke="#1a1a1a" stroke-width="0.15" font-weight="bold">6.00</text>
<text transform="translate(601.25,45.8) scale(1,1)" font-size="7.9" text-anchor="middle" fill="#1a1a1a" stroke="#1a1a1a" stroke-width="0.15" font-weight="bold">-0.36</text>
<text transform="translate(601.25,54.7) scale(1,1)" font-size="7.9" text-anchor="middle" fill="#1a1a1a" stroke="#1a1a1a" stroke-width="0.15" font-weight="bold">-1.52</text>
<rect x="591.5" y="68.2" width="47" height="7.2" fill="#fff"/>
<path d="M645.4,74.8 L637.4,67.5" stroke="#3a3030" stroke-width="0.8" fill="none"/>
<line x1="592.8" y1="67.5" x2="612.3" y2="67.5" stroke="#3a3030" stroke-width="0.8" fill="none"/>
<line x1="616.3" y1="67.5" x2="637" y2="67.5" stroke="#3a3030" stroke-width="0.8" fill="none"/>
<circle cx="614.3" cy="67.5" r="2" fill="#fff" stroke="#3a3030" stroke-width="0.8"/>
<text transform="translate(602.55,65.9) scale(1,1)" font-size="7.9" text-anchor="middle" fill="#1a1a1a" stroke="#1a1a1a" stroke-width="0.15" font-weight="bold">EW1</text>
<text transform="translate(602.55,74.8) scale(1,1)" font-size="7.9" text-anchor="middle" fill="#1a1a1a" stroke="#1a1a1a" stroke-width="0.15" font-weight="bold">6.00</text>
<text transform="translate(627.15,65.9) scale(1,1)" font-size="7.9" text-anchor="middle" fill="#1a1a1a" stroke="#1a1a1a" stroke-width="0.15" font-weight="bold">-0.38</text>
<text transform="translate(627.15,74.8) scale(1,1)" font-size="7.9" text-anchor="middle" fill="#1a1a1a" stroke="#1a1a1a" stroke-width="0.15" font-weight="bold">-1.47</text>
<pattern id="pswc" width="2.2" height="2.2" patternUnits="userSpaceOnUse"><rect width="2.2" height="2.2" fill="#c6c6c6"/><path d="M0,0 L2.2,2.2 M2.2,0 L0,2.2" stroke="#8e8e8e" stroke-width="0.5"/></pattern>
<rect x="445.6" y="193.4" width="17.9" height="11.9" rx="0.8" fill="#e3e3e3" stroke="#8a8a8a" stroke-width="1"/>
<rect x="456.42" y="203.27" width="0.9" height="0.9" fill="#c8c8c8"/>
<rect x="449.79" y="197.6" width="0.9" height="0.9" fill="#c8c8c8"/>
<rect x="458.11" y="200.66" width="0.9" height="0.9" fill="#c8c8c8"/>
<rect x="452.78" y="200.95" width="0.9" height="0.9" fill="#c8c8c8"/>
<rect x="451.74" y="195.05" width="0.9" height="0.9" fill="#c8c8c8"/>
<rect x="452.92" y="194.93" width="0.9" height="0.9" fill="#c8c8c8"/>
<rect x="456.21" y="197.68" width="0.9" height="0.9" fill="#c8c8c8"/>
<rect x="454.16" y="200.18" width="0.9" height="0.9" fill="#c8c8c8"/>
<rect x="450.48" y="198.9" width="0.9" height="0.9" fill="#c8c8c8"/>
<rect x="446.71" y="203.29" width="0.9" height="0.9" fill="#c8c8c8"/>
<rect x="455.24" y="203.88" width="0.9" height="0.9" fill="#c8c8c8"/>
<rect x="447.37" y="200.33" width="0.9" height="0.9" fill="#c8c8c8"/>
<rect x="457.72" y="197.63" width="0.9" height="0.9" fill="#c8c8c8"/>
<rect x="447.95" y="195.98" width="0.9" height="0.9" fill="#c8c8c8"/>
<rect x="448.71" y="201.79" width="0.9" height="0.9" fill="#c8c8c8"/>
<rect x="447.89" y="202.23" width="0.9" height="0.9" fill="#c8c8c8"/>
<rect x="453.06" y="199.62" width="0.9" height="0.9" fill="#c8c8c8"/>
<rect x="455.62" y="199.77" width="0.9" height="0.9" fill="#c8c8c8"/>
<rect x="456.69" y="200.21" width="0.9" height="0.9" fill="#c8c8c8"/>
<rect x="451.63" y="201.54" width="0.9" height="0.9" fill="#c8c8c8"/>
<rect x="450.5" y="201.26" width="0.9" height="0.9" fill="#c8c8c8"/>
<rect x="458.33" y="201.87" width="0.9" height="0.9" fill="#c8c8c8"/>
<rect x="451.29" y="201.84" width="0.9" height="0.9" fill="#c8c8c8"/>
<rect x="461.65" y="198.81" width="0.9" height="0.9" fill="#c8c8c8"/>
<rect x="450.81" y="199.47" width="0.9" height="0.9" fill="#c8c8c8"/>
<rect x="461.08" y="195.75" width="0.9" height="0.9" fill="#c8c8c8"/>
<rect x="446.64" y="199.02" width="0.9" height="0.9" fill="#c8c8c8"/>
<rect x="456.66" y="201.85" width="0.9" height="0.9" fill="#c8c8c8"/>
<rect x="452.12" y="203.9" width="0.9" height="0.9" fill="#c8c8c8"/>
<rect x="450.04" y="201.69" width="0.9" height="0.9" fill="#c8c8c8"/>
<rect x="447.89" y="194.77" width="0.9" height="0.9" fill="#c8c8c8"/>
<rect x="448.58" y="195.07" width="0.9" height="0.9" fill="#c8c8c8"/>
<rect x="454.28" y="199.77" width="0.9" height="0.9" fill="#c8c8c8"/>
<rect x="449.32" y="203.43" width="0.9" height="0.9" fill="#c8c8c8"/>
<rect x="452.17" y="195.92" width="0.9" height="0.9" fill="#c8c8c8"/>
<rect x="449.25" y="201.51" width="0.9" height="0.9" fill="#c8c8c8"/>
<rect x="460.78" y="196.04" width="0.9" height="0.9" fill="#c8c8c8"/>
<rect x="446.95" y="201.89" width="0.9" height="0.9" fill="#c8c8c8"/>
<rect x="450.26" y="203.83" width="0.9" height="0.9" fill="#c8c8c8"/>
<rect x="454.23" y="200.54" width="0.9" height="0.9" fill="#c8c8c8"/>
<rect x="554.4" y="193.4" width="17" height="11.9" fill="url(#pswc)" stroke="#666" stroke-width="1"/>
<rect x="567.2" y="193.9" width="3.7" height="10.9" fill="#d0d0d0" opacity="0.6"/>
<rect x="639.6" y="193.6" width="17.6" height="11.6" fill="#fafafa" stroke="#5a5a5a" stroke-width="1"/>
<line x1="640.5" y1="195.6" x2="656.5" y2="195.6" stroke="#b4b4b4" stroke-width="0.6" stroke-dasharray="4,1.2"/>
<line x1="640.5" y1="199.3" x2="656.5" y2="199.3" stroke="#b4b4b4" stroke-width="0.6" stroke-dasharray="4,1.2"/>
<line x1="640.5" y1="201.3" x2="656.5" y2="201.3" stroke="#b4b4b4" stroke-width="0.6" stroke-dasharray="4,1.2"/>
<line x1="640.5" y1="203.6" x2="656.5" y2="203.6" stroke="#b4b4b4" stroke-width="0.6" stroke-dasharray="4,1.2"/>
<line x1="648.5" y1="194" x2="648.5" y2="205" stroke="#c8c8c8" stroke-width="0.5"/>
<text transform="translate(471.5,202.6) scale(1,1)" font-size="9.3" text-anchor="start" fill="#1a1a1a" stroke="#1a1a1a" stroke-width="0.15" font-weight="bold">Backfilled soil</text>
<text transform="translate(579.2,202.6) scale(1,1)" font-size="9.3" text-anchor="start" fill="#1a1a1a" stroke="#1a1a1a" stroke-width="0.15" font-weight="bold">Silty clay</text>
<text transform="translate(663.9,202.6) scale(1,1)" font-size="9.3" text-anchor="start" fill="#1a1a1a" stroke="#1a1a1a" stroke-width="0.15" font-weight="bold">Silt</text>
<text transform="translate(-0.6,230.7) scale(1,1)" font-size="13" text-anchor="start" fill="#1a1a1a" stroke="#1a1a1a" stroke-width="0.15" font-weight="bold">d</text>
<defs>
<clipPath id="cd0"><rect x="28.7" y="234.6" width="133.6" height="157.4"/></clipPath>
<clipPath id="cd1"><rect x="168.3" y="234.6" width="133.3" height="157.4"/></clipPath>
<clipPath id="cd2"><rect x="308.2" y="234.6" width="133.4" height="157.4"/></clipPath>
</defs>
<g clip-path="url(#cd0)">
<path d="M29,389.4 C32,389.4 43.58,389.53 47,389.4 C50.42,389.27 48.67,389.83 49.5,388.6 C50.33,387.37 51.05,385.4 52,382 C52.95,378.6 54.13,374.2 55.2,368.2 C56.27,362.2 57.43,352.7 58.4,346 C59.37,339.3 60.2,333.5 61,328 C61.8,322.5 62.45,317.67 63.2,313 C63.95,308.33 64.7,304.58 65.5,300 C66.3,295.42 67.25,289.17 68,285.5 C68.75,281.83 69.27,280.15 70,278 C70.73,275.85 71.5,273.93 72.4,272.6 C73.3,271.27 74.43,270.15 75.4,270 C76.37,269.85 77.17,270.3 78.2,271.7 C79.23,273.1 80.48,275.05 81.6,278.4 C82.72,281.75 83.78,287.05 84.9,291.8 C86.02,296.55 87.32,302.2 88.3,306.9 C89.28,311.6 90.1,316.32 90.8,320 C91.5,323.68 91.63,325 92.5,329 C93.37,333 94.83,339.33 96,344 C97.17,348.67 98.4,353.22 99.5,357 C100.6,360.78 101.18,363.45 102.6,366.7 C104.02,369.95 106.22,373.88 108,376.5 C109.78,379.12 111.47,380.9 113.3,382.4 C115.13,383.9 116.9,384.68 119,385.5 C121.1,386.32 123.23,386.82 125.9,387.3 C128.57,387.78 131.82,388.12 135,388.4 C138.18,388.68 140.45,388.85 145,389 C149.55,389.15 159.42,389.25 162.3,389.3" fill="none" stroke="#555" stroke-width="0.7"/>
<path d="M29,389.5 C30.83,389.5 37.63,389.52 40,389.5 C42.37,389.48 42.28,389.73 43.2,389.4 C44.12,389.07 44.83,388.37 45.5,387.5 C46.17,386.63 46.38,386.08 47.2,384.2 C48.02,382.32 49.33,379.4 50.4,376.2 C51.47,373 52.67,368.47 53.6,365 C54.53,361.53 55.2,358.33 56,355.4 C56.8,352.47 57.47,349.8 58.4,347.4 C59.33,345 60.4,342.87 61.6,341 C62.8,339.13 64.13,337.85 65.6,336.2 C67.07,334.55 69.25,332.07 70.4,331.1 C71.55,330.13 71.83,330.48 72.5,330.4 C73.17,330.32 73.42,330.3 74.4,330.6 C75.38,330.9 76.57,330.53 78.4,332.2 C80.23,333.87 83.03,337.4 85.4,340.6 C87.77,343.8 90.5,348.4 92.6,351.4 C94.7,354.4 96.63,356.95 98,358.6 C99.37,360.25 99.47,359.73 100.8,361.3 C102.13,362.87 104.22,365.92 106,368 C107.78,370.08 109.5,371.88 111.5,373.8 C113.5,375.72 115.6,377.85 118,379.5 C120.4,381.15 123.73,382.57 125.9,383.7 C128.07,384.83 129.2,385.55 131,386.3 C132.8,387.05 134.37,387.72 136.7,388.2 C139.03,388.68 140.73,388.98 145,389.2 C149.27,389.42 159.42,389.45 162.3,389.5" fill="none" stroke="#f0454c" stroke-width="0.8"/>
</g>
<rect x="30.9" y="386.8" width="3.6" height="3.6" fill="#8c8c8c" stroke="#2a2a2a" stroke-width="0.7"/>
<rect x="35.1" y="385.7" width="3.6" height="3.6" fill="#8c8c8c" stroke="#2a2a2a" stroke-width="0.7"/>
<rect x="39" y="383.4" width="3.6" height="3.6" fill="#8c8c8c" stroke="#2a2a2a" stroke-width="0.7"/>
<rect x="43" y="380.1" width="3.6" height="3.6" fill="#8c8c8c" stroke="#2a2a2a" stroke-width="0.7"/>
<rect x="47.2" y="371" width="3.6" height="3.6" fill="#8c8c8c" stroke="#2a2a2a" stroke-width="0.7"/>
<rect x="51" y="339.2" width="3.6" height="3.6" fill="#8c8c8c" stroke="#2a2a2a" stroke-width="0.7"/>
<rect x="55" y="315.1" width="3.6" height="3.6" fill="#8c8c8c" stroke="#2a2a2a" stroke-width="0.7"/>
<rect x="59.2" y="301.2" width="3.6" height="3.6" fill="#8c8c8c" stroke="#2a2a2a" stroke-width="0.7"/>
<rect x="63" y="297.6" width="3.6" height="3.6" fill="#8c8c8c" stroke="#2a2a2a" stroke-width="0.7"/>
<rect x="67.1" y="289.7" width="3.6" height="3.6" fill="#8c8c8c" stroke="#2a2a2a" stroke-width="0.7"/>
<rect x="71.1" y="285" width="3.6" height="3.6" fill="#8c8c8c" stroke="#2a2a2a" stroke-width="0.7"/>
<rect x="75.1" y="282" width="3.6" height="3.6" fill="#8c8c8c" stroke="#2a2a2a" stroke-width="0.7"/>
<rect x="79.1" y="274.1" width="3.6" height="3.6" fill="#8c8c8c" stroke="#2a2a2a" stroke-width="0.7"/>
<rect x="83.1" y="309.4" width="3.6" height="3.6" fill="#8c8c8c" stroke="#2a2a2a" stroke-width="0.7"/>
<rect x="87.2" y="340.3" width="3.6" height="3.6" fill="#8c8c8c" stroke="#2a2a2a" stroke-width="0.7"/>
<rect x="91" y="359.2" width="3.6" height="3.6" fill="#8c8c8c" stroke="#2a2a2a" stroke-width="0.7"/>
<rect x="95" y="374.1" width="3.6" height="3.6" fill="#8c8c8c" stroke="#2a2a2a" stroke-width="0.7"/>
<rect x="99.1" y="380.6" width="3.6" height="3.6" fill="#8c8c8c" stroke="#2a2a2a" stroke-width="0.7"/>
<rect x="103" y="383.1" width="3.6" height="3.6" fill="#8c8c8c" stroke="#2a2a2a" stroke-width="0.7"/>
<rect x="106.8" y="383.4" width="3.6" height="3.6" fill="#8c8c8c" stroke="#2a2a2a" stroke-width="0.7"/>
<rect x="115.1" y="384" width="3.6" height="3.6" fill="#8c8c8c" stroke="#2a2a2a" stroke-width="0.7"/>
<rect x="122.8" y="384.8" width="3.6" height="3.6" fill="#8c8c8c" stroke="#2a2a2a" stroke-width="0.7"/>
<rect x="134.9" y="385" width="3.6" height="3.6" fill="#8c8c8c" stroke="#2a2a2a" stroke-width="0.7"/>
<rect x="138.8" y="385.5" width="3.6" height="3.6" fill="#8c8c8c" stroke="#2a2a2a" stroke-width="0.7"/>
<rect x="142.8" y="385.5" width="3.6" height="3.6" fill="#8c8c8c" stroke="#2a2a2a" stroke-width="0.7"/>
<rect x="146.8" y="385" width="3.6" height="3.6" fill="#8c8c8c" stroke="#2a2a2a" stroke-width="0.7"/>
<rect x="151" y="385.5" width="3.6" height="3.6" fill="#8c8c8c" stroke="#2a2a2a" stroke-width="0.7"/>
<rect x="155" y="385.5" width="3.6" height="3.6" fill="#8c8c8c" stroke="#2a2a2a" stroke-width="0.7"/>
<circle cx="32.7" cy="389.4" r="1.9" fill="#f06a6e" stroke="#2a2a2a" stroke-width="0.7"/>
<circle cx="36.9" cy="389.4" r="1.9" fill="#f06a6e" stroke="#2a2a2a" stroke-width="0.7"/>
<circle cx="40.8" cy="389.4" r="1.9" fill="#f06a6e" stroke="#2a2a2a" stroke-width="0.7"/>
<circle cx="44.8" cy="389.4" r="1.9" fill="#f06a6e" stroke="#2a2a2a" stroke-width="0.7"/>
<circle cx="48.8" cy="389.2" r="1.9" fill="#f06a6e" stroke="#2a2a2a" stroke-width="0.7"/>
<circle cx="52.9" cy="386.3" r="1.9" fill="#f06a6e" stroke="#2a2a2a" stroke-width="0.7"/>
<circle cx="56.9" cy="369.2" r="1.9" fill="#f06a6e" stroke="#2a2a2a" stroke-width="0.7"/>
<circle cx="60.7" cy="356.1" r="1.9" fill="#f06a6e" stroke="#2a2a2a" stroke-width="0.7"/>
<circle cx="64.8" cy="348.7" r="1.9" fill="#f06a6e" stroke="#2a2a2a" stroke-width="0.7"/>
<circle cx="68.9" cy="339.2" r="1.9" fill="#f06a6e" stroke="#2a2a2a" stroke-width="0.7"/>
<circle cx="72.9" cy="334.7" r="1.9" fill="#f06a6e" stroke="#2a2a2a" stroke-width="0.7"/>
<circle cx="76.8" cy="332.6" r="1.9" fill="#f06a6e" stroke="#2a2a2a" stroke-width="0.7"/>
<circle cx="80.8" cy="329" r="1.9" fill="#f06a6e" stroke="#2a2a2a" stroke-width="0.7"/>
<circle cx="84.7" cy="341" r="1.9" fill="#f06a6e" stroke="#2a2a2a" stroke-width="0.7"/>
<circle cx="88.7" cy="357.7" r="1.9" fill="#f06a6e" stroke="#2a2a2a" stroke-width="0.7"/>
<circle cx="92.8" cy="370.5" r="1.9" fill="#f06a6e" stroke="#2a2a2a" stroke-width="0.7"/>
<circle cx="96.7" cy="380.5" r="1.9" fill="#f06a6e" stroke="#2a2a2a" stroke-width="0.7"/>
<circle cx="100.7" cy="385.4" r="1.9" fill="#f06a6e" stroke="#2a2a2a" stroke-width="0.7"/>
<circle cx="104.8" cy="387.9" r="1.9" fill="#f06a6e" stroke="#2a2a2a" stroke-width="0.7"/>
<circle cx="108.6" cy="388.4" r="1.9" fill="#f06a6e" stroke="#2a2a2a" stroke-width="0.7"/>
<circle cx="116.9" cy="389" r="1.9" fill="#f06a6e" stroke="#2a2a2a" stroke-width="0.7"/>
<circle cx="124.6" cy="389" r="1.9" fill="#f06a6e" stroke="#2a2a2a" stroke-width="0.7"/>
<circle cx="136.7" cy="389" r="1.9" fill="#f06a6e" stroke="#2a2a2a" stroke-width="0.7"/>
<circle cx="140.6" cy="389" r="1.9" fill="#f06a6e" stroke="#2a2a2a" stroke-width="0.7"/>
<circle cx="144.6" cy="389" r="1.9" fill="#f06a6e" stroke="#2a2a2a" stroke-width="0.7"/>
<circle cx="148.6" cy="389" r="1.9" fill="#f06a6e" stroke="#2a2a2a" stroke-width="0.7"/>
<circle cx="152.8" cy="389" r="1.9" fill="#f06a6e" stroke="#2a2a2a" stroke-width="0.7"/>
<circle cx="156.8" cy="389" r="1.9" fill="#f06a6e" stroke="#2a2a2a" stroke-width="0.7"/>
<path d="M28.7,392 L28.7,234.6 L162.3,234.6 L162.3,392" fill="none" stroke="#3a3a3a" stroke-width="1"/>
<line x1="28.2" y1="392" x2="162.8" y2="392" stroke="#1e1e1e" stroke-width="1.3"/>
<line x1="28.7" y1="392" x2="28.7" y2="388.6" stroke="#222" stroke-width="0.8"/>
<line x1="42.06" y1="392" x2="42.06" y2="390" stroke="#222" stroke-width="0.8"/>
<line x1="55.42" y1="392" x2="55.42" y2="388.6" stroke="#222" stroke-width="0.8"/>
<line x1="68.78" y1="392" x2="68.78" y2="390" stroke="#222" stroke-width="0.8"/>
<line x1="82.14" y1="392" x2="82.14" y2="388.6" stroke="#222" stroke-width="0.8"/>
<line x1="95.5" y1="392" x2="95.5" y2="390" stroke="#222" stroke-width="0.8"/>
<line x1="108.86" y1="392" x2="108.86" y2="388.6" stroke="#222" stroke-width="0.8"/>
<line x1="122.22" y1="392" x2="122.22" y2="390" stroke="#222" stroke-width="0.8"/>
<line x1="135.58" y1="392" x2="135.58" y2="388.6" stroke="#222" stroke-width="0.8"/>
<line x1="148.94" y1="392" x2="148.94" y2="390" stroke="#222" stroke-width="0.8"/>
<line x1="162.3" y1="392" x2="162.3" y2="388.6" stroke="#222" stroke-width="0.8"/>
<text transform="translate(34.9,248.9) scale(1,1)" font-size="10" text-anchor="start" fill="#1a1a1a" stroke="#1a1a1a" stroke-width="0.15" font-weight="bold">EW1</text>
<line x1="105.2" y1="243.2" x2="118.5" y2="243.2" stroke="#aaa" stroke-width="0.9"/>
<rect x="109.8" y="241.1" width="4.2" height="4.2" fill="#8c8c8c" stroke="#2a2a2a" stroke-width="0.7"/>
<line x1="105.2" y1="252.2" x2="118.5" y2="252.2" stroke="#f0454c" stroke-width="0.8"/>
<circle cx="112.1" cy="252.2" r="2.2" fill="#f06a6e" stroke="#2a2a2a" stroke-width="0.7"/>
<text transform="translate(122.8,245.8) scale(1,1)" font-size="7.5" text-anchor="start" fill="#1a1a1a" stroke="#1a1a1a" stroke-width="0.15" font-weight="bold">PVA-fCB</text>
<text transform="translate(122.8,254.8) scale(1,1)" font-size="7.5" text-anchor="start" fill="#1a1a1a" stroke="#1a1a1a" stroke-width="0.15" font-weight="bold">NR</text>
<g clip-path="url(#cd1)">
<path d="M168.3,389.4 C168.83,389.38 170.62,389.72 171.5,389.3 C172.38,388.88 173.02,388.78 173.6,386.9 C174.18,385.02 174.53,381.27 175,378 C175.47,374.73 175.8,372.82 176.4,367.3 C177,361.78 177.77,352.35 178.6,344.9 C179.43,337.45 180.37,329.12 181.4,322.6 C182.43,316.08 183.53,310.7 184.8,305.8 C186.07,300.9 187.6,296.47 189,293.2 C190.4,289.93 191.8,287.93 193.2,286.2 C194.6,284.47 196.23,283.03 197.4,282.8 C198.57,282.57 199.27,282.37 200.2,284.8 C201.13,287.23 202.07,292.5 203,297.4 C203.93,302.3 204.97,309.77 205.8,314.2 C206.63,318.63 207.32,320.87 208,324 C208.68,327.13 209.03,329.3 209.9,333 C210.77,336.7 211.92,342.18 213.2,346.2 C214.48,350.22 215.77,353.82 217.6,357.1 C219.43,360.38 222.13,363.67 224.2,365.9 C226.27,368.13 227.28,368.68 230,370.5 C232.72,372.32 237,374.97 240.5,376.8 C244,378.63 247.5,380.27 251,381.5 C254.5,382.73 257.65,383.55 261.5,384.2 C265.35,384.85 269.72,385.05 274.1,385.4 C278.48,385.75 283.22,386.07 287.8,386.3 C292.38,386.53 299.3,386.72 301.6,386.8" fill="none" stroke="#555" stroke-width="0.7"/>
<path d="M168.3,389.5 C169,389.48 171.38,389.83 172.5,389.4 C173.62,388.97 174.12,389.65 175,386.9 C175.88,384.15 176.87,377.57 177.8,372.9 C178.73,368.23 179.67,363.1 180.6,358.9 C181.53,354.7 182.23,351.43 183.4,347.7 C184.57,343.97 186.2,339.3 187.6,336.5 C189,333.7 190.4,331.92 191.8,330.9 C193.2,329.88 194.6,329.93 196,330.4 C197.4,330.87 198.8,331.85 200.2,333.7 C201.6,335.55 203.1,339.2 204.4,341.5 C205.7,343.8 206.87,345.67 208,347.5 C209.13,349.33 209.83,350.12 211.2,352.5 C212.57,354.88 214.77,358.97 216.2,361.8 C217.63,364.63 218.68,367.55 219.8,369.5 C220.92,371.45 221.43,371.78 222.9,373.5 C224.37,375.22 226.92,378.35 228.6,379.8 C230.28,381.25 231.72,381.53 233,382.2 C234.28,382.87 235.05,383.17 236.3,383.8 C237.55,384.43 238.05,385.33 240.5,386 C242.95,386.67 247.25,387.33 251,387.8 C254.75,388.27 254.57,388.57 263,388.8 C271.43,389.03 295.17,389.13 301.6,389.2" fill="none" stroke="#f0454c" stroke-width="0.8"/>
</g>
<rect x="170.6" y="382.2" width="3.6" height="3.6" fill="#8c8c8c" stroke="#2a2a2a" stroke-width="0.7"/>
<rect x="174.2" y="376.8" width="3.6" height="3.6" fill="#8c8c8c" stroke="#2a2a2a" stroke-width="0.7"/>
<rect x="178.4" y="345" width="3.6" height="3.6" fill="#8c8c8c" stroke="#2a2a2a" stroke-width="0.7"/>
<rect x="182.3" y="307.4" width="3.6" height="3.6" fill="#8c8c8c" stroke="#2a2a2a" stroke-width="0.7"/>
<rect x="186.1" y="295.8" width="3.6" height="3.6" fill="#8c8c8c" stroke="#2a2a2a" stroke-width="0.7"/>
<rect x="190.2" y="292" width="3.6" height="3.6" fill="#8c8c8c" stroke="#2a2a2a" stroke-width="0.7"/>
<rect x="194" y="281.9" width="3.6" height="3.6" fill="#8c8c8c" stroke="#2a2a2a" stroke-width="0.7"/>
<rect x="198.4" y="280.8" width="3.6" height="3.6" fill="#8c8c8c" stroke="#2a2a2a" stroke-width="0.7"/>
<rect x="214.1" y="333.6" width="3.6" height="3.6" fill="#8c8c8c" stroke="#2a2a2a" stroke-width="0.7"/>
<rect x="218.1" y="360.4" width="3.6" height="3.6" fill="#8c8c8c" stroke="#2a2a2a" stroke-width="0.7"/>
<rect x="222.1" y="373.4" width="3.6" height="3.6" fill="#8c8c8c" stroke="#2a2a2a" stroke-width="0.7"/>
<rect x="226.5" y="378.8" width="3.6" height="3.6" fill="#8c8c8c" stroke="#2a2a2a" stroke-width="0.7"/>
<rect x="230.3" y="381.8" width="3.6" height="3.6" fill="#8c8c8c" stroke="#2a2a2a" stroke-width="0.7"/>
<rect x="234.3" y="384" width="3.6" height="3.6" fill="#8c8c8c" stroke="#2a2a2a" stroke-width="0.7"/>
<rect x="238.5" y="384.5" width="3.6" height="3.6" fill="#8c8c8c" stroke="#2a2a2a" stroke-width="0.7"/>
<rect x="242.4" y="384.5" width="3.6" height="3.6" fill="#8c8c8c" stroke="#2a2a2a" stroke-width="0.7"/>
<rect x="246.3" y="382.9" width="3.6" height="3.6" fill="#8c8c8c" stroke="#2a2a2a" stroke-width="0.7"/>
<rect x="254" y="384.5" width="3.6" height="3.6" fill="#8c8c8c" stroke="#2a2a2a" stroke-width="0.7"/>
<rect x="261.8" y="384.5" width="3.6" height="3.6" fill="#8c8c8c" stroke="#2a2a2a" stroke-width="0.7"/>
<rect x="273.9" y="384.5" width="3.6" height="3.6" fill="#8c8c8c" stroke="#2a2a2a" stroke-width="0.7"/>
<rect x="278.1" y="384.5" width="3.6" height="3.6" fill="#8c8c8c" stroke="#2a2a2a" stroke-width="0.7"/>
<rect x="282" y="384.5" width="3.6" height="3.6" fill="#8c8c8c" stroke="#2a2a2a" stroke-width="0.7"/>
<rect x="286" y="384.5" width="3.6" height="3.6" fill="#8c8c8c" stroke="#2a2a2a" stroke-width="0.7"/>
<rect x="290.2" y="384.5" width="3.6" height="3.6" fill="#8c8c8c" stroke="#2a2a2a" stroke-width="0.7"/>
<rect x="294.2" y="384.5" width="3.6" height="3.6" fill="#8c8c8c" stroke="#2a2a2a" stroke-width="0.7"/>
<circle cx="172.4" cy="389" r="1.9" fill="#f06a6e" stroke="#2a2a2a" stroke-width="0.7"/>
<circle cx="176" cy="388.6" r="1.9" fill="#f06a6e" stroke="#2a2a2a" stroke-width="0.7"/>
<circle cx="180.2" cy="381.9" r="1.9" fill="#f06a6e" stroke="#2a2a2a" stroke-width="0.7"/>
<circle cx="184.1" cy="358.8" r="1.9" fill="#f06a6e" stroke="#2a2a2a" stroke-width="0.7"/>
<circle cx="188.1" cy="349" r="1.9" fill="#f06a6e" stroke="#2a2a2a" stroke-width="0.7"/>
<circle cx="192" cy="346.8" r="1.9" fill="#f06a6e" stroke="#2a2a2a" stroke-width="0.7"/>
<circle cx="196.1" cy="338.1" r="1.9" fill="#f06a6e" stroke="#2a2a2a" stroke-width="0.7"/>
<circle cx="200.2" cy="332.5" r="1.9" fill="#f06a6e" stroke="#2a2a2a" stroke-width="0.7"/>
<circle cx="215.9" cy="355.6" r="1.9" fill="#f06a6e" stroke="#2a2a2a" stroke-width="0.7"/>
<circle cx="219.9" cy="370.6" r="1.9" fill="#f06a6e" stroke="#2a2a2a" stroke-width="0.7"/>
<circle cx="223.9" cy="381.1" r="1.9" fill="#f06a6e" stroke="#2a2a2a" stroke-width="0.7"/>
<circle cx="228.3" cy="384.8" r="1.9" fill="#f06a6e" stroke="#2a2a2a" stroke-width="0.7"/>
<circle cx="232.1" cy="387.5" r="1.9" fill="#f06a6e" stroke="#2a2a2a" stroke-width="0.7"/>
<circle cx="236.1" cy="388.2" r="1.9" fill="#f06a6e" stroke="#2a2a2a" stroke-width="0.7"/>
<circle cx="240.3" cy="388.6" r="1.9" fill="#f06a6e" stroke="#2a2a2a" stroke-width="0.7"/>
<circle cx="244.2" cy="388.7" r="1.9" fill="#f06a6e" stroke="#2a2a2a" stroke-width="0.7"/>
<circle cx="248.1" cy="388.7" r="1.9" fill="#f06a6e" stroke="#2a2a2a" stroke-width="0.7"/>
<circle cx="255.8" cy="388.6" r="1.9" fill="#f06a6e" stroke="#2a2a2a" stroke-width="0.7"/>
<circle cx="263.6" cy="388.7" r="1.9" fill="#f06a6e" stroke="#2a2a2a" stroke-width="0.7"/>
<circle cx="275.7" cy="388.7" r="1.9" fill="#f06a6e" stroke="#2a2a2a" stroke-width="0.7"/>
<circle cx="279.9" cy="388.7" r="1.9" fill="#f06a6e" stroke="#2a2a2a" stroke-width="0.7"/>
<circle cx="283.8" cy="388.7" r="1.9" fill="#f06a6e" stroke="#2a2a2a" stroke-width="0.7"/>
<circle cx="287.8" cy="388.7" r="1.9" fill="#f06a6e" stroke="#2a2a2a" stroke-width="0.7"/>
<circle cx="292" cy="388.7" r="1.9" fill="#f06a6e" stroke="#2a2a2a" stroke-width="0.7"/>
<circle cx="296" cy="388.7" r="1.9" fill="#f06a6e" stroke="#2a2a2a" stroke-width="0.7"/>
<path d="M168.3,392 L168.3,234.6 L301.6,234.6 L301.6,392" fill="none" stroke="#3a3a3a" stroke-width="1"/>
<line x1="167.8" y1="392" x2="302.1" y2="392" stroke="#1e1e1e" stroke-width="1.3"/>
<line x1="168.3" y1="392" x2="168.3" y2="388.6" stroke="#222" stroke-width="0.8"/>
<line x1="181.63" y1="392" x2="181.63" y2="390" stroke="#222" stroke-width="0.8"/>
<line x1="194.96" y1="392" x2="194.96" y2="388.6" stroke="#222" stroke-width="0.8"/>
<line x1="208.29" y1="392" x2="208.29" y2="390" stroke="#222" stroke-width="0.8"/>
<line x1="221.62" y1="392" x2="221.62" y2="388.6" stroke="#222" stroke-width="0.8"/>
<line x1="234.95" y1="392" x2="234.95" y2="390" stroke="#222" stroke-width="0.8"/>
<line x1="248.28" y1="392" x2="248.28" y2="388.6" stroke="#222" stroke-width="0.8"/>
<line x1="261.61" y1="392" x2="261.61" y2="390" stroke="#222" stroke-width="0.8"/>
<line x1="274.94" y1="392" x2="274.94" y2="388.6" stroke="#222" stroke-width="0.8"/>
<line x1="288.27" y1="392" x2="288.27" y2="390" stroke="#222" stroke-width="0.8"/>
<line x1="301.6" y1="392" x2="301.6" y2="388.6" stroke="#222" stroke-width="0.8"/>
<text transform="translate(174.5,248.9) scale(1,1)" font-size="10" text-anchor="start" fill="#1a1a1a" stroke="#1a1a1a" stroke-width="0.15" font-weight="bold">EW2</text>
<line x1="248" y1="243.2" x2="261.3" y2="243.2" stroke="#aaa" stroke-width="0.9"/>
<rect x="252.6" y="241.1" width="4.2" height="4.2" fill="#8c8c8c" stroke="#2a2a2a" stroke-width="0.7"/>
<line x1="248" y1="252.2" x2="261.3" y2="252.2" stroke="#f0454c" stroke-width="0.8"/>
<circle cx="254.9" cy="252.2" r="2.2" fill="#f06a6e" stroke="#2a2a2a" stroke-width="0.7"/>
<text transform="translate(265.6,245.8) scale(1,1)" font-size="7.5" text-anchor="start" fill="#1a1a1a" stroke="#1a1a1a" stroke-width="0.15" font-weight="bold">PVA-fCB</text>
<text transform="translate(265.6,254.8) scale(1,1)" font-size="7.5" text-anchor="start" fill="#1a1a1a" stroke="#1a1a1a" stroke-width="0.15" font-weight="bold">NR</text>
<g clip-path="url(#cd2)">
<path d="M308.2,389.5 C308.67,389.48 310.17,389.48 311,389.4 C311.83,389.32 312.28,389.65 313.2,389 C314.12,388.35 315.3,387.13 316.5,385.5 C317.7,383.87 319.15,382.03 320.4,379.2 C321.65,376.37 322.9,373.03 324,368.5 C325.1,363.97 326,358.7 327,352 C328,345.3 329.17,334.8 330,328.3 C330.83,321.8 331.27,317.38 332,313 C332.73,308.62 333.28,305.53 334.4,302 C335.52,298.47 337.52,294.13 338.7,291.8 C339.88,289.47 340.52,288.82 341.5,288 C342.48,287.18 343.37,286.5 344.6,286.9 C345.83,287.3 347.45,287.88 348.9,290.4 C350.35,292.92 351.83,297.15 353.3,302 C354.77,306.85 356.25,313.67 357.7,319.5 C359.15,325.33 360.55,331.9 362,337 C363.45,342.1 364.7,345.73 366.4,350.1 C368.1,354.47 370.43,359.92 372.2,363.2 C373.97,366.48 375.37,367.83 377,369.8 C378.63,371.77 379.83,373.27 382,375 C384.17,376.73 387.5,378.9 390,380.2 C392.5,381.5 394.33,382 397,382.8 C399.67,383.6 401.5,384.33 406,385 C410.5,385.67 418.07,386.42 424,386.8 C429.93,387.18 438.67,387.22 441.6,387.3" fill="none" stroke="#555" stroke-width="0.7"/>
<path d="M308.2,389.6 C309,389.58 311.53,389.68 313,389.5 C314.47,389.32 315.77,389.02 317,388.5 C318.23,387.98 319.4,387.65 320.4,386.4 C321.4,385.15 322.12,383.1 323,381 C323.88,378.9 324.87,376.3 325.7,373.8 C326.53,371.3 327.28,368.55 328,366 C328.72,363.45 329.18,361.88 330,358.5 C330.82,355.12 331.68,350.25 332.9,345.7 C334.12,341.15 336.12,334.65 337.3,331.2 C338.48,327.75 339.03,326.7 340,325 C340.97,323.3 341.85,322.25 343.1,321 C344.35,319.75 346.05,317.5 347.5,317.5 C348.95,317.5 350.1,318.72 351.8,321 C353.5,323.28 355.75,327.32 357.7,331.2 C359.65,335.08 361.57,340.18 363.5,344.3 C365.43,348.42 367.12,352.27 369.3,355.9 C371.48,359.53 373.93,362.93 376.6,366.1 C379.27,369.27 383.07,372.95 385.3,374.9 C387.53,376.85 388.07,376.63 390,377.8 C391.93,378.97 394.25,380.62 396.9,381.9 C399.55,383.18 402.62,384.6 405.9,385.5 C409.18,386.4 410.65,386.83 416.6,387.3 C422.55,387.77 437.43,388.13 441.6,388.3" fill="none" stroke="#f0454c" stroke-width="0.8"/>
</g>
<rect x="310.1" y="384.6" width="3.6" height="3.6" fill="#8c8c8c" stroke="#2a2a2a" stroke-width="0.7"/>
<rect x="314.1" y="381.9" width="3.6" height="3.6" fill="#8c8c8c" stroke="#2a2a2a" stroke-width="0.7"/>
<rect x="318.2" y="376" width="3.6" height="3.6" fill="#8c8c8c" stroke="#2a2a2a" stroke-width="0.7"/>
<rect x="322.2" y="364" width="3.6" height="3.6" fill="#8c8c8c" stroke="#2a2a2a" stroke-width="0.7"/>
<rect x="326.1" y="329" width="3.6" height="3.6" fill="#8c8c8c" stroke="#2a2a2a" stroke-width="0.7"/>
<rect x="330.2" y="318.2" width="3.6" height="3.6" fill="#8c8c8c" stroke="#2a2a2a" stroke-width="0.7"/>
<rect x="334.3" y="300.1" width="3.6" height="3.6" fill="#8c8c8c" stroke="#2a2a2a" stroke-width="0.7"/>
<rect x="338.4" y="284.7" width="3.6" height="3.6" fill="#8c8c8c" stroke="#2a2a2a" stroke-width="0.7"/>
<rect x="342.4" y="280.8" width="3.6" height="3.6" fill="#8c8c8c" stroke="#2a2a2a" stroke-width="0.7"/>
<rect x="346.1" y="269.4" width="3.6" height="3.6" fill="#8c8c8c" stroke="#2a2a2a" stroke-width="0.7"/>
<rect x="358.1" y="304.3" width="3.6" height="3.6" fill="#8c8c8c" stroke="#2a2a2a" stroke-width="0.7"/>
<rect x="362.1" y="322.1" width="3.6" height="3.6" fill="#8c8c8c" stroke="#2a2a2a" stroke-width="0.7"/>
<rect x="366.1" y="357.7" width="3.6" height="3.6" fill="#8c8c8c" stroke="#2a2a2a" stroke-width="0.7"/>
<rect x="370.2" y="368.1" width="3.6" height="3.6" fill="#8c8c8c" stroke="#2a2a2a" stroke-width="0.7"/>
<rect x="374.4" y="380.1" width="3.6" height="3.6" fill="#8c8c8c" stroke="#2a2a2a" stroke-width="0.7"/>
<rect x="378.4" y="385.5" width="3.6" height="3.6" fill="#8c8c8c" stroke="#2a2a2a" stroke-width="0.7"/>
<rect x="382.2" y="385.5" width="3.6" height="3.6" fill="#8c8c8c" stroke="#2a2a2a" stroke-width="0.7"/>
<rect x="386.1" y="385.5" width="3.6" height="3.6" fill="#8c8c8c" stroke="#2a2a2a" stroke-width="0.7"/>
<rect x="394.2" y="385.5" width="3.6" height="3.6" fill="#8c8c8c" stroke="#2a2a2a" stroke-width="0.7"/>
<rect x="402.3" y="385" width="3.6" height="3.6" fill="#8c8c8c" stroke="#2a2a2a" stroke-width="0.7"/>
<rect x="414.5" y="385.8" width="3.6" height="3.6" fill="#8c8c8c" stroke="#2a2a2a" stroke-width="0.7"/>
<rect x="418.4" y="385.8" width="3.6" height="3.6" fill="#8c8c8c" stroke="#2a2a2a" stroke-width="0.7"/>
<rect x="422.4" y="385.8" width="3.6" height="3.6" fill="#8c8c8c" stroke="#2a2a2a" stroke-width="0.7"/>
<rect x="426.5" y="385.5" width="3.6" height="3.6" fill="#8c8c8c" stroke="#2a2a2a" stroke-width="0.7"/>
<rect x="430.5" y="385.8" width="3.6" height="3.6" fill="#8c8c8c" stroke="#2a2a2a" stroke-width="0.7"/>
<rect x="434.6" y="385.8" width="3.6" height="3.6" fill="#8c8c8c" stroke="#2a2a2a" stroke-width="0.7"/>
<circle cx="311.9" cy="388.7" r="1.9" fill="#f06a6e" stroke="#2a2a2a" stroke-width="0.7"/>
<circle cx="315.9" cy="387.3" r="1.9" fill="#f06a6e" stroke="#2a2a2a" stroke-width="0.7"/>
<circle cx="320" cy="384.3" r="1.9" fill="#f06a6e" stroke="#2a2a2a" stroke-width="0.7"/>
<circle cx="324" cy="367.9" r="1.9" fill="#f06a6e" stroke="#2a2a2a" stroke-width="0.7"/>
<circle cx="327.9" cy="361.3" r="1.9" fill="#f06a6e" stroke="#2a2a2a" stroke-width="0.7"/>
<circle cx="332" cy="345.1" r="1.9" fill="#f06a6e" stroke="#2a2a2a" stroke-width="0.7"/>
<circle cx="336.2" cy="337.9" r="1.9" fill="#f06a6e" stroke="#2a2a2a" stroke-width="0.7"/>
<circle cx="340.1" cy="326.8" r="1.9" fill="#f06a6e" stroke="#2a2a2a" stroke-width="0.7"/>
<circle cx="344.1" cy="324.7" r="1.9" fill="#f06a6e" stroke="#2a2a2a" stroke-width="0.7"/>
<circle cx="348" cy="319" r="1.9" fill="#f06a6e" stroke="#2a2a2a" stroke-width="0.7"/>
<circle cx="359.9" cy="348.4" r="1.9" fill="#f06a6e" stroke="#2a2a2a" stroke-width="0.7"/>
<circle cx="363.8" cy="362.7" r="1.9" fill="#f06a6e" stroke="#2a2a2a" stroke-width="0.7"/>
<circle cx="367.9" cy="372.1" r="1.9" fill="#f06a6e" stroke="#2a2a2a" stroke-width="0.7"/>
<circle cx="372.1" cy="381.6" r="1.9" fill="#f06a6e" stroke="#2a2a2a" stroke-width="0.7"/>
<circle cx="376.3" cy="384.2" r="1.9" fill="#f06a6e" stroke="#2a2a2a" stroke-width="0.7"/>
<circle cx="380.2" cy="388.5" r="1.9" fill="#f06a6e" stroke="#2a2a2a" stroke-width="0.7"/>
<circle cx="384" cy="389" r="1.9" fill="#f06a6e" stroke="#2a2a2a" stroke-width="0.7"/>
<circle cx="387.9" cy="389" r="1.9" fill="#f06a6e" stroke="#2a2a2a" stroke-width="0.7"/>
<circle cx="396" cy="388.5" r="1.9" fill="#f06a6e" stroke="#2a2a2a" stroke-width="0.7"/>
<circle cx="404.1" cy="389" r="1.9" fill="#f06a6e" stroke="#2a2a2a" stroke-width="0.7"/>
<circle cx="416.3" cy="389" r="1.9" fill="#f06a6e" stroke="#2a2a2a" stroke-width="0.7"/>
<circle cx="420.2" cy="389" r="1.9" fill="#f06a6e" stroke="#2a2a2a" stroke-width="0.7"/>
<circle cx="424.2" cy="389" r="1.9" fill="#f06a6e" stroke="#2a2a2a" stroke-width="0.7"/>
<circle cx="428.3" cy="389" r="1.9" fill="#f06a6e" stroke="#2a2a2a" stroke-width="0.7"/>
<circle cx="432.3" cy="389" r="1.9" fill="#f06a6e" stroke="#2a2a2a" stroke-width="0.7"/>
<circle cx="436.4" cy="389" r="1.9" fill="#f06a6e" stroke="#2a2a2a" stroke-width="0.7"/>
<path d="M308.2,392 L308.2,234.6 L441.6,234.6 L441.6,392" fill="none" stroke="#3a3a3a" stroke-width="1"/>
<line x1="307.7" y1="392" x2="442.1" y2="392" stroke="#1e1e1e" stroke-width="1.3"/>
<line x1="308.2" y1="392" x2="308.2" y2="388.6" stroke="#222" stroke-width="0.8"/>
<line x1="321.54" y1="392" x2="321.54" y2="390" stroke="#222" stroke-width="0.8"/>
<line x1="334.88" y1="392" x2="334.88" y2="388.6" stroke="#222" stroke-width="0.8"/>
<line x1="348.22" y1="392" x2="348.22" y2="390" stroke="#222" stroke-width="0.8"/>
<line x1="361.56" y1="392" x2="361.56" y2="388.6" stroke="#222" stroke-width="0.8"/>
<line x1="374.9" y1="392" x2="374.9" y2="390" stroke="#222" stroke-width="0.8"/>
<line x1="388.24" y1="392" x2="388.24" y2="388.6" stroke="#222" stroke-width="0.8"/>
<line x1="401.58" y1="392" x2="401.58" y2="390" stroke="#222" stroke-width="0.8"/>
<line x1="414.92" y1="392" x2="414.92" y2="388.6" stroke="#222" stroke-width="0.8"/>
<line x1="428.26" y1="392" x2="428.26" y2="390" stroke="#222" stroke-width="0.8"/>
<line x1="441.6" y1="392" x2="441.6" y2="388.6" stroke="#222" stroke-width="0.8"/>
<text transform="translate(314.4,248.9) scale(1,1)" font-size="10" text-anchor="start" fill="#1a1a1a" stroke="#1a1a1a" stroke-width="0.15" font-weight="bold">EW3</text>
<line x1="388.5" y1="243.2" x2="401.8" y2="243.2" stroke="#aaa" stroke-width="0.9"/>
<rect x="393.1" y="241.1" width="4.2" height="4.2" fill="#8c8c8c" stroke="#2a2a2a" stroke-width="0.7"/>
<line x1="388.5" y1="252.2" x2="401.8" y2="252.2" stroke="#f0454c" stroke-width="0.8"/>
<circle cx="395.4" cy="252.2" r="2.2" fill="#f06a6e" stroke="#2a2a2a" stroke-width="0.7"/>
<text transform="translate(406.1,245.8) scale(1,1)" font-size="7.5" text-anchor="start" fill="#1a1a1a" stroke="#1a1a1a" stroke-width="0.15" font-weight="bold">PVA-fCB</text>
<text transform="translate(406.1,254.8) scale(1,1)" font-size="7.5" text-anchor="start" fill="#1a1a1a" stroke="#1a1a1a" stroke-width="0.15" font-weight="bold">NR</text>
<line x1="28.7" y1="389.2" x2="31.9" y2="389.2" stroke="#222" stroke-width="0.8"/>
<text transform="translate(25.4,391.6) scale(1,1)" font-size="9.2" text-anchor="end" fill="#1a1a1a" stroke="#1a1a1a" stroke-width="0.15" font-weight="bold">0.0</text>
<line x1="28.7" y1="375.2" x2="30.7" y2="375.2" stroke="#222" stroke-width="0.8"/>
<line x1="28.7" y1="361.2" x2="31.9" y2="361.2" stroke="#222" stroke-width="0.8"/>
<text transform="translate(25.4,363.6) scale(1,1)" font-size="9.2" text-anchor="end" fill="#1a1a1a" stroke="#1a1a1a" stroke-width="0.15" font-weight="bold">0.2</text>
<line x1="28.7" y1="347.2" x2="30.7" y2="347.2" stroke="#222" stroke-width="0.8"/>
<line x1="28.7" y1="333.2" x2="31.9" y2="333.2" stroke="#222" stroke-width="0.8"/>
<text transform="translate(25.4,335.6) scale(1,1)" font-size="9.2" text-anchor="end" fill="#1a1a1a" stroke="#1a1a1a" stroke-width="0.15" font-weight="bold">0.4</text>
<line x1="28.7" y1="319.2" x2="30.7" y2="319.2" stroke="#222" stroke-width="0.8"/>
<line x1="28.7" y1="305.2" x2="31.9" y2="305.2" stroke="#222" stroke-width="0.8"/>
<text transform="translate(25.4,307.6) scale(1,1)" font-size="9.2" text-anchor="end" fill="#1a1a1a" stroke="#1a1a1a" stroke-width="0.15" font-weight="bold">0.6</text>
<line x1="28.7" y1="291.2" x2="30.7" y2="291.2" stroke="#222" stroke-width="0.8"/>
<line x1="28.7" y1="277.2" x2="31.9" y2="277.2" stroke="#222" stroke-width="0.8"/>
<text transform="translate(25.4,279.6) scale(1,1)" font-size="9.2" text-anchor="end" fill="#1a1a1a" stroke="#1a1a1a" stroke-width="0.15" font-weight="bold">0.8</text>
<line x1="28.7" y1="263.2" x2="30.7" y2="263.2" stroke="#222" stroke-width="0.8"/>
<line x1="28.7" y1="249.2" x2="31.9" y2="249.2" stroke="#222" stroke-width="0.8"/>
<text transform="translate(25.4,251.6) scale(1,1)" font-size="9.2" text-anchor="end" fill="#1a1a1a" stroke="#1a1a1a" stroke-width="0.15" font-weight="bold">1.0</text>
<text transform="translate(7.4,312.7) rotate(-90) scale(1,1)" font-size="9.2" text-anchor="middle" fill="#1a1a1a" stroke="#1a1a1a" stroke-width="0.15" font-weight="bold" font-style="italic">C/C0</text>
<text transform="translate(28.8,402.6) scale(1,1)" font-size="9.2" text-anchor="middle" fill="#1a1a1a" stroke="#1a1a1a" stroke-width="0.15" font-weight="bold">0</text>
<text transform="translate(55,402.6) scale(1,1)" font-size="9.2" text-anchor="middle" fill="#1a1a1a" stroke="#1a1a1a" stroke-width="0.15" font-weight="bold">10</text>
<text transform="translate(81.9,402.6) scale(1,1)" font-size="9.2" text-anchor="middle" fill="#1a1a1a" stroke="#1a1a1a" stroke-width="0.15" font-weight="bold">20</text>
<text transform="translate(108.4,402.6) scale(1,1)" font-size="9.2" text-anchor="middle" fill="#1a1a1a" stroke="#1a1a1a" stroke-width="0.15" font-weight="bold">30</text>
<text transform="translate(134.9,402.6) scale(1,1)" font-size="9.2" text-anchor="middle" fill="#1a1a1a" stroke="#1a1a1a" stroke-width="0.15" font-weight="bold">40</text>
<text transform="translate(158.8,402.6) scale(1,1)" font-size="9.2" text-anchor="middle" fill="#1a1a1a" stroke="#1a1a1a" stroke-width="0.15" font-weight="bold">50</text>
<text transform="translate(95.5,415.6) scale(1,1)" font-size="9.2" text-anchor="middle" fill="#1a1a1a" stroke="#1a1a1a" stroke-width="0.15" font-weight="bold">Time (h)</text>
<text transform="translate(168.6,402.6) scale(1,1)" font-size="9.2" text-anchor="middle" fill="#1a1a1a" stroke="#1a1a1a" stroke-width="0.15" font-weight="bold">0</text>
<text transform="translate(194.5,402.6) scale(1,1)" font-size="9.2" text-anchor="middle" fill="#1a1a1a" stroke="#1a1a1a" stroke-width="0.15" font-weight="bold">10</text>
<text transform="translate(220.9,402.6) scale(1,1)" font-size="9.2" text-anchor="middle" fill="#1a1a1a" stroke="#1a1a1a" stroke-width="0.15" font-weight="bold">20</text>
<text transform="translate(247.3,402.6) scale(1,1)" font-size="9.2" text-anchor="middle" fill="#1a1a1a" stroke="#1a1a1a" stroke-width="0.15" font-weight="bold">30</text>
<text transform="translate(273.6,402.6) scale(1,1)" font-size="9.2" text-anchor="middle" fill="#1a1a1a" stroke="#1a1a1a" stroke-width="0.15" font-weight="bold">40</text>
<text transform="translate(299.2,402.6) scale(1,1)" font-size="9.2" text-anchor="middle" fill="#1a1a1a" stroke="#1a1a1a" stroke-width="0.15" font-weight="bold">50</text>
<text transform="translate(234.95,415.6) scale(1,1)" font-size="9.2" text-anchor="middle" fill="#1a1a1a" stroke="#1a1a1a" stroke-width="0.15" font-weight="bold">Time (h)</text>
<text transform="translate(309.6,402.6) scale(1,1)" font-size="9.2" text-anchor="middle" fill="#1a1a1a" stroke="#1a1a1a" stroke-width="0.15" font-weight="bold">0</text>
<text transform="translate(335.7,402.6) scale(1,1)" font-size="9.2" text-anchor="middle" fill="#1a1a1a" stroke="#1a1a1a" stroke-width="0.15" font-weight="bold">10</text>
<text transform="translate(362,402.6) scale(1,1)" font-size="9.2" text-anchor="middle" fill="#1a1a1a" stroke="#1a1a1a" stroke-width="0.15" font-weight="bold">20</text>
<text transform="translate(388.4,402.6) scale(1,1)" font-size="9.2" text-anchor="middle" fill="#1a1a1a" stroke="#1a1a1a" stroke-width="0.15" font-weight="bold">30</text>
<text transform="translate(414.8,402.6) scale(1,1)" font-size="9.2" text-anchor="middle" fill="#1a1a1a" stroke="#1a1a1a" stroke-width="0.15" font-weight="bold">40</text>
<text transform="translate(440.6,402.6) scale(1,1)" font-size="9.2" text-anchor="middle" fill="#1a1a1a" stroke="#1a1a1a" stroke-width="0.15" font-weight="bold">50</text>
<text transform="translate(375.9,415.6) scale(1,1)" font-size="9.2" text-anchor="middle" fill="#1a1a1a" stroke="#1a1a1a" stroke-width="0.15" font-weight="bold">Time (h)</text>
<text transform="translate(454.2,229.8) scale(1,1)" font-size="13" text-anchor="start" fill="#1a1a1a" stroke="#1a1a1a" stroke-width="0.15" font-weight="bold">e</text>
<line x1="517.42" y1="234.2" x2="517.42" y2="391.3" stroke="#dcdcdc" stroke-width="0.9"/>
<line x1="484.7" y1="365" x2="680.5" y2="365" stroke="#dcdcdc" stroke-width="0.9"/>
<line x1="550.04" y1="234.2" x2="550.04" y2="391.3" stroke="#dcdcdc" stroke-width="0.9"/>
<line x1="484.7" y1="338.8" x2="680.5" y2="338.8" stroke="#dcdcdc" stroke-width="0.9"/>
<line x1="582.66" y1="234.2" x2="582.66" y2="391.3" stroke="#dcdcdc" stroke-width="0.9"/>
<line x1="484.7" y1="312.6" x2="680.5" y2="312.6" stroke="#dcdcdc" stroke-width="0.9"/>
<line x1="615.28" y1="234.2" x2="615.28" y2="391.3" stroke="#dcdcdc" stroke-width="0.9"/>
<line x1="484.7" y1="286.4" x2="680.5" y2="286.4" stroke="#dcdcdc" stroke-width="0.9"/>
<line x1="647.9" y1="234.2" x2="647.9" y2="391.3" stroke="#dcdcdc" stroke-width="0.9"/>
<line x1="484.7" y1="260.2" x2="680.5" y2="260.2" stroke="#dcdcdc" stroke-width="0.9"/>
<path d="M506.3,363.7 Q582.75,304.7 659.2,241.9 L659.2,259.9 Q582.75,320.7 506.3,383.7 Z" fill="#d9d9d9"/>
<line x1="505.8" y1="374.3" x2="659.2" y2="251.5" stroke="#161616" stroke-width="1.5"/>
<rect x="494" y="239.5" width="123" height="27.5" fill="#fff"/>
<line x1="496.8" y1="247" x2="514.3" y2="247" stroke="#3a2c2c" stroke-width="1.6"/>
<rect x="497.2" y="255.1" width="17.1" height="8.8" fill="#d9d9d9"/>
<text transform="translate(521.3,249.9) scale(1,1)" font-size="8" text-anchor="start" fill="#1a1a1a" stroke="#1a1a1a" stroke-width="0.15" font-weight="bold">1:1 <tspan font-style="italic">S</tspan><tspan font-size="6">n</tspan> relationship</text>
<text transform="translate(521.3,262.7) scale(1,1)" font-size="8" text-anchor="start" fill="#1a1a1a" stroke="#1a1a1a" stroke-width="0.15" font-weight="bold">99% confidence interval</text>
<rect x="484.7" y="234.2" width="195.8" height="157.1" fill="none" stroke="#2a2a2a" stroke-width="1"/>
<line x1="484.2" y1="391.3" x2="681" y2="391.3" stroke="#111" stroke-width="1.3"/>
<line x1="484.8" y1="391.3" x2="484.8" y2="388.3" stroke="#222" stroke-width="0.8"/>
<line x1="484.7" y1="391.2" x2="487.7" y2="391.2" stroke="#222" stroke-width="0.8"/>
<text transform="translate(485.1,402.9) scale(1,1)" font-size="9.2" text-anchor="middle" fill="#1a1a1a" stroke="#1a1a1a" stroke-width="0.15" font-weight="bold">1.3</text>
<text transform="translate(481.4,394.5) scale(1,1)" font-size="9.2" text-anchor="end" fill="#1a1a1a" stroke="#1a1a1a" stroke-width="0.15" font-weight="bold">1.3</text>
<line x1="501.11" y1="391.3" x2="501.11" y2="389.3" stroke="#222" stroke-width="0.8"/>
<line x1="484.7" y1="378.1" x2="486.7" y2="378.1" stroke="#222" stroke-width="0.8"/>
<line x1="517.42" y1="391.3" x2="517.42" y2="388.3" stroke="#222" stroke-width="0.8"/>
<line x1="484.7" y1="365" x2="487.7" y2="365" stroke="#222" stroke-width="0.8"/>
<text transform="translate(517.72,402.9) scale(1,1)" font-size="9.2" text-anchor="middle" fill="#1a1a1a" stroke="#1a1a1a" stroke-width="0.15" font-weight="bold">1.4</text>
<text transform="translate(481.4,368.3) scale(1,1)" font-size="9.2" text-anchor="end" fill="#1a1a1a" stroke="#1a1a1a" stroke-width="0.15" font-weight="bold">1.4</text>
<line x1="533.73" y1="391.3" x2="533.73" y2="389.3" stroke="#222" stroke-width="0.8"/>
<line x1="484.7" y1="351.9" x2="486.7" y2="351.9" stroke="#222" stroke-width="0.8"/>
<line x1="550.04" y1="391.3" x2="550.04" y2="388.3" stroke="#222" stroke-width="0.8"/>
<line x1="484.7" y1="338.8" x2="487.7" y2="338.8" stroke="#222" stroke-width="0.8"/>
<text transform="translate(550.34,402.9) scale(1,1)" font-size="9.2" text-anchor="middle" fill="#1a1a1a" stroke="#1a1a1a" stroke-width="0.15" font-weight="bold">1.5</text>
<text transform="translate(481.4,342.1) scale(1,1)" font-size="9.2" text-anchor="end" fill="#1a1a1a" stroke="#1a1a1a" stroke-width="0.15" font-weight="bold">1.5</text>
<line x1="566.35" y1="391.3" x2="566.35" y2="389.3" stroke="#222" stroke-width="0.8"/>
<line x1="484.7" y1="325.7" x2="486.7" y2="325.7" stroke="#222" stroke-width="0.8"/>
<line x1="582.66" y1="391.3" x2="582.66" y2="388.3" stroke="#222" stroke-width="0.8"/>
<line x1="484.7" y1="312.6" x2="487.7" y2="312.6" stroke="#222" stroke-width="0.8"/>
<text transform="translate(582.96,402.9) scale(1,1)" font-size="9.2" text-anchor="middle" fill="#1a1a1a" stroke="#1a1a1a" stroke-width="0.15" font-weight="bold">1.6</text>
<text transform="translate(481.4,315.9) scale(1,1)" font-size="9.2" text-anchor="end" fill="#1a1a1a" stroke="#1a1a1a" stroke-width="0.15" font-weight="bold">1.6</text>
<line x1="598.97" y1="391.3" x2="598.97" y2="389.3" stroke="#222" stroke-width="0.8"/>
<line x1="484.7" y1="299.5" x2="486.7" y2="299.5" stroke="#222" stroke-width="0.8"/>
<line x1="615.28" y1="391.3" x2="615.28" y2="388.3" stroke="#222" stroke-width="0.8"/>
<line x1="484.7" y1="286.4" x2="487.7" y2="286.4" stroke="#222" stroke-width="0.8"/>
<text transform="translate(615.58,402.9) scale(1,1)" font-size="9.2" text-anchor="middle" fill="#1a1a1a" stroke="#1a1a1a" stroke-width="0.15" font-weight="bold">1.7</text>
<text transform="translate(481.4,289.7) scale(1,1)" font-size="9.2" text-anchor="end" fill="#1a1a1a" stroke="#1a1a1a" stroke-width="0.15" font-weight="bold">1.7</text>
<line x1="631.59" y1="391.3" x2="631.59" y2="389.3" stroke="#222" stroke-width="0.8"/>
<line x1="484.7" y1="273.3" x2="486.7" y2="273.3" stroke="#222" stroke-width="0.8"/>
<line x1="647.9" y1="391.3" x2="647.9" y2="388.3" stroke="#222" stroke-width="0.8"/>
<line x1="484.7" y1="260.2" x2="487.7" y2="260.2" stroke="#222" stroke-width="0.8"/>
<text transform="translate(648.2,402.9) scale(1,1)" font-size="9.2" text-anchor="middle" fill="#1a1a1a" stroke="#1a1a1a" stroke-width="0.15" font-weight="bold">1.8</text>
<text transform="translate(481.4,263.5) scale(1,1)" font-size="9.2" text-anchor="end" fill="#1a1a1a" stroke="#1a1a1a" stroke-width="0.15" font-weight="bold">1.8</text>
<line x1="664.21" y1="391.3" x2="664.21" y2="389.3" stroke="#222" stroke-width="0.8"/>
<line x1="484.7" y1="247.1" x2="486.7" y2="247.1" stroke="#222" stroke-width="0.8"/>
<line x1="680.52" y1="391.3" x2="680.52" y2="388.3" stroke="#222" stroke-width="0.8"/>
<line x1="484.7" y1="234" x2="487.7" y2="234" stroke="#222" stroke-width="0.8"/>
<text transform="translate(680.82,402.9) scale(1,1)" font-size="9.2" text-anchor="middle" fill="#1a1a1a" stroke="#1a1a1a" stroke-width="0.15" font-weight="bold">1.9</text>
<text transform="translate(481.4,237.3) scale(1,1)" font-size="9.2" text-anchor="end" fill="#1a1a1a" stroke="#1a1a1a" stroke-width="0.15" font-weight="bold">1.9</text>
<text transform="translate(582.2,415.6) scale(1,1)" font-size="9.3" text-anchor="middle" fill="#1a1a1a" stroke="#1a1a1a" stroke-width="0.15" font-weight="bold">FPOC <tspan font-style="italic">S</tspan><tspan font-size="6.2">n</tspan> from Boring (%)</text>
<text transform="translate(462,312.5) rotate(-90) scale(1,1)" font-size="9.3" text-anchor="middle" fill="#1a1a1a" stroke="#1a1a1a" stroke-width="0.15" font-weight="bold">FPOC <tspan font-style="italic">S</tspan><tspan font-size="6.2">n</tspan>&#160; by Reporter (%)</text>
<polyline points="517.7,348.5 522.8,323.2 548.2,323.2" fill="none" stroke="#222" stroke-width="1"/>
<polyline points="611.5,293 620.8,324.8 646.7,324.8" fill="none" stroke="#222" stroke-width="1"/>
<polyline points="647.5,265 651.3,298.7 677.1,298.7" fill="none" stroke="#222" stroke-width="1"/>
<circle cx="515.7" cy="352.8" r="4.4" fill="#fdb972" stroke="#1e1e1e" stroke-width="1.1"/>
<circle cx="608.8" cy="288.5" r="4.4" fill="#fdb972" stroke="#1e1e1e" stroke-width="1.1"/>
<circle cx="645.7" cy="260.9" r="4.4" fill="#fdb972" stroke="#1e1e1e" stroke-width="1.1"/>
<text transform="translate(535.9,321.3) scale(1,1)" font-size="10" text-anchor="middle" fill="#1a1a1a" stroke="#1a1a1a" stroke-width="0.15" font-weight="bold">EW3</text>
<text transform="translate(633.7,322.8) scale(1,1)" font-size="10" text-anchor="middle" fill="#1a1a1a" stroke="#1a1a1a" stroke-width="0.15" font-weight="bold">EW2</text>
<text transform="translate(663.3,297.8) scale(1,1)" font-size="10" text-anchor="middle" fill="#1a1a1a" stroke="#1a1a1a" stroke-width="0.15" font-weight="bold">EW1</text>
</svg></body></html>
